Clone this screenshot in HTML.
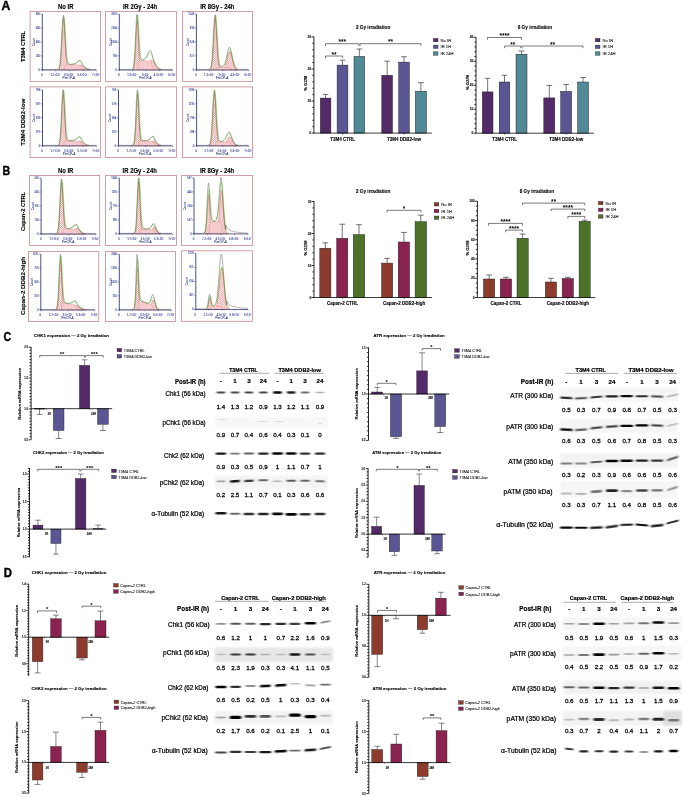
<!DOCTYPE html>
<html lang="en">
<head>
<meta charset="utf-8">
<title>Figure: cell cycle and checkpoint expression after irradiation</title>
<style>
html,body{margin:0;padding:0;background:#fff;}
body{width:685px;height:797px;overflow:hidden;font-family:'Liberation Sans', sans-serif;}
svg{display:block;font-family:"Liberation Sans",sans-serif;filter:blur(0.35px);}
</style>
</head>
<body>
<svg width="685" height="797" viewBox="0 0 685 797">
<defs>
<pattern id="hx" width="2.2" height="2.2" patternUnits="userSpaceOnUse">
<rect width="2.2" height="2.2" fill="#fffafa"/>
<path d="M0 0L2.2 2.2M2.2 0L0 2.2" stroke="#dc3f46" stroke-width="0.3"/>
</pattern>
<pattern id="vx" width="2" height="4" patternUnits="userSpaceOnUse">
<rect width="2" height="4" fill="#fffdfd"/>
<path d="M1 0V4" stroke="#d9353c" stroke-width="0.5"/>
</pattern>
<filter id="b1" x="-30%" y="-150%" width="160%" height="400%"><feGaussianBlur stdDeviation="1.0 0.55"/></filter>
<filter id="b2" x="-10%" y="-50%" width="120%" height="200%"><feGaussianBlur stdDeviation="1.2"/></filter>
<filter id="soft" x="-5%" y="-5%" width="110%" height="110%"><feGaussianBlur stdDeviation="0.35"/></filter>
</defs>
<rect width="685" height="797" fill="#fff"/>
<rect x="30.10" y="11.50" width="70.40" height="70.00" fill="#fff" stroke="#c98f96" stroke-width="0.85" />
<path d="M59.1 69.8L59.1 69.1L59.6 68.1L60.1 66.0L60.6 62.1L61.1 55.9L61.6 47.3L62.1 37.2L62.6 27.5L63.1 20.6L63.6 18.4L64.1 21.7L64.6 29.4L65.1 39.4L65.6 49.3L66.1 57.4L66.6 63.1L67.1 66.5L67.6 68.4L68.1 69.2L68.1 69.8Z" fill="url(#hx)" stroke="#d8434a" stroke-width="0.4" />
<path d="M71.5 69.8L71.5 69.8L72.0 69.8L72.5 69.7L73.0 69.7L73.5 69.6L74.0 69.5L74.5 69.4L75.0 69.2L75.5 69.0L76.0 68.7L76.5 68.4L77.0 68.0L77.5 67.5L78.0 67.1L78.5 66.6L79.0 66.2L79.5 65.8L80.0 65.4L80.4 65.2L80.9 65.1L81.4 65.1L81.9 65.3L82.4 65.5L82.9 65.9L83.4 66.3L83.9 66.8L84.4 67.2L84.9 67.7L85.4 68.1L85.9 68.5L86.4 68.8L86.9 69.1L87.4 69.3L87.9 69.4L88.4 69.6L88.9 69.6L89.4 69.7L89.9 69.7L90.4 69.8L90.4 69.8Z" fill="url(#hx)" stroke="#d8434a" stroke-width="0.4" />
<path d="M64.6 69.8L64.6 66.0L65.1 65.4L65.6 65.1L66.1 65.0L66.6 64.9L67.1 64.8L67.6 64.8L68.1 64.8L68.6 64.8L69.1 64.8L69.5 64.8L70.0 64.8L70.5 64.8L71.0 64.8L71.5 64.8L72.0 64.8L72.5 64.8L73.0 64.8L73.5 64.8L74.0 64.8L74.5 64.8L75.0 64.8L75.5 64.8L76.0 64.8L76.5 64.8L77.0 64.8L77.5 64.8L78.0 64.8L78.5 64.9L79.0 64.9L79.5 65.0L80.0 65.2L80.4 65.6L80.9 66.2L81.4 67.0L81.9 67.9L82.4 68.6L82.9 69.1L83.4 69.5L83.9 69.6L84.4 69.7L84.4 69.8Z" fill="url(#vx)" stroke="#e0474c" stroke-width="0.22" />
<path d="M57.2 69.3L57.7 69.2L58.2 69.1L58.6 68.6L59.1 67.7L59.6 66.0L60.1 62.9L60.6 58.2L61.1 51.5L61.6 43.1L62.1 33.9L62.6 25.4L63.1 19.3L63.6 16.8L64.1 18.5L64.6 24.0L65.1 31.9L65.6 40.5L66.1 48.3L66.6 54.5L67.1 58.8L67.6 61.5L68.1 63.0L68.6 63.8L69.1 64.1L69.5 64.3L70.0 64.3L70.5 64.3L71.0 64.3L71.5 64.3L72.0 64.3L72.5 64.2L73.0 64.1L73.5 64.0L74.0 63.9L74.5 63.7L75.0 63.5L75.5 63.3L76.0 63.0L76.5 62.6L77.0 62.2L77.5 61.8L78.0 61.3L78.5 60.9L79.0 60.6L79.5 60.3L80.0 60.2L80.4 60.4L80.9 60.9L81.4 61.7L81.9 62.7L82.4 63.7L82.9 64.6L83.4 65.3L83.9 65.9L84.4 66.4L84.9 66.9L85.4 67.3L85.9 67.7L86.4 68.1L86.9 68.4L87.4 68.6L87.9 68.8L88.4 69.0L88.9 69.1" fill="none" stroke="#5cd832" stroke-width="0.5" stroke-linejoin="round" transform="translate(0.25 0)"/>
<path d="M42.3 69.6L42.8 69.3L43.3 69.3L43.8 69.6L44.3 69.5L44.8 69.5L45.3 69.4L45.8 69.3L46.3 69.6L46.8 69.7L47.3 69.3L47.7 69.5L48.2 69.3L48.7 69.7L49.2 69.5L49.7 69.4L50.2 69.6L50.7 69.3L51.2 69.3L51.7 69.7L52.2 69.7L52.7 69.4L53.2 69.3L53.7 69.5L54.2 69.6L54.7 69.5L55.2 69.7L55.7 69.6L56.2 69.5L56.7 69.4L57.2 69.6L57.7 69.5L58.2 69.4L58.6 69.1L59.1 68.5L59.6 67.3L60.1 64.3L60.6 60.0L61.1 53.3L61.6 44.7L62.1 34.3L62.6 24.8L63.1 18.1L63.6 15.2L64.1 17.2L64.6 23.6L65.1 32.5L65.6 42.2L66.1 50.1L66.6 56.2L67.1 60.3L67.6 62.4L68.1 63.4L68.6 64.0L69.1 64.3L69.5 64.4L70.0 64.6L70.5 64.6L71.0 64.3L71.5 64.5L72.0 64.5L72.5 64.4L73.0 64.2L73.5 64.2L74.0 64.2L74.5 64.1L75.0 63.9L75.5 63.5L76.0 63.4L76.5 63.1L77.0 62.7L77.5 62.4L78.0 62.0L78.5 61.3L79.0 60.7L79.5 60.6L80.0 60.6L80.4 60.9L80.9 61.2L81.4 61.8L81.9 62.9L82.4 64.1L82.9 64.8L83.4 65.8L83.9 66.3L84.4 66.6L84.9 67.3L85.4 67.8L85.9 68.2L86.4 68.4L86.9 68.5L87.4 69.1L87.9 69.0L88.4 69.1L88.9 69.1L89.4 69.2L89.9 69.2L90.4 69.4L90.9 69.4L91.3 69.5L91.8 69.6L92.3 69.3L92.8 69.4L93.3 69.6L93.8 69.4L94.3 69.5L94.8 69.5L95.3 69.5L95.8 69.4L96.3 69.4" fill="none" stroke="#4a3a3a" stroke-width="0.4" stroke-linejoin="round" transform="translate(-0.3 0)"/>
<line x1="42.30" y1="14.10" x2="42.30" y2="70.40" stroke="#27356f" stroke-width="0.85" />
<line x1="41.80" y1="70.00" x2="96.30" y2="70.00" stroke="#2b3263" stroke-width="0.75" />
<line x1="40.30" y1="14.10" x2="42.30" y2="14.10" stroke="#2a3590" stroke-width="0.45" />
<text x="40.00" y="15.05" font-size="2.6" text-anchor="end" fill="#2a3590" stroke="#2a3590" stroke-width="0.06">800</text>
<line x1="40.30" y1="28.02" x2="42.30" y2="28.02" stroke="#2a3590" stroke-width="0.45" />
<text x="40.00" y="28.97" font-size="2.6" text-anchor="end" fill="#2a3590" stroke="#2a3590" stroke-width="0.06">600</text>
<line x1="40.30" y1="41.95" x2="42.30" y2="41.95" stroke="#2a3590" stroke-width="0.45" />
<text x="40.00" y="42.90" font-size="2.6" text-anchor="end" fill="#2a3590" stroke="#2a3590" stroke-width="0.06">400</text>
<line x1="40.30" y1="55.88" x2="42.30" y2="55.88" stroke="#2a3590" stroke-width="0.45" />
<text x="40.00" y="56.83" font-size="2.6" text-anchor="end" fill="#2a3590" stroke="#2a3590" stroke-width="0.06">200</text>
<line x1="40.30" y1="69.80" x2="42.30" y2="69.80" stroke="#2a3590" stroke-width="0.45" />
<text x="40.00" y="70.75" font-size="2.6" text-anchor="end" fill="#2a3590" stroke="#2a3590" stroke-width="0.06">0</text>
<line x1="42.30" y1="69.80" x2="42.30" y2="71.20" stroke="#2a3590" stroke-width="0.45" />
<text x="41.90" y="76.10" font-size="2.9" text-anchor="middle" fill="#2a3590" stroke="#2a3590" stroke-width="0.05">0</text>
<line x1="55.80" y1="69.80" x2="55.80" y2="71.20" stroke="#2a3590" stroke-width="0.45" />
<text x="55.40" y="76.10" font-size="2.9" text-anchor="middle" fill="#2a3590" stroke="#2a3590" stroke-width="0.05">1.7×10⁷</text>
<line x1="69.30" y1="69.80" x2="69.30" y2="71.20" stroke="#2a3590" stroke-width="0.45" />
<text x="68.90" y="76.10" font-size="2.9" text-anchor="middle" fill="#2a3590" stroke="#2a3590" stroke-width="0.05">3.3×10⁷</text>
<line x1="82.80" y1="69.80" x2="82.80" y2="71.20" stroke="#2a3590" stroke-width="0.45" />
<text x="82.40" y="76.10" font-size="2.9" text-anchor="middle" fill="#2a3590" stroke="#2a3590" stroke-width="0.05">5.3×10⁷</text>
<line x1="96.30" y1="69.80" x2="96.30" y2="71.20" stroke="#2a3590" stroke-width="0.45" />
<text x="95.90" y="76.10" font-size="2.9" text-anchor="middle" fill="#2a3590" stroke="#2a3590" stroke-width="0.05">7×10⁷</text>
<text x="68.90" y="79.10" font-size="3.2" text-anchor="middle" fill="#2a3590" stroke="#2a3590" stroke-width="0.05">PerCP-A</text>
<text font-size="3.1" text-anchor="middle" fill="#2a3590" stroke="#2a3590" stroke-width="0.05" transform="translate(34.70 41.95) rotate(-90)">Count</text>
<rect x="105.60" y="11.50" width="70.90" height="70.00" fill="#fff" stroke="#c98f96" stroke-width="0.85" />
<path d="M133.4 69.8L133.4 69.0L133.9 67.6L134.4 64.5L134.9 58.9L135.4 50.2L135.9 39.4L136.4 28.7L136.8 21.6L137.3 20.6L137.8 26.2L138.3 36.2L138.8 47.3L139.3 56.7L139.8 63.2L140.2 66.9L140.7 68.7L141.2 69.4L141.2 69.8Z" fill="url(#hx)" stroke="#d8434a" stroke-width="0.4" />
<path d="M141.7 69.8L141.7 69.7L142.2 69.7L142.7 69.6L143.2 69.5L143.7 69.3L144.1 69.1L144.6 68.9L145.1 68.5L145.6 68.1L146.1 67.5L146.6 66.9L147.1 66.2L147.6 65.3L148.0 64.5L148.5 63.6L149.0 62.7L149.5 61.8L150.0 61.1L150.5 60.5L151.0 60.1L151.5 59.9L151.9 60.0L152.4 60.2L152.9 60.7L153.4 61.3L153.9 62.1L154.4 63.0L154.9 63.9L155.3 64.8L155.8 65.7L156.3 66.5L156.8 67.2L157.3 67.8L157.8 68.3L158.3 68.7L158.8 69.0L159.2 69.2L159.7 69.4L160.2 69.5L160.7 69.6L161.2 69.7L161.7 69.7L161.7 69.8Z" fill="url(#hx)" stroke="#d8434a" stroke-width="0.4" />
<path d="M138.3 69.8L138.3 62.6L138.8 61.8L139.3 61.3L139.8 61.1L140.2 60.9L140.7 60.9L141.2 60.8L141.7 60.8L142.2 60.8L142.7 60.8L143.2 60.8L143.7 60.8L144.1 60.8L144.6 60.8L145.1 60.8L145.6 60.8L146.1 60.8L146.6 60.8L147.1 60.8L147.6 60.8L148.0 60.8L148.5 60.9L149.0 60.9L149.5 61.0L150.0 61.2L150.5 61.6L151.0 62.3L151.5 63.4L151.9 64.8L152.4 66.3L152.9 67.7L153.4 68.6L153.9 69.2L154.4 69.5L154.9 69.6L155.3 69.7L155.3 69.8Z" fill="url(#vx)" stroke="#e0474c" stroke-width="0.22" />
<path d="M131.5 69.3L132.0 69.3L132.5 69.1L132.9 68.6L133.4 67.4L133.9 65.0L134.4 60.7L134.9 53.9L135.4 44.7L135.9 34.1L136.4 24.1L136.8 16.9L137.3 14.7L137.8 17.7L138.3 25.1L138.8 34.4L139.3 43.4L139.8 50.5L140.2 55.2L140.7 57.9L141.2 59.3L141.7 59.8L142.2 60.0L142.7 60.0L143.2 59.9L143.7 59.7L144.1 59.5L144.6 59.2L145.1 58.9L145.6 58.4L146.1 57.9L146.6 57.4L147.1 56.7L147.6 56.0L148.0 55.3L148.5 54.6L149.0 54.0L149.5 53.4L150.0 53.1L150.5 53.0L151.0 53.4L151.5 54.4L151.9 55.8L152.4 57.6L152.9 59.2L153.4 60.7L153.9 61.8L154.4 62.8L154.9 63.7L155.3 64.5L155.8 65.3L156.3 66.0L156.8 66.6L157.3 67.1L157.8 67.6L158.3 68.0L158.8 68.3L159.2 68.6L159.7 68.8L160.2 69.0L160.7 69.1" fill="none" stroke="#5cd832" stroke-width="0.5" stroke-linejoin="round" transform="translate(0.25 0)"/>
<path d="M119.3 69.2L119.8 69.3L120.3 69.6L120.8 69.6L121.2 69.3L121.7 69.3L122.2 69.4L122.7 69.5L123.2 69.4L123.7 69.4L124.2 69.4L124.7 69.6L125.1 69.5L125.6 69.5L126.1 69.4L126.6 69.2L127.1 69.3L127.6 69.4L128.1 69.5L128.6 69.6L129.0 69.7L129.5 69.7L130.0 69.5L130.5 69.5L131.0 69.5L131.5 69.3L132.0 69.4L132.5 69.3L132.9 69.1L133.4 68.4L133.9 66.4L134.4 62.8L134.9 56.2L135.4 46.8L135.9 35.7L136.4 24.9L136.8 16.6L137.3 14.3L137.8 18.0L138.3 26.3L138.8 36.5L139.3 45.6L139.8 52.6L140.2 56.5L140.7 58.7L141.2 60.0L141.7 60.1L142.2 60.2L142.7 60.2L143.2 60.1L143.7 59.9L144.1 59.5L144.6 59.4L145.1 58.8L145.6 58.5L146.1 57.6L146.6 56.8L147.1 56.2L147.6 55.1L148.0 54.0L148.5 53.0L149.0 52.1L149.5 51.3L150.0 50.6L150.5 50.1L151.0 50.6L151.5 51.1L151.9 52.8L152.4 54.4L152.9 56.6L153.4 58.0L153.9 59.6L154.4 61.0L154.9 62.3L155.3 63.4L155.8 64.5L156.3 65.6L156.8 66.4L157.3 67.0L157.8 67.4L158.3 68.1L158.8 68.7L159.2 68.6L159.7 68.9L160.2 69.0L160.7 69.4L161.2 69.2L161.7 69.6L162.2 69.3L162.7 69.5L163.1 69.6L163.6 69.3L164.1 69.6L164.6 69.4L165.1 69.3L165.6 69.6L166.1 69.6L166.6 69.3L167.0 69.5L167.5 69.4L168.0 69.7L168.5 69.5L169.0 69.6L169.5 69.4L170.0 69.6L170.5 69.2L170.9 69.7L171.4 69.3L171.9 69.7L172.4 69.6" fill="none" stroke="#4a3a3a" stroke-width="0.4" stroke-linejoin="round" transform="translate(-0.3 0)"/>
<line x1="119.30" y1="14.10" x2="119.30" y2="70.40" stroke="#27356f" stroke-width="0.85" />
<line x1="118.80" y1="70.00" x2="172.40" y2="70.00" stroke="#2b3263" stroke-width="0.75" />
<line x1="117.30" y1="14.10" x2="119.30" y2="14.10" stroke="#2a3590" stroke-width="0.45" />
<text x="117.00" y="15.05" font-size="2.6" text-anchor="end" fill="#2a3590" stroke="#2a3590" stroke-width="0.06">3076</text>
<line x1="117.30" y1="28.02" x2="119.30" y2="28.02" stroke="#2a3590" stroke-width="0.45" />
<text x="117.00" y="28.97" font-size="2.6" text-anchor="end" fill="#2a3590" stroke="#2a3590" stroke-width="0.06">2304</text>
<line x1="117.30" y1="41.95" x2="119.30" y2="41.95" stroke="#2a3590" stroke-width="0.45" />
<text x="117.00" y="42.90" font-size="2.6" text-anchor="end" fill="#2a3590" stroke="#2a3590" stroke-width="0.06">1534</text>
<line x1="117.30" y1="55.88" x2="119.30" y2="55.88" stroke="#2a3590" stroke-width="0.45" />
<text x="117.00" y="56.83" font-size="2.6" text-anchor="end" fill="#2a3590" stroke="#2a3590" stroke-width="0.06">766</text>
<line x1="117.30" y1="69.80" x2="119.30" y2="69.80" stroke="#2a3590" stroke-width="0.45" />
<text x="117.00" y="70.75" font-size="2.6" text-anchor="end" fill="#2a3590" stroke="#2a3590" stroke-width="0.06">0</text>
<line x1="119.30" y1="69.80" x2="119.30" y2="71.20" stroke="#2a3590" stroke-width="0.45" />
<text x="118.90" y="76.10" font-size="2.9" text-anchor="middle" fill="#2a3590" stroke="#2a3590" stroke-width="0.05">0</text>
<line x1="132.57" y1="69.80" x2="132.57" y2="71.20" stroke="#2a3590" stroke-width="0.45" />
<text x="132.17" y="76.10" font-size="2.9" text-anchor="middle" fill="#2a3590" stroke="#2a3590" stroke-width="0.05">1.3×10⁷</text>
<line x1="145.85" y1="69.80" x2="145.85" y2="71.20" stroke="#2a3590" stroke-width="0.45" />
<text x="145.45" y="76.10" font-size="2.9" text-anchor="middle" fill="#2a3590" stroke="#2a3590" stroke-width="0.05">3×10⁷</text>
<line x1="159.12" y1="69.80" x2="159.12" y2="71.20" stroke="#2a3590" stroke-width="0.45" />
<text x="158.72" y="76.10" font-size="2.9" text-anchor="middle" fill="#2a3590" stroke="#2a3590" stroke-width="0.05">4.3×10⁷</text>
<line x1="172.40" y1="69.80" x2="172.40" y2="71.20" stroke="#2a3590" stroke-width="0.45" />
<text x="172.00" y="76.10" font-size="2.9" text-anchor="middle" fill="#2a3590" stroke="#2a3590" stroke-width="0.05">6×10⁷</text>
<text x="145.45" y="79.10" font-size="3.2" text-anchor="middle" fill="#2a3590" stroke="#2a3590" stroke-width="0.05">PerCP-A</text>
<text font-size="3.1" text-anchor="middle" fill="#2a3590" stroke="#2a3590" stroke-width="0.05" transform="translate(111.70 41.95) rotate(-90)">Count</text>
<rect x="182.50" y="11.50" width="70.00" height="70.00" fill="#fff" stroke="#c98f96" stroke-width="0.85" />
<path d="M210.8 69.8L210.8 69.1L211.2 68.1L211.7 66.2L212.2 62.7L212.7 57.3L213.2 49.7L213.6 40.5L214.1 30.9L214.6 22.9L215.1 18.3L215.6 18.5L216.0 23.3L216.5 31.5L217.0 41.2L217.5 50.3L218.0 57.7L218.4 63.0L218.9 66.3L219.4 68.2L219.9 69.1L219.9 69.8Z" fill="url(#hx)" stroke="#d8434a" stroke-width="0.4" />
<path d="M222.3 69.8L222.3 69.6L222.7 69.5L223.2 69.3L223.7 69.0L224.2 68.5L224.7 67.8L225.1 66.9L225.6 65.6L226.1 64.1L226.6 62.3L227.0 60.4L227.5 58.3L228.0 56.2L228.5 54.4L229.0 52.9L229.4 52.0L229.9 51.7L230.4 52.1L230.9 53.0L231.4 54.5L231.8 56.4L232.3 58.5L232.8 60.5L233.3 62.5L233.8 64.3L234.2 65.8L234.7 67.0L235.2 67.9L235.7 68.5L236.1 69.0L236.6 69.3L237.1 69.5L237.6 69.6L237.6 69.8Z" fill="url(#hx)" stroke="#d8434a" stroke-width="0.4" />
<path d="M216.5 69.8L216.5 67.9L217.0 67.7L217.5 67.5L218.0 67.5L218.4 67.4L218.9 67.4L219.4 67.4L219.9 67.4L220.3 67.4L220.8 67.4L221.3 67.4L221.8 67.4L222.3 67.4L222.7 67.4L223.2 67.4L223.7 67.4L224.2 67.4L224.7 67.4L225.1 67.4L225.6 67.4L226.1 67.4L226.6 67.4L227.0 67.4L227.5 67.4L228.0 67.5L228.5 67.5L229.0 67.7L229.4 67.9L229.9 68.2L230.4 68.6L230.9 69.0L231.4 69.3L231.8 69.5L232.3 69.7L232.8 69.7L232.8 69.8Z" fill="url(#vx)" stroke="#e0474c" stroke-width="0.22" />
<path d="M208.9 69.3L209.3 69.2L209.8 69.0L210.3 68.5L210.8 67.6L211.2 65.8L211.7 62.9L212.2 58.4L212.7 52.1L213.2 44.2L213.6 35.3L214.1 26.6L214.6 19.6L215.1 15.5L215.6 15.2L216.0 18.8L216.5 25.5L217.0 34.0L217.5 42.6L218.0 50.3L218.4 56.5L218.9 60.8L219.4 63.6L219.9 65.3L220.3 66.1L220.8 66.5L221.3 66.7L221.8 66.7L222.3 66.6L222.7 66.4L223.2 66.1L223.7 65.6L224.2 65.0L224.7 64.2L225.1 63.1L225.6 61.7L226.1 60.2L226.6 58.4L227.0 56.4L227.5 54.5L228.0 52.6L228.5 51.1L229.0 49.9L229.4 49.3L229.9 49.4L230.4 50.1L230.9 51.3L231.4 53.0L231.8 54.9L232.3 56.9L232.8 58.9L233.3 60.9L233.8 62.7L234.2 64.3L234.7 65.6L235.2 66.7L235.7 67.5L236.1 68.1L236.6 68.5L237.1 68.8L237.6 69.0L238.1 69.2" fill="none" stroke="#5cd832" stroke-width="0.5" stroke-linejoin="round" transform="translate(0.25 0)"/>
<path d="M196.4 69.6L196.9 69.4L197.4 69.5L197.8 69.4L198.3 69.4L198.8 69.6L199.3 69.7L199.8 69.3L200.2 69.6L200.7 69.6L201.2 69.2L201.7 69.5L202.1 69.3L202.6 69.5L203.1 69.4L203.6 69.6L204.1 69.4L204.5 69.3L205.0 69.4L205.5 69.3L206.0 69.4L206.5 69.6L206.9 69.3L207.4 69.4L207.9 69.5L208.4 69.6L208.9 69.3L209.3 69.4L209.8 69.2L210.3 68.8L210.8 68.2L211.2 66.8L211.7 64.7L212.2 60.5L212.7 54.7L213.2 46.5L213.6 37.1L214.1 27.9L214.6 20.0L215.1 15.4L215.6 14.8L216.0 19.2L216.5 26.7L217.0 36.0L217.5 45.1L218.0 52.9L218.4 58.7L218.9 62.4L219.4 64.7L219.9 65.8L220.3 66.5L220.8 66.7L221.3 66.8L221.8 66.7L222.3 66.8L222.7 66.9L223.2 66.3L223.7 65.9L224.2 65.4L224.7 64.7L225.1 63.6L225.6 62.4L226.1 60.5L226.6 58.5L227.0 56.4L227.5 54.2L228.0 51.5L228.5 49.4L229.0 48.3L229.4 47.2L229.9 47.3L230.4 48.2L230.9 49.7L231.4 51.5L231.8 53.8L232.3 56.6L232.8 58.8L233.3 61.3L233.8 63.1L234.2 64.9L234.7 66.0L235.2 67.0L235.7 68.0L236.1 68.3L236.6 69.0L237.1 69.3L237.6 69.2L238.1 69.6L238.5 69.5L239.0 69.5L239.5 69.4L240.0 69.6L240.5 69.6L240.9 69.3L241.4 69.5L241.9 69.2L242.4 69.3L242.9 69.5L243.3 69.5L243.8 69.4L244.3 69.4L244.8 69.4L245.2 69.4L245.7 69.4L246.2 69.3L246.7 69.4L247.2 69.5L247.6 69.4L248.1 69.6L248.6 69.5" fill="none" stroke="#4a3a3a" stroke-width="0.4" stroke-linejoin="round" transform="translate(-0.3 0)"/>
<line x1="196.40" y1="14.10" x2="196.40" y2="70.40" stroke="#27356f" stroke-width="0.85" />
<line x1="195.90" y1="70.00" x2="248.60" y2="70.00" stroke="#2b3263" stroke-width="0.75" />
<line x1="194.40" y1="14.10" x2="196.40" y2="14.10" stroke="#2a3590" stroke-width="0.45" />
<text x="194.10" y="15.05" font-size="2.6" text-anchor="end" fill="#2a3590" stroke="#2a3590" stroke-width="0.06">1249</text>
<line x1="194.40" y1="28.02" x2="196.40" y2="28.02" stroke="#2a3590" stroke-width="0.45" />
<text x="194.10" y="28.97" font-size="2.6" text-anchor="end" fill="#2a3590" stroke="#2a3590" stroke-width="0.06">936</text>
<line x1="194.40" y1="41.95" x2="196.40" y2="41.95" stroke="#2a3590" stroke-width="0.45" />
<text x="194.10" y="42.90" font-size="2.6" text-anchor="end" fill="#2a3590" stroke="#2a3590" stroke-width="0.06">624</text>
<line x1="194.40" y1="55.88" x2="196.40" y2="55.88" stroke="#2a3590" stroke-width="0.45" />
<text x="194.10" y="56.83" font-size="2.6" text-anchor="end" fill="#2a3590" stroke="#2a3590" stroke-width="0.06">317</text>
<line x1="194.40" y1="69.80" x2="196.40" y2="69.80" stroke="#2a3590" stroke-width="0.45" />
<text x="194.10" y="70.75" font-size="2.6" text-anchor="end" fill="#2a3590" stroke="#2a3590" stroke-width="0.06">0</text>
<line x1="196.40" y1="69.80" x2="196.40" y2="71.20" stroke="#2a3590" stroke-width="0.45" />
<text x="196.00" y="76.10" font-size="2.9" text-anchor="middle" fill="#2a3590" stroke="#2a3590" stroke-width="0.05">0</text>
<line x1="209.45" y1="69.80" x2="209.45" y2="71.20" stroke="#2a3590" stroke-width="0.45" />
<text x="209.05" y="76.10" font-size="2.9" text-anchor="middle" fill="#2a3590" stroke="#2a3590" stroke-width="0.05">1.3×10⁷</text>
<line x1="222.50" y1="69.80" x2="222.50" y2="71.20" stroke="#2a3590" stroke-width="0.45" />
<text x="222.10" y="76.10" font-size="2.9" text-anchor="middle" fill="#2a3590" stroke="#2a3590" stroke-width="0.05">3×10⁷</text>
<line x1="235.55" y1="69.80" x2="235.55" y2="71.20" stroke="#2a3590" stroke-width="0.45" />
<text x="235.15" y="76.10" font-size="2.9" text-anchor="middle" fill="#2a3590" stroke="#2a3590" stroke-width="0.05">4.3×10⁷</text>
<line x1="248.60" y1="69.80" x2="248.60" y2="71.20" stroke="#2a3590" stroke-width="0.45" />
<text x="248.20" y="76.10" font-size="2.9" text-anchor="middle" fill="#2a3590" stroke="#2a3590" stroke-width="0.05">6×10⁷</text>
<text x="222.10" y="79.10" font-size="3.2" text-anchor="middle" fill="#2a3590" stroke="#2a3590" stroke-width="0.05">PerCP-A</text>
<text font-size="3.1" text-anchor="middle" fill="#2a3590" stroke="#2a3590" stroke-width="0.05" transform="translate(188.80 41.95) rotate(-90)">Count</text>
<rect x="30.10" y="86.90" width="70.40" height="70.60" fill="#fff" stroke="#c98f96" stroke-width="0.85" />
<path d="M58.8 145.7L58.8 145.4L59.3 144.7L59.8 143.2L60.3 140.2L60.8 134.7L61.3 126.5L61.8 115.9L62.3 105.1L62.8 96.8L63.3 93.7L63.8 96.9L64.3 105.4L64.8 116.3L65.3 126.7L65.8 134.9L66.3 140.3L66.8 143.3L67.3 144.8L67.8 145.4L67.8 145.7Z" fill="url(#hx)" stroke="#d8434a" stroke-width="0.4" />
<path d="M71.7 145.7L71.7 145.7L72.2 145.6L72.7 145.6L73.2 145.6L73.7 145.5L74.2 145.3L74.7 145.2L75.2 145.0L75.7 144.7L76.2 144.4L76.7 144.0L77.2 143.5L77.7 143.1L78.2 142.6L78.7 142.2L79.2 141.8L79.7 141.5L80.2 141.3L80.6 141.3L81.1 141.4L81.6 141.6L82.1 142.0L82.6 142.4L83.1 142.9L83.6 143.3L84.1 143.8L84.6 144.2L85.1 144.6L85.6 144.9L86.1 145.1L86.6 145.3L87.1 145.4L87.6 145.5L88.1 145.6L88.6 145.6L89.1 145.7L89.1 145.7Z" fill="url(#hx)" stroke="#d8434a" stroke-width="0.4" />
<path d="M64.3 145.7L64.3 142.1L64.8 141.6L65.3 141.3L65.8 141.2L66.3 141.1L66.8 141.0L67.3 141.0L67.8 141.0L68.3 141.0L68.8 141.0L69.3 141.0L69.7 141.0L70.2 141.0L70.7 141.0L71.2 141.0L71.7 141.0L72.2 141.0L72.7 141.0L73.2 141.0L73.7 141.0L74.2 141.0L74.7 141.0L75.2 141.0L75.7 141.0L76.2 141.0L76.7 141.0L77.2 141.0L77.7 141.0L78.2 141.1L78.7 141.2L79.2 141.3L79.7 141.6L80.2 142.1L80.6 142.8L81.1 143.6L81.6 144.4L82.1 144.9L82.6 145.3L83.1 145.5L83.6 145.6L83.6 145.7Z" fill="url(#vx)" stroke="#e0474c" stroke-width="0.22" />
<path d="M57.4 145.2L57.9 145.1L58.4 144.9L58.8 144.3L59.3 143.0L59.8 140.6L60.3 136.3L60.8 129.8L61.3 121.1L61.8 110.9L62.3 101.0L62.8 93.5L63.3 90.2L63.8 92.1L64.3 98.4L64.8 107.5L65.3 117.2L65.8 125.6L66.3 131.9L66.8 136.0L67.3 138.4L67.8 139.6L68.3 140.2L68.8 140.4L69.3 140.5L69.7 140.5L70.2 140.5L70.7 140.5L71.2 140.5L71.7 140.5L72.2 140.4L72.7 140.4L73.2 140.3L73.7 140.1L74.2 140.0L74.7 139.7L75.2 139.5L75.7 139.1L76.2 138.7L76.7 138.3L77.2 137.8L77.7 137.3L78.2 136.9L78.7 136.5L79.2 136.3L79.7 136.3L80.2 136.6L80.6 137.3L81.1 138.2L81.6 139.2L82.1 140.1L82.6 140.9L83.1 141.6L83.6 142.2L84.1 142.7L84.6 143.2L85.1 143.7L85.6 144.0L86.1 144.3L86.6 144.6L87.1 144.8L87.6 144.9L88.1 145.0" fill="none" stroke="#5cd832" stroke-width="0.5" stroke-linejoin="round" transform="translate(0.25 0)"/>
<path d="M42.5 145.5L43.0 145.5L43.5 145.4L44.0 145.5L44.5 145.5L45.0 145.4L45.5 145.2L46.0 145.2L46.5 145.2L47.0 145.5L47.5 145.3L47.9 145.4L48.4 145.5L48.9 145.5L49.4 145.5L49.9 145.2L50.4 145.2L50.9 145.2L51.4 145.2L51.9 145.5L52.4 145.4L52.9 145.3L53.4 145.2L53.9 145.2L54.4 145.2L54.9 145.5L55.4 145.3L55.9 145.3L56.4 145.3L56.9 145.5L57.4 145.3L57.9 145.5L58.4 145.0L58.8 144.6L59.3 143.9L59.8 142.1L60.3 138.1L60.8 132.2L61.3 123.3L61.8 112.6L62.3 101.9L62.8 93.5L63.3 89.8L63.8 92.1L64.3 99.5L64.8 109.5L65.3 119.4L65.8 128.2L66.3 134.1L66.8 137.4L67.3 139.4L67.8 140.1L68.3 140.5L68.8 140.7L69.3 140.4L69.7 140.8L70.2 140.7L70.7 140.8L71.2 140.6L71.7 140.7L72.2 140.7L72.7 140.4L73.2 140.6L73.7 140.4L74.2 140.1L74.7 140.3L75.2 140.1L75.7 139.8L76.2 139.2L76.7 138.9L77.2 138.6L77.7 138.1L78.2 137.7L78.7 137.2L79.2 137.2L79.7 136.9L80.2 137.1L80.6 137.8L81.1 138.8L81.6 139.7L82.1 141.0L82.6 141.7L83.1 142.1L83.6 142.7L84.1 143.4L84.6 143.6L85.1 144.1L85.6 144.4L86.1 144.8L86.6 145.1L87.1 145.1L87.6 145.3L88.1 145.3L88.6 145.1L89.1 145.4L89.6 145.5L90.1 145.5L90.6 145.5L91.1 145.2L91.5 145.4L92.0 145.4L92.5 145.5L93.0 145.1L93.5 145.4L94.0 145.5L94.5 145.5L95.0 145.5L95.5 145.5L96.0 145.3L96.5 145.5" fill="none" stroke="#4a3a3a" stroke-width="0.4" stroke-linejoin="round" transform="translate(-0.3 0)"/>
<line x1="42.50" y1="89.90" x2="42.50" y2="146.30" stroke="#27356f" stroke-width="0.85" />
<line x1="42.00" y1="145.90" x2="96.50" y2="145.90" stroke="#2b3263" stroke-width="0.75" />
<line x1="40.50" y1="89.90" x2="42.50" y2="89.90" stroke="#2a3590" stroke-width="0.45" />
<text x="40.20" y="90.85" font-size="2.6" text-anchor="end" fill="#2a3590" stroke="#2a3590" stroke-width="0.06">786</text>
<line x1="40.50" y1="103.85" x2="42.50" y2="103.85" stroke="#2a3590" stroke-width="0.45" />
<text x="40.20" y="104.80" font-size="2.6" text-anchor="end" fill="#2a3590" stroke="#2a3590" stroke-width="0.06">587</text>
<line x1="40.50" y1="117.80" x2="42.50" y2="117.80" stroke="#2a3590" stroke-width="0.45" />
<text x="40.20" y="118.75" font-size="2.6" text-anchor="end" fill="#2a3590" stroke="#2a3590" stroke-width="0.06">390</text>
<line x1="40.50" y1="131.75" x2="42.50" y2="131.75" stroke="#2a3590" stroke-width="0.45" />
<text x="40.20" y="132.70" font-size="2.6" text-anchor="end" fill="#2a3590" stroke="#2a3590" stroke-width="0.06">197</text>
<line x1="40.50" y1="145.70" x2="42.50" y2="145.70" stroke="#2a3590" stroke-width="0.45" />
<text x="40.20" y="146.65" font-size="2.6" text-anchor="end" fill="#2a3590" stroke="#2a3590" stroke-width="0.06">0</text>
<line x1="42.50" y1="145.70" x2="42.50" y2="147.10" stroke="#2a3590" stroke-width="0.45" />
<text x="42.10" y="152.00" font-size="2.9" text-anchor="middle" fill="#2a3590" stroke="#2a3590" stroke-width="0.05">0</text>
<line x1="56.00" y1="145.70" x2="56.00" y2="147.10" stroke="#2a3590" stroke-width="0.45" />
<text x="55.60" y="152.00" font-size="2.9" text-anchor="middle" fill="#2a3590" stroke="#2a3590" stroke-width="0.05">1.7×10⁷</text>
<line x1="69.50" y1="145.70" x2="69.50" y2="147.10" stroke="#2a3590" stroke-width="0.45" />
<text x="69.10" y="152.00" font-size="2.9" text-anchor="middle" fill="#2a3590" stroke="#2a3590" stroke-width="0.05">3.3×10⁷</text>
<line x1="83.00" y1="145.70" x2="83.00" y2="147.10" stroke="#2a3590" stroke-width="0.45" />
<text x="82.60" y="152.00" font-size="2.9" text-anchor="middle" fill="#2a3590" stroke="#2a3590" stroke-width="0.05">5.3×10⁷</text>
<line x1="96.50" y1="145.70" x2="96.50" y2="147.10" stroke="#2a3590" stroke-width="0.45" />
<text x="96.10" y="152.00" font-size="2.9" text-anchor="middle" fill="#2a3590" stroke="#2a3590" stroke-width="0.05">7×10⁷</text>
<text x="69.10" y="155.00" font-size="3.2" text-anchor="middle" fill="#2a3590" stroke="#2a3590" stroke-width="0.05">PerCP-A</text>
<text font-size="3.1" text-anchor="middle" fill="#2a3590" stroke="#2a3590" stroke-width="0.05" transform="translate(34.90 117.80) rotate(-90)">Count</text>
<rect x="105.60" y="86.90" width="70.90" height="70.60" fill="#fff" stroke="#c98f96" stroke-width="0.85" />
<path d="M133.8 145.7L133.8 144.9L134.3 143.5L134.8 140.4L135.3 134.6L135.8 125.6L136.3 114.1L136.8 102.7L137.3 95.1L137.8 94.2L138.3 100.3L138.8 111.1L139.3 122.9L139.8 132.7L140.3 139.3L140.8 143.0L141.2 144.7L141.7 145.4L141.7 145.7Z" fill="url(#hx)" stroke="#d8434a" stroke-width="0.4" />
<path d="M146.2 145.7L146.2 145.6L146.7 145.6L147.2 145.5L147.7 145.4L148.2 145.3L148.7 145.1L149.2 144.8L149.7 144.5L150.1 144.0L150.6 143.5L151.1 143.0L151.6 142.4L152.1 141.9L152.6 141.5L153.1 141.2L153.6 141.1L154.1 141.2L154.6 141.4L155.1 141.8L155.6 142.2L156.1 142.8L156.6 143.3L157.1 143.8L157.6 144.3L158.1 144.7L158.6 145.0L159.0 145.2L159.5 145.4L160.0 145.5L160.5 145.6L161.0 145.6L161.5 145.7L161.5 145.7Z" fill="url(#hx)" stroke="#d8434a" stroke-width="0.4" />
<path d="M138.8 145.7L138.8 141.9L139.3 141.5L139.8 141.3L140.3 141.1L140.8 141.1L141.2 141.0L141.7 141.0L142.2 141.0L142.7 141.0L143.2 141.0L143.7 141.0L144.2 141.0L144.7 141.0L145.2 141.0L145.7 141.0L146.2 141.0L146.7 141.0L147.2 141.0L147.7 141.0L148.2 141.0L148.7 141.0L149.2 141.0L149.7 141.0L150.1 141.0L150.6 141.0L151.1 141.1L151.6 141.1L152.1 141.2L152.6 141.4L153.1 141.8L153.6 142.4L154.1 143.2L154.6 144.0L155.1 144.7L155.6 145.1L156.1 145.4L156.6 145.5L156.6 145.7Z" fill="url(#vx)" stroke="#e0474c" stroke-width="0.22" />
<path d="M131.9 145.2L132.3 145.2L132.8 145.0L133.3 144.5L133.8 143.4L134.3 141.1L134.8 136.9L135.3 130.1L135.8 120.9L136.3 110.2L136.8 100.1L137.3 93.4L137.8 91.9L138.3 96.0L138.8 104.3L139.3 114.4L139.8 123.7L140.3 131.0L140.8 135.7L141.2 138.3L141.7 139.7L142.2 140.2L142.7 140.4L143.2 140.5L143.7 140.5L144.2 140.5L144.7 140.5L145.2 140.5L145.7 140.5L146.2 140.4L146.7 140.4L147.2 140.3L147.7 140.1L148.2 139.9L148.7 139.6L149.2 139.3L149.7 138.8L150.1 138.3L150.6 137.8L151.1 137.2L151.6 136.7L152.1 136.3L152.6 136.1L153.1 136.2L153.6 136.6L154.1 137.5L154.6 138.5L155.1 139.5L155.6 140.5L156.1 141.3L156.6 142.1L157.1 142.7L157.6 143.3L158.1 143.8L158.6 144.2L159.0 144.5L159.5 144.7L160.0 144.9L160.5 145.0" fill="none" stroke="#5cd832" stroke-width="0.5" stroke-linejoin="round" transform="translate(0.25 0)"/>
<path d="M118.5 145.3L119.0 145.2L119.5 145.2L120.0 145.2L120.5 145.2L121.0 145.2L121.5 145.6L122.0 145.4L122.5 145.2L123.0 145.3L123.4 145.2L123.9 145.5L124.4 145.4L124.9 145.5L125.4 145.3L125.9 145.3L126.4 145.6L126.9 145.5L127.4 145.4L127.9 145.2L128.4 145.2L128.9 145.5L129.4 145.2L129.9 145.5L130.4 145.3L130.9 145.5L131.4 145.6L131.9 145.2L132.3 145.4L132.8 145.3L133.3 144.7L133.8 144.0L134.3 142.4L134.8 138.4L135.3 132.1L135.8 122.4L136.3 111.0L136.8 99.3L137.3 91.6L137.8 89.8L138.3 94.8L138.8 104.7L139.3 115.9L139.8 125.8L140.3 132.9L140.8 137.2L141.2 139.3L141.7 140.1L142.2 140.7L142.7 140.5L143.2 140.7L143.7 140.7L144.2 140.5L144.7 140.7L145.2 140.7L145.7 140.6L146.2 140.5L146.7 140.7L147.2 140.3L147.7 140.6L148.2 140.1L148.7 139.8L149.2 139.9L149.7 139.2L150.1 138.9L150.6 138.3L151.1 137.9L151.6 137.4L152.1 136.9L152.6 136.3L153.1 136.7L153.6 136.9L154.1 137.7L154.6 138.7L155.1 140.1L155.6 141.1L156.1 141.8L156.6 142.5L157.1 143.4L157.6 143.7L158.1 144.1L158.6 144.4L159.0 145.0L159.5 144.8L160.0 145.3L160.5 145.3L161.0 145.2L161.5 145.1L162.0 145.4L162.5 145.2L163.0 145.3L163.5 145.4L164.0 145.4L164.5 145.5L165.0 145.5L165.5 145.5L166.0 145.3L166.5 145.1L167.0 145.5L167.5 145.5L167.9 145.1L168.4 145.3L168.9 145.4L169.4 145.5L169.9 145.3L170.4 145.2L170.9 145.4L171.4 145.4L171.9 145.5L172.4 145.2" fill="none" stroke="#4a3a3a" stroke-width="0.4" stroke-linejoin="round" transform="translate(-0.3 0)"/>
<line x1="118.50" y1="89.90" x2="118.50" y2="146.30" stroke="#27356f" stroke-width="0.85" />
<line x1="118.00" y1="145.90" x2="172.40" y2="145.90" stroke="#2b3263" stroke-width="0.75" />
<line x1="116.50" y1="89.90" x2="118.50" y2="89.90" stroke="#2a3590" stroke-width="0.45" />
<text x="116.20" y="90.85" font-size="2.6" text-anchor="end" fill="#2a3590" stroke="#2a3590" stroke-width="0.06">769</text>
<line x1="116.50" y1="103.85" x2="118.50" y2="103.85" stroke="#2a3590" stroke-width="0.45" />
<text x="116.20" y="104.80" font-size="2.6" text-anchor="end" fill="#2a3590" stroke="#2a3590" stroke-width="0.06">576</text>
<line x1="116.50" y1="117.80" x2="118.50" y2="117.80" stroke="#2a3590" stroke-width="0.45" />
<text x="116.20" y="118.75" font-size="2.6" text-anchor="end" fill="#2a3590" stroke="#2a3590" stroke-width="0.06">384</text>
<line x1="116.50" y1="131.75" x2="118.50" y2="131.75" stroke="#2a3590" stroke-width="0.45" />
<text x="116.20" y="132.70" font-size="2.6" text-anchor="end" fill="#2a3590" stroke="#2a3590" stroke-width="0.06">192</text>
<line x1="116.50" y1="145.70" x2="118.50" y2="145.70" stroke="#2a3590" stroke-width="0.45" />
<text x="116.20" y="146.65" font-size="2.6" text-anchor="end" fill="#2a3590" stroke="#2a3590" stroke-width="0.06">0</text>
<line x1="118.50" y1="145.70" x2="118.50" y2="147.10" stroke="#2a3590" stroke-width="0.45" />
<text x="118.10" y="152.00" font-size="2.9" text-anchor="middle" fill="#2a3590" stroke="#2a3590" stroke-width="0.05">0</text>
<line x1="131.97" y1="145.70" x2="131.97" y2="147.10" stroke="#2a3590" stroke-width="0.45" />
<text x="131.57" y="152.00" font-size="2.9" text-anchor="middle" fill="#2a3590" stroke="#2a3590" stroke-width="0.05">1.7×10⁷</text>
<line x1="145.45" y1="145.70" x2="145.45" y2="147.10" stroke="#2a3590" stroke-width="0.45" />
<text x="145.05" y="152.00" font-size="2.9" text-anchor="middle" fill="#2a3590" stroke="#2a3590" stroke-width="0.05">3.3×10⁷</text>
<line x1="158.93" y1="145.70" x2="158.93" y2="147.10" stroke="#2a3590" stroke-width="0.45" />
<text x="158.53" y="152.00" font-size="2.9" text-anchor="middle" fill="#2a3590" stroke="#2a3590" stroke-width="0.05">5.3×10⁷</text>
<line x1="172.40" y1="145.70" x2="172.40" y2="147.10" stroke="#2a3590" stroke-width="0.45" />
<text x="172.00" y="152.00" font-size="2.9" text-anchor="middle" fill="#2a3590" stroke="#2a3590" stroke-width="0.05">7×10⁷</text>
<text x="145.05" y="155.00" font-size="3.2" text-anchor="middle" fill="#2a3590" stroke="#2a3590" stroke-width="0.05">PerCP-A</text>
<text font-size="3.1" text-anchor="middle" fill="#2a3590" stroke="#2a3590" stroke-width="0.05" transform="translate(110.90 117.80) rotate(-90)">Count</text>
<rect x="182.50" y="86.90" width="70.00" height="70.60" fill="#fff" stroke="#c98f96" stroke-width="0.85" />
<path d="M210.0 145.7L210.0 145.0L210.4 144.0L210.9 142.1L211.4 138.7L211.9 133.3L212.3 125.8L212.8 116.5L213.3 106.8L213.8 98.6L214.3 93.9L214.7 93.8L215.2 98.4L215.7 106.5L216.2 116.1L216.6 125.4L217.1 133.0L217.6 138.5L218.1 142.0L218.5 144.0L219.0 145.0L219.0 145.7Z" fill="url(#hx)" stroke="#d8434a" stroke-width="0.4" />
<path d="M221.4 145.7L221.4 145.6L221.9 145.6L222.4 145.5L222.8 145.4L223.3 145.2L223.8 144.9L224.3 144.5L224.7 144.1L225.2 143.5L225.7 142.8L226.2 141.9L226.7 141.0L227.1 140.1L227.6 139.2L228.1 138.3L228.6 137.6L229.0 137.2L229.5 136.9L230.0 137.0L230.5 137.3L230.9 137.8L231.4 138.5L231.9 139.4L232.4 140.3L232.9 141.3L233.3 142.1L233.8 142.9L234.3 143.6L234.8 144.2L235.2 144.6L235.7 145.0L236.2 145.2L236.7 145.4L237.2 145.5L237.6 145.6L238.1 145.6L238.1 145.7Z" fill="url(#hx)" stroke="#d8434a" stroke-width="0.4" />
<path d="M215.7 145.7L215.7 142.6L216.2 142.3L216.6 142.1L217.1 142.0L217.6 142.0L218.1 141.9L218.5 141.9L219.0 141.9L219.5 141.9L220.0 141.9L220.5 141.9L220.9 141.9L221.4 141.9L221.9 141.9L222.4 141.9L222.8 141.9L223.3 141.9L223.8 141.9L224.3 141.9L224.7 141.9L225.2 141.9L225.7 141.9L226.2 141.9L226.7 141.9L227.1 141.9L227.6 142.0L228.1 142.1L228.6 142.2L229.0 142.5L229.5 142.9L230.0 143.5L230.5 144.2L230.9 144.7L231.4 145.1L231.9 145.4L232.4 145.5L232.9 145.6L232.9 145.7Z" fill="url(#vx)" stroke="#e0474c" stroke-width="0.22" />
<path d="M208.0 145.2L208.5 145.1L209.0 144.9L209.5 144.4L210.0 143.5L210.4 141.8L210.9 139.0L211.4 134.6L211.9 128.5L212.3 120.7L212.8 111.9L213.3 103.2L213.8 96.0L214.3 91.6L214.7 90.9L215.2 94.0L215.7 100.3L216.2 108.4L216.6 116.9L217.1 124.5L217.6 130.7L218.1 135.1L218.5 138.0L219.0 139.7L219.5 140.6L220.0 141.1L220.5 141.2L220.9 141.3L221.4 141.3L221.9 141.2L222.4 141.1L222.8 140.9L223.3 140.6L223.8 140.3L224.3 139.8L224.7 139.3L225.2 138.6L225.7 137.9L226.2 137.1L226.7 136.2L227.1 135.3L227.6 134.5L228.1 133.8L228.6 133.3L229.0 133.1L229.5 133.4L230.0 134.0L230.5 134.9L230.9 135.9L231.4 137.0L231.9 138.1L232.4 139.1L232.9 140.1L233.3 141.0L233.8 141.8L234.3 142.6L234.8 143.2L235.2 143.7L235.7 144.2L236.2 144.5L236.7 144.7L237.2 144.9L237.6 145.0" fill="none" stroke="#5cd832" stroke-width="0.5" stroke-linejoin="round" transform="translate(0.25 0)"/>
<path d="M196.6 145.2L197.1 145.2L197.6 145.4L198.0 145.5L198.5 145.6L199.0 145.3L199.5 145.4L199.9 145.2L200.4 145.4L200.9 145.2L201.4 145.5L201.8 145.2L202.3 145.2L202.8 145.4L203.3 145.3L203.8 145.3L204.2 145.5L204.7 145.3L205.2 145.2L205.7 145.5L206.1 145.2L206.6 145.3L207.1 145.2L207.6 145.4L208.0 145.5L208.5 145.2L209.0 145.0L209.5 144.9L210.0 144.4L210.4 143.1L210.9 140.5L211.4 136.7L211.9 130.5L212.3 122.8L212.8 113.6L213.3 103.8L213.8 95.8L214.3 90.6L214.7 89.9L215.2 93.7L215.7 100.9L216.2 109.9L216.6 118.9L217.1 126.6L217.6 132.9L218.1 136.8L218.5 139.1L219.0 140.5L219.5 141.0L220.0 141.5L220.5 141.3L220.9 141.5L221.4 141.6L221.9 141.3L222.4 141.4L222.8 141.3L223.3 140.9L223.8 140.7L224.3 140.3L224.7 139.4L225.2 138.8L225.7 138.2L226.2 136.9L226.7 136.1L227.1 134.9L227.6 133.6L228.1 132.8L228.6 132.2L229.0 131.9L229.5 132.0L230.0 132.8L230.5 133.4L230.9 135.0L231.4 136.1L231.9 137.3L232.4 138.7L232.9 139.7L233.3 141.1L233.8 141.8L234.3 142.7L234.8 143.4L235.2 143.9L235.7 144.5L236.2 144.6L236.7 144.8L237.2 145.1L237.6 145.2L238.1 145.2L238.6 145.3L239.1 145.5L239.5 145.2L240.0 145.4L240.5 145.4L241.0 145.2L241.4 145.5L241.9 145.6L242.4 145.5L242.9 145.3L243.4 145.4L243.8 145.5L244.3 145.4L244.8 145.2L245.3 145.5L245.7 145.4L246.2 145.2L246.7 145.3L247.2 145.5L247.6 145.4L248.1 145.4L248.6 145.5" fill="none" stroke="#4a3a3a" stroke-width="0.4" stroke-linejoin="round" transform="translate(-0.3 0)"/>
<line x1="196.60" y1="89.90" x2="196.60" y2="146.30" stroke="#27356f" stroke-width="0.85" />
<line x1="196.10" y1="145.90" x2="248.60" y2="145.90" stroke="#2b3263" stroke-width="0.75" />
<line x1="194.60" y1="89.90" x2="196.60" y2="89.90" stroke="#2a3590" stroke-width="0.45" />
<text x="194.30" y="90.85" font-size="2.6" text-anchor="end" fill="#2a3590" stroke="#2a3590" stroke-width="0.06">1593</text>
<line x1="194.60" y1="103.85" x2="196.60" y2="103.85" stroke="#2a3590" stroke-width="0.45" />
<text x="194.30" y="104.80" font-size="2.6" text-anchor="end" fill="#2a3590" stroke="#2a3590" stroke-width="0.06">1192</text>
<line x1="194.60" y1="117.80" x2="196.60" y2="117.80" stroke="#2a3590" stroke-width="0.45" />
<text x="194.30" y="118.75" font-size="2.6" text-anchor="end" fill="#2a3590" stroke="#2a3590" stroke-width="0.06">796</text>
<line x1="194.60" y1="131.75" x2="196.60" y2="131.75" stroke="#2a3590" stroke-width="0.45" />
<text x="194.30" y="132.70" font-size="2.6" text-anchor="end" fill="#2a3590" stroke="#2a3590" stroke-width="0.06">398</text>
<line x1="194.60" y1="145.70" x2="196.60" y2="145.70" stroke="#2a3590" stroke-width="0.45" />
<text x="194.30" y="146.65" font-size="2.6" text-anchor="end" fill="#2a3590" stroke="#2a3590" stroke-width="0.06">0</text>
<line x1="196.60" y1="145.70" x2="196.60" y2="147.10" stroke="#2a3590" stroke-width="0.45" />
<text x="196.20" y="152.00" font-size="2.9" text-anchor="middle" fill="#2a3590" stroke="#2a3590" stroke-width="0.05">0</text>
<line x1="209.60" y1="145.70" x2="209.60" y2="147.10" stroke="#2a3590" stroke-width="0.45" />
<text x="209.20" y="152.00" font-size="2.9" text-anchor="middle" fill="#2a3590" stroke="#2a3590" stroke-width="0.05">1.7×10⁷</text>
<line x1="222.60" y1="145.70" x2="222.60" y2="147.10" stroke="#2a3590" stroke-width="0.45" />
<text x="222.20" y="152.00" font-size="2.9" text-anchor="middle" fill="#2a3590" stroke="#2a3590" stroke-width="0.05">3.3×10⁷</text>
<line x1="235.60" y1="145.70" x2="235.60" y2="147.10" stroke="#2a3590" stroke-width="0.45" />
<text x="235.20" y="152.00" font-size="2.9" text-anchor="middle" fill="#2a3590" stroke="#2a3590" stroke-width="0.05">5.3×10⁷</text>
<line x1="248.60" y1="145.70" x2="248.60" y2="147.10" stroke="#2a3590" stroke-width="0.45" />
<text x="248.20" y="152.00" font-size="2.9" text-anchor="middle" fill="#2a3590" stroke="#2a3590" stroke-width="0.05">7×10⁷</text>
<text x="222.20" y="155.00" font-size="3.2" text-anchor="middle" fill="#2a3590" stroke="#2a3590" stroke-width="0.05">PerCP-A</text>
<text font-size="3.1" text-anchor="middle" fill="#2a3590" stroke="#2a3590" stroke-width="0.05" transform="translate(189.00 117.80) rotate(-90)">Count</text>
<rect x="29.50" y="175.50" width="70.20" height="70.00" fill="#fff" stroke="#c98f96" stroke-width="0.85" />
<path d="M57.2 233.9L57.2 233.5L57.7 232.8L58.2 231.2L58.7 227.9L59.2 222.4L59.7 214.2L60.2 204.0L60.7 193.6L61.2 185.8L61.7 183.0L62.2 186.1L62.7 194.1L63.2 204.5L63.7 214.7L64.2 222.7L64.7 228.2L65.2 231.3L65.7 232.8L66.2 233.5L66.2 233.9Z" fill="url(#hx)" stroke="#d8434a" stroke-width="0.4" />
<path d="M68.2 233.9L68.2 233.9L68.8 233.8L69.3 233.8L69.8 233.7L70.3 233.6L70.8 233.5L71.3 233.3L71.8 233.0L72.3 232.6L72.8 232.2L73.3 231.7L73.8 231.1L74.3 230.5L74.8 229.9L75.3 229.3L75.8 228.8L76.3 228.4L76.8 228.2L77.3 228.2L77.8 228.4L78.3 228.7L78.8 229.2L79.3 229.7L79.8 230.3L80.3 231.0L80.8 231.5L81.3 232.1L81.8 232.5L82.3 232.9L82.8 233.2L83.3 233.4L83.8 233.6L84.3 233.7L84.8 233.8L85.3 233.8L85.8 233.9L85.8 233.9Z" fill="url(#hx)" stroke="#d8434a" stroke-width="0.4" />
<path d="M62.7 233.9L62.7 230.2L63.2 229.6L63.7 229.3L64.2 229.2L64.7 229.1L65.2 229.0L65.7 229.0L66.2 229.0L66.7 229.0L67.2 229.0L67.7 229.0L68.2 229.0L68.8 229.0L69.3 229.0L69.8 229.0L70.3 229.0L70.8 229.0L71.3 229.0L71.8 229.0L72.3 229.0L72.8 229.0L73.3 229.0L73.8 229.0L74.3 229.0L74.8 229.1L75.3 229.2L75.8 229.3L76.3 229.7L76.8 230.2L77.3 230.9L77.8 231.8L78.3 232.6L78.8 233.2L79.3 233.5L79.8 233.7L80.3 233.8L80.3 233.9Z" fill="url(#vx)" stroke="#e0474c" stroke-width="0.22" />
<path d="M56.2 233.3L56.7 233.0L57.2 232.4L57.7 231.0L58.2 228.4L58.7 224.1L59.2 217.6L59.7 209.1L60.2 199.4L60.7 190.1L61.2 183.0L61.7 179.9L62.2 181.6L62.7 187.5L63.2 196.0L63.7 205.2L64.2 213.4L64.7 219.6L65.2 223.8L65.7 226.2L66.2 227.5L66.7 228.1L67.2 228.4L67.7 228.5L68.2 228.5L68.8 228.5L69.3 228.4L69.8 228.3L70.3 228.2L70.8 228.1L71.3 227.9L71.8 227.7L72.3 227.4L72.8 227.1L73.3 226.7L73.8 226.3L74.3 225.9L74.8 225.6L75.3 225.3L75.8 225.2L76.3 225.2L76.8 225.6L77.3 226.4L77.8 227.3L78.3 228.3L78.8 229.2L79.3 229.9L79.8 230.5L80.3 231.0L80.8 231.5L81.3 231.9L81.8 232.2L82.3 232.5L82.8 232.8L83.3 233.0L83.8 233.1" fill="none" stroke="#5cd832" stroke-width="0.5" stroke-linejoin="round" transform="translate(0.25 0)"/>
<path d="M41.1 233.6L41.6 233.7L42.1 233.5L42.6 233.7L43.1 233.5L43.6 233.6L44.1 233.7L44.6 233.5L45.1 233.8L45.6 233.6L46.1 233.7L46.6 233.7L47.1 233.6L47.6 233.4L48.1 233.7L48.6 233.7L49.1 233.5L49.6 233.4L50.1 233.5L50.7 233.6L51.2 233.3L51.7 233.7L52.2 233.4L52.7 233.6L53.2 233.7L53.7 233.7L54.2 233.6L54.7 233.4L55.2 233.7L55.7 233.5L56.2 233.4L56.7 233.4L57.2 232.9L57.7 232.1L58.2 230.0L58.7 226.1L59.2 219.7L59.7 211.1L60.2 200.7L60.7 190.2L61.2 182.2L61.7 178.8L62.2 180.7L62.7 187.6L63.2 197.4L63.7 207.2L64.2 215.5L64.7 221.3L65.2 225.0L65.7 227.2L66.2 227.8L66.7 228.6L67.2 228.6L67.7 228.5L68.2 228.8L68.8 228.6L69.3 228.7L69.8 228.4L70.3 228.3L70.8 228.2L71.3 227.9L71.8 227.9L72.3 227.4L72.8 227.0L73.3 226.5L73.8 226.1L74.3 225.3L74.8 224.8L75.3 224.5L75.8 224.2L76.3 224.4L76.8 224.5L77.3 225.2L77.8 226.1L78.3 227.3L78.8 228.5L79.3 229.3L79.8 230.0L80.3 230.9L80.8 231.3L81.3 232.0L81.8 232.4L82.3 232.8L82.8 232.8L83.3 233.3L83.8 233.4L84.3 233.4L84.8 233.3L85.3 233.7L85.8 233.5L86.3 233.5L86.9 233.4L87.4 233.4L87.9 233.4L88.4 233.6L88.9 233.6L89.4 233.6L89.9 233.4L90.4 233.3L90.9 233.7L91.4 233.7L91.9 233.7L92.4 233.7L92.9 233.6L93.4 233.5L93.9 233.7L94.4 233.8L94.9 233.6L95.4 233.6L95.9 233.5" fill="none" stroke="#4a3a3a" stroke-width="0.4" stroke-linejoin="round" transform="translate(-0.3 0)"/>
<line x1="41.10" y1="178.10" x2="41.10" y2="234.50" stroke="#27356f" stroke-width="0.85" />
<line x1="40.60" y1="234.10" x2="95.90" y2="234.10" stroke="#2b3263" stroke-width="0.75" />
<line x1="39.10" y1="178.10" x2="41.10" y2="178.10" stroke="#2a3590" stroke-width="0.45" />
<text x="38.80" y="179.05" font-size="2.6" text-anchor="end" fill="#2a3590" stroke="#2a3590" stroke-width="0.06">601</text>
<line x1="39.10" y1="192.05" x2="41.10" y2="192.05" stroke="#2a3590" stroke-width="0.45" />
<text x="38.80" y="193.00" font-size="2.6" text-anchor="end" fill="#2a3590" stroke="#2a3590" stroke-width="0.06">450</text>
<line x1="39.10" y1="206.00" x2="41.10" y2="206.00" stroke="#2a3590" stroke-width="0.45" />
<text x="38.80" y="206.95" font-size="2.6" text-anchor="end" fill="#2a3590" stroke="#2a3590" stroke-width="0.06">301</text>
<line x1="39.10" y1="219.95" x2="41.10" y2="219.95" stroke="#2a3590" stroke-width="0.45" />
<text x="38.80" y="220.90" font-size="2.6" text-anchor="end" fill="#2a3590" stroke="#2a3590" stroke-width="0.06">150</text>
<line x1="39.10" y1="233.90" x2="41.10" y2="233.90" stroke="#2a3590" stroke-width="0.45" />
<text x="38.80" y="234.85" font-size="2.6" text-anchor="end" fill="#2a3590" stroke="#2a3590" stroke-width="0.06">0</text>
<line x1="41.10" y1="233.90" x2="41.10" y2="235.30" stroke="#2a3590" stroke-width="0.45" />
<text x="40.70" y="240.20" font-size="2.9" text-anchor="middle" fill="#2a3590" stroke="#2a3590" stroke-width="0.05">0</text>
<line x1="54.80" y1="233.90" x2="54.80" y2="235.30" stroke="#2a3590" stroke-width="0.45" />
<text x="54.40" y="240.20" font-size="2.9" text-anchor="middle" fill="#2a3590" stroke="#2a3590" stroke-width="0.05">1.7×10⁷</text>
<line x1="68.50" y1="233.90" x2="68.50" y2="235.30" stroke="#2a3590" stroke-width="0.45" />
<text x="68.10" y="240.20" font-size="2.9" text-anchor="middle" fill="#2a3590" stroke="#2a3590" stroke-width="0.05">3.3×10⁷</text>
<line x1="82.20" y1="233.90" x2="82.20" y2="235.30" stroke="#2a3590" stroke-width="0.45" />
<text x="81.80" y="240.20" font-size="2.9" text-anchor="middle" fill="#2a3590" stroke="#2a3590" stroke-width="0.05">5.3×10⁷</text>
<line x1="95.90" y1="233.90" x2="95.90" y2="235.30" stroke="#2a3590" stroke-width="0.45" />
<text x="95.50" y="240.20" font-size="2.9" text-anchor="middle" fill="#2a3590" stroke="#2a3590" stroke-width="0.05">7×10⁷</text>
<text x="68.10" y="243.20" font-size="3.2" text-anchor="middle" fill="#2a3590" stroke="#2a3590" stroke-width="0.05">PerCP-A</text>
<text font-size="3.1" text-anchor="middle" fill="#2a3590" stroke="#2a3590" stroke-width="0.05" transform="translate(33.50 206.00) rotate(-90)">Count</text>
<rect x="105.50" y="175.50" width="71.00" height="70.00" fill="#fff" stroke="#c98f96" stroke-width="0.85" />
<path d="M134.9 233.7L134.9 233.1L135.4 232.1L135.9 229.6L136.4 224.9L136.8 217.1L137.3 206.4L137.8 194.7L138.3 185.4L138.8 181.7L139.3 185.0L139.8 194.1L140.2 205.7L140.7 216.5L141.2 224.5L141.7 229.4L142.2 232.0L142.7 233.1L142.7 233.7Z" fill="url(#hx)" stroke="#d8434a" stroke-width="0.4" />
<path d="M148.0 233.7L148.0 233.6L148.5 233.6L149.0 233.4L149.5 233.2L150.0 232.9L150.5 232.5L151.0 231.9L151.5 231.1L151.9 230.2L152.4 229.3L152.9 228.5L153.4 227.8L153.9 227.3L154.4 227.2L154.9 227.4L155.3 228.0L155.8 228.7L156.3 229.6L156.8 230.5L157.3 231.4L157.8 232.1L158.3 232.6L158.8 233.0L159.2 233.3L159.7 233.5L160.2 233.6L160.7 233.6L160.7 233.7Z" fill="url(#hx)" stroke="#d8434a" stroke-width="0.4" />
<path d="M139.8 233.7L139.8 230.4L140.2 229.9L140.7 229.6L141.2 229.5L141.7 229.4L142.2 229.3L142.7 229.3L143.2 229.3L143.7 229.3L144.1 229.3L144.6 229.3L145.1 229.3L145.6 229.3L146.1 229.3L146.6 229.3L147.1 229.3L147.6 229.3L148.0 229.3L148.5 229.3L149.0 229.3L149.5 229.3L150.0 229.3L150.5 229.3L151.0 229.3L151.5 229.3L151.9 229.4L152.4 229.4L152.9 229.6L153.4 229.8L153.9 230.2L154.4 230.9L154.9 231.6L155.3 232.3L155.8 232.9L156.3 233.3L156.8 233.5L156.8 233.7Z" fill="url(#vx)" stroke="#e0474c" stroke-width="0.22" />
<path d="M132.9 233.2L133.4 233.2L133.9 233.1L134.4 232.7L134.9 231.8L135.4 229.9L135.9 226.3L136.4 220.3L136.8 211.6L137.3 201.1L137.8 190.4L138.3 182.0L138.8 178.3L139.3 180.2L139.8 187.2L140.2 197.1L140.7 207.2L141.2 215.7L141.7 221.7L142.2 225.4L142.7 227.4L143.2 228.3L143.7 228.7L144.1 228.8L144.6 228.8L145.1 228.8L145.6 228.8L146.1 228.8L146.6 228.8L147.1 228.8L147.6 228.8L148.0 228.7L148.5 228.6L149.0 228.4L149.5 228.2L150.0 227.8L150.5 227.3L151.0 226.7L151.5 226.0L151.9 225.2L152.4 224.5L152.9 223.9L153.4 223.5L153.9 223.5L154.4 224.1L154.9 225.0L155.3 226.2L155.8 227.4L156.3 228.5L156.8 229.6L157.3 230.5L157.8 231.2L158.3 231.9L158.8 232.3L159.2 232.7L159.7 232.9L160.2 233.0L160.7 233.1" fill="none" stroke="#5cd832" stroke-width="0.5" stroke-linejoin="round" transform="translate(0.25 0)"/>
<path d="M119.3 233.5L119.8 233.1L120.3 233.5L120.8 233.3L121.2 233.5L121.7 233.5L122.2 233.1L122.7 233.5L123.2 233.3L123.7 233.4L124.2 233.4L124.7 233.4L125.1 233.5L125.6 233.2L126.1 233.5L126.6 233.5L127.1 233.6L127.6 233.5L128.1 233.4L128.6 233.2L129.0 233.4L129.5 233.5L130.0 233.5L130.5 233.1L131.0 233.5L131.5 233.3L132.0 233.4L132.5 233.3L132.9 233.4L133.4 233.2L133.9 233.3L134.4 233.0L134.9 232.3L135.4 231.0L135.9 228.2L136.4 222.8L136.8 214.0L137.3 203.2L137.8 191.7L138.3 182.0L138.8 178.0L139.3 180.3L139.8 188.2L140.2 199.2L140.7 209.8L141.2 217.9L141.7 223.7L142.2 226.5L142.7 228.2L143.2 228.6L143.7 228.8L144.1 228.7L144.6 228.8L145.1 228.9L145.6 229.1L146.1 229.1L146.6 228.9L147.1 228.9L147.6 229.1L148.0 228.7L148.5 228.8L149.0 228.6L149.5 228.6L150.0 228.3L150.5 228.0L151.0 227.3L151.5 226.7L151.9 225.8L152.4 225.1L152.9 224.2L153.4 223.8L153.9 224.1L154.4 224.5L154.9 225.6L155.3 226.6L155.8 227.7L156.3 229.2L156.8 230.0L157.3 231.1L157.8 232.0L158.3 232.2L158.8 232.8L159.2 233.1L159.7 233.2L160.2 233.4L160.7 233.3L161.2 233.3L161.7 233.4L162.2 233.3L162.7 233.4L163.1 233.5L163.6 233.5L164.1 233.5L164.6 233.3L165.1 233.4L165.6 233.2L166.1 233.3L166.6 233.3L167.0 233.1L167.5 233.5L168.0 233.6L168.5 233.5L169.0 233.4L169.5 233.3L170.0 233.2L170.5 233.4L170.9 233.1L171.4 233.6L171.9 233.2L172.4 233.5" fill="none" stroke="#4a3a3a" stroke-width="0.4" stroke-linejoin="round" transform="translate(-0.3 0)"/>
<line x1="119.30" y1="177.90" x2="119.30" y2="234.30" stroke="#27356f" stroke-width="0.85" />
<line x1="118.80" y1="233.90" x2="172.40" y2="233.90" stroke="#2b3263" stroke-width="0.75" />
<line x1="117.30" y1="177.90" x2="119.30" y2="177.90" stroke="#2a3590" stroke-width="0.45" />
<text x="117.00" y="178.85" font-size="2.6" text-anchor="end" fill="#2a3590" stroke="#2a3590" stroke-width="0.06">1540</text>
<line x1="117.30" y1="191.85" x2="119.30" y2="191.85" stroke="#2a3590" stroke-width="0.45" />
<text x="117.00" y="192.80" font-size="2.6" text-anchor="end" fill="#2a3590" stroke="#2a3590" stroke-width="0.06">1155</text>
<line x1="117.30" y1="205.80" x2="119.30" y2="205.80" stroke="#2a3590" stroke-width="0.45" />
<text x="117.00" y="206.75" font-size="2.6" text-anchor="end" fill="#2a3590" stroke="#2a3590" stroke-width="0.06">770</text>
<line x1="117.30" y1="219.75" x2="119.30" y2="219.75" stroke="#2a3590" stroke-width="0.45" />
<text x="117.00" y="220.70" font-size="2.6" text-anchor="end" fill="#2a3590" stroke="#2a3590" stroke-width="0.06">385</text>
<line x1="117.30" y1="233.70" x2="119.30" y2="233.70" stroke="#2a3590" stroke-width="0.45" />
<text x="117.00" y="234.65" font-size="2.6" text-anchor="end" fill="#2a3590" stroke="#2a3590" stroke-width="0.06">0</text>
<line x1="119.30" y1="233.70" x2="119.30" y2="235.10" stroke="#2a3590" stroke-width="0.45" />
<text x="118.90" y="240.00" font-size="2.9" text-anchor="middle" fill="#2a3590" stroke="#2a3590" stroke-width="0.05">0</text>
<line x1="132.57" y1="233.70" x2="132.57" y2="235.10" stroke="#2a3590" stroke-width="0.45" />
<text x="132.17" y="240.00" font-size="2.9" text-anchor="middle" fill="#2a3590" stroke="#2a3590" stroke-width="0.05">1.7×10⁷</text>
<line x1="145.85" y1="233.70" x2="145.85" y2="235.10" stroke="#2a3590" stroke-width="0.45" />
<text x="145.45" y="240.00" font-size="2.9" text-anchor="middle" fill="#2a3590" stroke="#2a3590" stroke-width="0.05">3.3×10⁷</text>
<line x1="159.12" y1="233.70" x2="159.12" y2="235.10" stroke="#2a3590" stroke-width="0.45" />
<text x="158.72" y="240.00" font-size="2.9" text-anchor="middle" fill="#2a3590" stroke="#2a3590" stroke-width="0.05">5.3×10⁷</text>
<line x1="172.40" y1="233.70" x2="172.40" y2="235.10" stroke="#2a3590" stroke-width="0.45" />
<text x="172.00" y="240.00" font-size="2.9" text-anchor="middle" fill="#2a3590" stroke="#2a3590" stroke-width="0.05">7×10⁷</text>
<text x="145.45" y="243.00" font-size="3.2" text-anchor="middle" fill="#2a3590" stroke="#2a3590" stroke-width="0.05">PerCP-A</text>
<text font-size="3.1" text-anchor="middle" fill="#2a3590" stroke="#2a3590" stroke-width="0.05" transform="translate(111.70 205.80) rotate(-90)">Count</text>
<rect x="181.60" y="175.50" width="71.00" height="70.00" fill="#fff" stroke="#c98f96" stroke-width="0.85" />
<path d="M204.9 233.7L204.9 233.2L205.4 232.2L205.9 229.9L206.4 225.5L206.9 218.4L207.4 209.2L207.9 200.4L208.4 194.9L208.9 195.1L209.4 200.8L209.9 209.8L210.3 218.9L210.8 225.8L211.3 230.1L211.8 232.3L212.3 233.2L212.3 233.7Z" fill="url(#hx)" stroke="#d8434a" stroke-width="0.4" />
<path d="M215.8 233.7L215.8 233.2L216.3 232.7L216.8 231.7L217.3 230.0L217.8 227.3L218.3 223.4L218.8 218.2L219.3 211.9L219.8 205.0L220.3 198.5L220.8 193.3L221.2 190.5L221.7 190.5L222.2 193.3L222.7 198.4L223.2 204.9L223.7 211.7L224.2 218.1L224.7 223.3L225.2 227.2L225.7 229.9L226.2 231.7L226.7 232.7L227.2 233.2L227.2 233.7Z" fill="url(#hx)" stroke="#d8434a" stroke-width="0.4" />
<path d="M209.4 233.7L209.4 225.4L209.9 223.9L210.3 222.9L210.8 222.3L211.3 222.0L211.8 221.9L212.3 221.8L212.8 221.7L213.3 221.7L213.8 221.7L214.3 221.7L214.8 221.7L215.3 221.7L215.8 221.7L216.3 221.7L216.8 221.7L217.3 221.7L217.8 221.7L218.3 221.8L218.8 221.8L219.3 221.9L219.8 222.2L220.3 222.6L220.8 223.4L221.2 224.8L221.7 226.6L222.2 228.7L222.7 230.6L223.2 231.9L223.7 232.8L223.7 233.7Z" fill="url(#vx)" stroke="#e0474c" stroke-width="0.22" />
<path d="M203.4 233.2L203.9 233.1L204.4 232.8L204.9 232.0L205.4 230.4L205.9 227.2L206.4 221.9L206.9 214.4L207.4 205.6L207.9 197.1L208.4 191.1L208.9 189.2L209.4 191.8L209.9 197.7L210.3 204.8L210.8 211.2L211.3 215.9L211.8 218.7L212.3 220.2L212.8 220.9L213.3 221.1L213.8 221.2L214.3 221.2L214.8 221.0L215.3 220.8L215.8 220.4L216.3 219.6L216.8 218.2L217.3 216.1L217.8 213.1L218.3 208.9L218.8 203.8L219.3 198.0L219.8 192.0L220.3 186.8L220.8 183.2L221.2 182.1L221.7 183.9L222.2 188.4L222.7 194.6L223.2 201.7L223.7 208.7L224.2 215.1L224.7 220.5L225.2 224.8L225.7 228.0L226.2 230.1L226.7 231.5L227.2 232.3L227.7 232.8L228.2 233.0L228.7 233.2" fill="none" stroke="#5cd832" stroke-width="0.5" stroke-linejoin="round" transform="translate(0.25 0)"/>
<path d="M194.0 233.4L194.5 233.4L195.0 233.5L195.5 233.2L196.0 233.6L196.5 233.3L197.0 233.2L197.5 233.5L198.0 233.3L198.5 233.3L199.0 233.6L199.4 233.4L199.9 233.3L200.4 233.4L200.9 233.3L201.4 233.5L201.9 233.5L202.4 233.5L202.9 233.3L203.4 233.1L203.9 233.2L204.4 232.9L204.9 232.5L205.4 230.9L205.9 228.0L206.4 222.3L206.9 213.5L207.4 202.8L207.9 192.4L208.4 185.2L208.9 183.2L209.4 187.2L209.9 195.2L210.3 203.9L210.8 211.7L211.3 216.4L211.8 219.2L212.3 220.8L212.8 221.2L213.3 221.3L213.8 221.5L214.3 221.3L214.8 221.1L215.3 221.3L215.8 220.8L216.3 220.4L216.8 219.1L217.3 217.2L217.8 214.6L218.3 210.4L218.8 204.8L219.3 197.9L219.8 190.9L220.3 184.3L220.8 179.4L221.2 177.4L221.7 179.4L222.2 184.6L222.7 191.9L223.2 200.5L223.7 208.6L224.2 216.1L224.7 221.8L225.2 226.0L225.7 229.4L226.2 225.3L226.7 226.7L227.2 227.9L227.7 228.5L228.2 228.6L228.7 229.0L229.2 229.7L229.7 229.7L230.2 229.8L230.7 230.4L231.2 230.4L231.7 230.9L232.1 230.9L232.6 231.0L233.1 231.1L233.6 231.2L234.1 231.7L234.6 231.7L235.1 231.6L235.6 231.8L236.1 232.0L236.6 232.1L237.1 231.9L237.6 232.2L238.1 232.5L238.6 232.2L239.1 232.5L239.6 232.5L240.1 232.7L240.6 232.6L241.1 232.7L241.6 232.9L242.1 232.7L242.6 233.0L243.0 232.7L243.5 233.1L244.0 232.8L244.5 232.8L245.0 233.0L245.5 232.9L246.0 233.1L246.5 232.9L247.0 233.1L247.5 233.2L248.0 232.9" fill="none" stroke="#4a3a3a" stroke-width="0.4" stroke-linejoin="round" transform="translate(-0.3 0)"/>
<line x1="194.00" y1="177.90" x2="194.00" y2="234.30" stroke="#27356f" stroke-width="0.85" />
<line x1="193.50" y1="233.90" x2="248.00" y2="233.90" stroke="#2b3263" stroke-width="0.75" />
<line x1="192.00" y1="177.90" x2="194.00" y2="177.90" stroke="#2a3590" stroke-width="0.45" />
<text x="191.70" y="178.85" font-size="2.6" text-anchor="end" fill="#2a3590" stroke="#2a3590" stroke-width="0.06">587</text>
<line x1="192.00" y1="191.85" x2="194.00" y2="191.85" stroke="#2a3590" stroke-width="0.45" />
<text x="191.70" y="192.80" font-size="2.6" text-anchor="end" fill="#2a3590" stroke="#2a3590" stroke-width="0.06">440</text>
<line x1="192.00" y1="205.80" x2="194.00" y2="205.80" stroke="#2a3590" stroke-width="0.45" />
<text x="191.70" y="206.75" font-size="2.6" text-anchor="end" fill="#2a3590" stroke="#2a3590" stroke-width="0.06">294</text>
<line x1="192.00" y1="219.75" x2="194.00" y2="219.75" stroke="#2a3590" stroke-width="0.45" />
<text x="191.70" y="220.70" font-size="2.6" text-anchor="end" fill="#2a3590" stroke="#2a3590" stroke-width="0.06">147</text>
<line x1="192.00" y1="233.70" x2="194.00" y2="233.70" stroke="#2a3590" stroke-width="0.45" />
<text x="191.70" y="234.65" font-size="2.6" text-anchor="end" fill="#2a3590" stroke="#2a3590" stroke-width="0.06">0</text>
<line x1="194.00" y1="233.70" x2="194.00" y2="235.10" stroke="#2a3590" stroke-width="0.45" />
<text x="193.60" y="240.00" font-size="2.9" text-anchor="middle" fill="#2a3590" stroke="#2a3590" stroke-width="0.05">0</text>
<line x1="207.50" y1="233.70" x2="207.50" y2="235.10" stroke="#2a3590" stroke-width="0.45" />
<text x="207.10" y="240.00" font-size="2.9" text-anchor="middle" fill="#2a3590" stroke="#2a3590" stroke-width="0.05">2.2×10⁷</text>
<line x1="221.00" y1="233.70" x2="221.00" y2="235.10" stroke="#2a3590" stroke-width="0.45" />
<text x="220.60" y="240.00" font-size="2.9" text-anchor="middle" fill="#2a3590" stroke="#2a3590" stroke-width="0.05">4.5×10⁷</text>
<line x1="234.50" y1="233.70" x2="234.50" y2="235.10" stroke="#2a3590" stroke-width="0.45" />
<text x="234.10" y="240.00" font-size="2.9" text-anchor="middle" fill="#2a3590" stroke="#2a3590" stroke-width="0.05">6.8×10⁷</text>
<line x1="248.00" y1="233.70" x2="248.00" y2="235.10" stroke="#2a3590" stroke-width="0.45" />
<text x="247.60" y="240.00" font-size="2.9" text-anchor="middle" fill="#2a3590" stroke="#2a3590" stroke-width="0.05">9×10⁷</text>
<text x="220.60" y="243.00" font-size="3.2" text-anchor="middle" fill="#2a3590" stroke="#2a3590" stroke-width="0.05">PerCP-A</text>
<text font-size="3.1" text-anchor="middle" fill="#2a3590" stroke="#2a3590" stroke-width="0.05" transform="translate(186.40 205.80) rotate(-90)">Count</text>
<rect x="28.50" y="251.60" width="70.30" height="69.90" fill="#fff" stroke="#c98f96" stroke-width="0.85" />
<path d="M56.7 309.8L56.7 309.3L57.2 308.2L57.7 305.9L58.2 301.1L58.7 293.4L59.2 282.8L59.7 271.6L60.2 263.0L60.7 260.2L61.1 264.4L61.6 273.9L62.1 285.3L62.6 295.3L63.1 302.4L63.6 306.5L64.1 308.6L64.6 309.4L64.6 309.8Z" fill="url(#hx)" stroke="#d8434a" stroke-width="0.4" />
<path d="M67.1 309.8L67.1 309.8L67.6 309.7L68.1 309.7L68.6 309.7L69.1 309.6L69.6 309.5L70.1 309.3L70.6 309.2L71.1 308.9L71.6 308.6L72.1 308.3L72.6 307.9L73.1 307.5L73.6 307.1L74.1 306.7L74.6 306.3L75.0 306.0L75.5 305.8L76.0 305.6L76.5 305.6L77.0 305.7L77.5 305.9L78.0 306.2L78.5 306.5L79.0 306.9L79.5 307.3L80.0 307.8L80.5 308.2L81.0 308.5L81.5 308.8L82.0 309.1L82.5 309.3L83.0 309.4L83.5 309.5L84.0 309.6L84.5 309.7L85.0 309.7L85.5 309.8L86.0 309.8L86.0 309.8Z" fill="url(#hx)" stroke="#d8434a" stroke-width="0.4" />
<path d="M61.6 309.8L61.6 304.4L62.1 303.7L62.6 303.4L63.1 303.2L63.6 303.2L64.1 303.2L64.6 303.3L65.1 303.3L65.6 303.4L66.1 303.5L66.6 303.6L67.1 303.6L67.6 303.7L68.1 303.8L68.6 303.9L69.1 304.0L69.6 304.0L70.1 304.1L70.6 304.2L71.1 304.3L71.6 304.4L72.1 304.4L72.6 304.5L73.1 304.6L73.6 304.7L74.1 304.8L74.6 305.0L75.0 305.2L75.5 305.6L76.0 306.1L76.5 306.9L77.0 307.7L77.5 308.4L78.0 309.0L78.5 309.4L79.0 309.6L79.5 309.7L79.5 309.8Z" fill="url(#vx)" stroke="#e0474c" stroke-width="0.22" />
<path d="M55.2 309.3L55.7 309.2L56.2 308.8L56.7 308.0L57.2 306.1L57.7 302.6L58.2 296.6L58.7 288.1L59.2 277.7L59.7 267.2L60.2 259.2L60.7 255.8L61.1 258.0L61.6 265.0L62.1 274.5L62.6 284.0L63.1 291.7L63.6 297.0L64.1 300.1L64.6 301.7L65.1 302.5L65.6 302.8L66.1 303.0L66.6 303.1L67.1 303.1L67.6 303.2L68.1 303.2L68.6 303.2L69.1 303.2L69.6 303.2L70.1 303.1L70.6 303.0L71.1 302.9L71.6 302.7L72.1 302.5L72.6 302.3L73.1 302.0L73.6 301.8L74.1 301.6L74.6 301.4L75.0 301.4L75.5 301.6L76.0 302.0L76.5 302.8L77.0 303.6L77.5 304.6L78.0 305.3L78.5 306.0L79.0 306.5L79.5 306.9L80.0 307.3L80.5 307.7L81.0 308.0L81.5 308.3L82.0 308.5L82.5 308.7L83.0 308.9L83.5 309.0L84.0 309.1" fill="none" stroke="#5cd832" stroke-width="0.5" stroke-linejoin="round" transform="translate(0.25 0)"/>
<path d="M40.8 309.4L41.3 309.5L41.8 309.4L42.3 309.6L42.8 309.3L43.3 309.3L43.8 309.4L44.3 309.6L44.8 309.4L45.3 309.5L45.8 309.6L46.3 309.3L46.8 309.2L47.3 309.7L47.7 309.3L48.2 309.4L48.7 309.5L49.2 309.5L49.7 309.4L50.2 309.5L50.7 309.4L51.2 309.4L51.7 309.6L52.2 309.3L52.7 309.2L53.2 309.2L53.7 309.4L54.2 309.6L54.7 309.7L55.2 309.6L55.7 309.2L56.2 309.2L56.7 308.6L57.2 307.0L57.7 304.2L58.2 298.6L58.7 290.1L59.2 279.2L59.7 267.3L60.2 258.1L60.7 254.6L61.1 257.4L61.6 265.4L62.1 276.2L62.6 286.1L63.1 293.5L63.6 298.4L64.1 301.0L64.6 302.1L65.1 302.9L65.6 303.0L66.1 303.2L66.6 303.1L67.1 303.4L67.6 303.2L68.1 303.5L68.6 303.5L69.1 303.2L69.6 303.1L70.1 303.3L70.6 303.2L71.1 303.1L71.6 302.9L72.1 302.5L72.6 302.3L73.1 302.0L73.6 301.5L74.1 301.3L74.6 300.9L75.0 300.7L75.5 300.8L76.0 301.4L76.5 302.1L77.0 303.0L77.5 304.2L78.0 304.7L78.5 305.6L79.0 306.3L79.5 306.9L80.0 307.3L80.5 307.6L81.0 308.1L81.5 308.2L82.0 308.6L82.5 309.0L83.0 309.0L83.5 309.0L84.0 309.3L84.5 309.3L85.0 309.6L85.5 309.4L86.0 309.4L86.5 309.5L87.0 309.5L87.5 309.4L88.0 309.4L88.4 309.5L88.9 309.6L89.4 309.5L89.9 309.2L90.4 309.5L90.9 309.7L91.4 309.7L91.9 309.4L92.4 309.6L92.9 309.6L93.4 309.6L93.9 309.5L94.4 309.2L94.9 309.5" fill="none" stroke="#4a3a3a" stroke-width="0.4" stroke-linejoin="round" transform="translate(-0.3 0)"/>
<line x1="40.80" y1="254.10" x2="40.80" y2="310.40" stroke="#27356f" stroke-width="0.85" />
<line x1="40.30" y1="310.00" x2="94.90" y2="310.00" stroke="#2b3263" stroke-width="0.75" />
<line x1="38.80" y1="254.10" x2="40.80" y2="254.10" stroke="#2a3590" stroke-width="0.45" />
<text x="38.50" y="255.05" font-size="2.6" text-anchor="end" fill="#2a3590" stroke="#2a3590" stroke-width="0.06">1011</text>
<line x1="38.80" y1="268.02" x2="40.80" y2="268.02" stroke="#2a3590" stroke-width="0.45" />
<text x="38.50" y="268.97" font-size="2.6" text-anchor="end" fill="#2a3590" stroke="#2a3590" stroke-width="0.06">758</text>
<line x1="38.80" y1="281.95" x2="40.80" y2="281.95" stroke="#2a3590" stroke-width="0.45" />
<text x="38.50" y="282.90" font-size="2.6" text-anchor="end" fill="#2a3590" stroke="#2a3590" stroke-width="0.06">506</text>
<line x1="38.80" y1="295.88" x2="40.80" y2="295.88" stroke="#2a3590" stroke-width="0.45" />
<text x="38.50" y="296.82" font-size="2.6" text-anchor="end" fill="#2a3590" stroke="#2a3590" stroke-width="0.06">253</text>
<line x1="38.80" y1="309.80" x2="40.80" y2="309.80" stroke="#2a3590" stroke-width="0.45" />
<text x="38.50" y="310.75" font-size="2.6" text-anchor="end" fill="#2a3590" stroke="#2a3590" stroke-width="0.06">0</text>
<line x1="40.80" y1="309.80" x2="40.80" y2="311.20" stroke="#2a3590" stroke-width="0.45" />
<text x="40.40" y="316.10" font-size="2.9" text-anchor="middle" fill="#2a3590" stroke="#2a3590" stroke-width="0.05">0</text>
<line x1="54.33" y1="309.80" x2="54.33" y2="311.20" stroke="#2a3590" stroke-width="0.45" />
<text x="53.93" y="316.10" font-size="2.9" text-anchor="middle" fill="#2a3590" stroke="#2a3590" stroke-width="0.05">1.7×10⁷</text>
<line x1="67.85" y1="309.80" x2="67.85" y2="311.20" stroke="#2a3590" stroke-width="0.45" />
<text x="67.45" y="316.10" font-size="2.9" text-anchor="middle" fill="#2a3590" stroke="#2a3590" stroke-width="0.05">3.3×10⁷</text>
<line x1="81.38" y1="309.80" x2="81.38" y2="311.20" stroke="#2a3590" stroke-width="0.45" />
<text x="80.97" y="316.10" font-size="2.9" text-anchor="middle" fill="#2a3590" stroke="#2a3590" stroke-width="0.05">5.3×10⁷</text>
<line x1="94.90" y1="309.80" x2="94.90" y2="311.20" stroke="#2a3590" stroke-width="0.45" />
<text x="94.50" y="316.10" font-size="2.9" text-anchor="middle" fill="#2a3590" stroke="#2a3590" stroke-width="0.05">7×10⁷</text>
<text x="67.45" y="319.10" font-size="3.2" text-anchor="middle" fill="#2a3590" stroke="#2a3590" stroke-width="0.05">PerCP-A</text>
<text font-size="3.1" text-anchor="middle" fill="#2a3590" stroke="#2a3590" stroke-width="0.05" transform="translate(33.20 281.95) rotate(-90)">Count</text>
<rect x="105.50" y="251.60" width="70.00" height="69.90" fill="#fff" stroke="#c98f96" stroke-width="0.85" />
<path d="M134.1 309.8L134.1 309.5L134.6 308.7L135.0 306.4L135.5 301.2L136.0 292.3L136.5 280.9L137.0 270.9L137.4 267.2L137.9 271.9L138.4 282.3L138.9 293.6L139.3 302.0L139.8 306.8L140.3 308.8L140.3 309.8Z" fill="url(#hx)" stroke="#d8434a" stroke-width="0.4" />
<path d="M147.9 309.8L147.9 309.7L148.4 309.6L148.9 309.4L149.4 309.0L149.8 308.4L150.3 307.5L150.8 306.4L151.3 304.9L151.7 303.3L152.2 301.8L152.7 300.6L153.2 300.0L153.6 300.0L154.1 300.7L154.6 301.9L155.1 303.4L155.6 305.0L156.0 306.4L156.5 307.6L157.0 308.4L157.5 309.0L157.9 309.4L158.4 309.6L158.9 309.7L158.9 309.8Z" fill="url(#hx)" stroke="#d8434a" stroke-width="0.4" />
<path d="M138.4 309.8L138.4 302.6L138.9 301.8L139.3 301.3L139.8 301.2L140.3 301.2L140.8 301.2L141.2 301.4L141.7 301.5L142.2 301.7L142.7 301.9L143.2 302.0L143.6 302.2L144.1 302.4L144.6 302.6L145.1 302.7L145.5 302.9L146.0 303.1L146.5 303.3L147.0 303.5L147.4 303.6L147.9 303.8L148.4 304.0L148.9 304.2L149.4 304.3L149.8 304.5L150.3 304.7L150.8 304.9L151.3 305.2L151.7 305.4L152.2 305.8L152.7 306.2L153.2 306.8L153.6 307.5L154.1 308.1L154.6 308.7L155.1 309.2L155.6 309.5L155.6 309.8Z" fill="url(#vx)" stroke="#e0474c" stroke-width="0.22" />
<path d="M132.7 309.3L133.1 309.3L133.6 309.1L134.1 308.4L134.6 306.7L135.0 303.0L135.5 296.2L136.0 286.2L136.5 274.4L137.0 264.4L137.4 259.7L137.9 262.1L138.4 270.2L138.9 280.3L139.3 289.2L139.8 295.2L140.3 298.5L140.8 300.0L141.2 300.7L141.7 301.0L142.2 301.2L142.7 301.4L143.2 301.6L143.6 301.8L144.1 301.9L144.6 302.1L145.1 302.3L145.5 302.5L146.0 302.6L146.5 302.8L147.0 303.0L147.4 303.1L147.9 303.2L148.4 303.2L148.9 303.1L149.4 302.9L149.8 302.4L150.3 301.7L150.8 300.8L151.3 299.8L151.7 298.7L152.2 297.8L152.7 297.3L153.2 297.4L153.6 298.1L154.1 299.3L154.6 300.8L155.1 302.5L155.6 304.1L156.0 305.6L156.5 306.7L157.0 307.7L157.5 308.3L157.9 308.7L158.4 309.0L158.9 309.2L159.4 309.3" fill="none" stroke="#5cd832" stroke-width="0.5" stroke-linejoin="round" transform="translate(0.25 0)"/>
<path d="M119.3 309.5L119.8 309.4L120.3 309.3L120.7 309.5L121.2 309.4L121.7 309.4L122.2 309.6L122.6 309.4L123.1 309.4L123.6 309.3L124.1 309.6L124.5 309.5L125.0 309.6L125.5 309.3L126.0 309.4L126.5 309.7L126.9 309.2L127.4 309.2L127.9 309.4L128.4 309.4L128.8 309.6L129.3 309.7L129.8 309.4L130.3 309.6L130.7 309.6L131.2 309.6L131.7 309.7L132.2 309.5L132.7 309.5L133.1 309.3L133.6 309.3L134.1 308.8L134.6 307.5L135.0 304.0L135.5 297.1L136.0 286.1L136.5 272.0L137.0 259.8L137.4 254.3L137.9 257.9L138.4 268.3L138.9 280.5L139.3 290.2L139.8 296.4L140.3 299.1L140.8 300.5L141.2 300.8L141.7 301.2L142.2 301.1L142.7 301.4L143.2 301.9L143.6 302.0L144.1 301.9L144.6 302.2L145.1 302.2L145.5 302.6L146.0 302.9L146.5 302.9L147.0 303.0L147.4 303.3L147.9 303.5L148.4 303.5L148.9 303.1L149.4 302.9L149.8 302.7L150.3 301.8L150.8 300.6L151.3 299.1L151.7 297.1L152.2 295.9L152.7 294.8L153.2 294.6L153.6 295.4L154.1 296.7L154.6 299.0L155.1 301.0L155.6 303.5L156.0 305.2L156.5 306.8L157.0 307.9L157.5 308.3L157.9 308.8L158.4 309.3L158.9 309.2L159.4 309.5L159.9 309.5L160.3 309.3L160.8 309.4L161.3 309.6L161.8 309.2L162.2 309.6L162.7 309.6L163.2 309.3L163.7 309.5L164.1 309.5L164.6 309.6L165.1 309.6L165.6 309.4L166.1 309.6L166.5 309.4L167.0 309.5L167.5 309.5L168.0 309.2L168.4 309.5L168.9 309.4L169.4 309.3L169.9 309.6L170.3 309.6L170.8 309.3L171.3 309.3" fill="none" stroke="#4a3a3a" stroke-width="0.4" stroke-linejoin="round" transform="translate(-0.3 0)"/>
<line x1="119.30" y1="254.10" x2="119.30" y2="310.40" stroke="#27356f" stroke-width="0.85" />
<line x1="118.80" y1="310.00" x2="171.30" y2="310.00" stroke="#2b3263" stroke-width="0.75" />
<line x1="117.30" y1="254.10" x2="119.30" y2="254.10" stroke="#2a3590" stroke-width="0.45" />
<text x="117.00" y="255.05" font-size="2.6" text-anchor="end" fill="#2a3590" stroke="#2a3590" stroke-width="0.06">2040</text>
<line x1="117.30" y1="268.02" x2="119.30" y2="268.02" stroke="#2a3590" stroke-width="0.45" />
<text x="117.00" y="268.97" font-size="2.6" text-anchor="end" fill="#2a3590" stroke="#2a3590" stroke-width="0.06">1530</text>
<line x1="117.30" y1="281.95" x2="119.30" y2="281.95" stroke="#2a3590" stroke-width="0.45" />
<text x="117.00" y="282.90" font-size="2.6" text-anchor="end" fill="#2a3590" stroke="#2a3590" stroke-width="0.06">1020</text>
<line x1="117.30" y1="295.88" x2="119.30" y2="295.88" stroke="#2a3590" stroke-width="0.45" />
<text x="117.00" y="296.82" font-size="2.6" text-anchor="end" fill="#2a3590" stroke="#2a3590" stroke-width="0.06">510</text>
<line x1="117.30" y1="309.80" x2="119.30" y2="309.80" stroke="#2a3590" stroke-width="0.45" />
<text x="117.00" y="310.75" font-size="2.6" text-anchor="end" fill="#2a3590" stroke="#2a3590" stroke-width="0.06">0</text>
<line x1="119.30" y1="309.80" x2="119.30" y2="311.20" stroke="#2a3590" stroke-width="0.45" />
<text x="118.90" y="316.10" font-size="2.9" text-anchor="middle" fill="#2a3590" stroke="#2a3590" stroke-width="0.05">0</text>
<line x1="132.30" y1="309.80" x2="132.30" y2="311.20" stroke="#2a3590" stroke-width="0.45" />
<text x="131.90" y="316.10" font-size="2.9" text-anchor="middle" fill="#2a3590" stroke="#2a3590" stroke-width="0.05">1.7×10⁷</text>
<line x1="145.30" y1="309.80" x2="145.30" y2="311.20" stroke="#2a3590" stroke-width="0.45" />
<text x="144.90" y="316.10" font-size="2.9" text-anchor="middle" fill="#2a3590" stroke="#2a3590" stroke-width="0.05">3.3×10⁷</text>
<line x1="158.30" y1="309.80" x2="158.30" y2="311.20" stroke="#2a3590" stroke-width="0.45" />
<text x="157.90" y="316.10" font-size="2.9" text-anchor="middle" fill="#2a3590" stroke="#2a3590" stroke-width="0.05">5.3×10⁷</text>
<line x1="171.30" y1="309.80" x2="171.30" y2="311.20" stroke="#2a3590" stroke-width="0.45" />
<text x="170.90" y="316.10" font-size="2.9" text-anchor="middle" fill="#2a3590" stroke="#2a3590" stroke-width="0.05">7×10⁷</text>
<text x="144.90" y="319.10" font-size="3.2" text-anchor="middle" fill="#2a3590" stroke="#2a3590" stroke-width="0.05">PerCP-A</text>
<text font-size="3.1" text-anchor="middle" fill="#2a3590" stroke="#2a3590" stroke-width="0.05" transform="translate(111.70 281.95) rotate(-90)">Count</text>
<rect x="181.60" y="250.80" width="70.90" height="70.50" fill="#fff" stroke="#c98f96" stroke-width="0.85" />
<path d="M206.3 309.3L206.3 309.2L206.8 309.0L207.3 308.5L207.8 307.3L208.3 305.2L208.7 302.4L209.2 299.7L209.7 298.3L210.2 298.8L210.6 301.0L211.1 303.9L211.6 306.4L212.1 308.0L212.6 308.8L213.0 309.2L213.0 309.3Z" fill="url(#hx)" stroke="#d8434a" stroke-width="0.4" />
<path d="M214.5 309.3L214.5 309.0L215.0 308.7L215.4 308.3L215.9 307.5L216.4 306.4L216.9 304.7L217.4 302.4L217.8 299.2L218.3 295.3L218.8 290.7L219.3 285.6L219.7 280.4L220.2 275.5L220.7 271.5L221.2 268.8L221.7 267.8L222.1 268.6L222.6 271.0L223.1 274.8L223.6 279.5L224.1 284.7L224.5 289.9L225.0 294.6L225.5 298.6L226.0 301.9L226.4 304.4L226.9 306.2L227.4 307.4L227.9 308.2L228.4 308.7L228.8 309.0L228.8 309.3Z" fill="url(#hx)" stroke="#d8434a" stroke-width="0.4" />
<path d="M210.6 309.3L210.6 307.2L211.1 306.8L211.6 306.6L212.1 306.4L212.6 306.4L213.0 306.3L213.5 306.3L214.0 306.3L214.5 306.3L215.0 306.3L215.4 306.3L215.9 306.3L216.4 306.3L216.9 306.3L217.4 306.3L217.8 306.3L218.3 306.3L218.8 306.3L219.3 306.3L219.7 306.4L220.2 306.5L220.7 306.6L221.2 306.9L221.7 307.2L222.1 307.7L222.6 308.2L223.1 308.6L223.6 308.9L224.1 309.1L224.1 309.3Z" fill="url(#vx)" stroke="#e0474c" stroke-width="0.22" />
<path d="M205.4 308.8L205.9 308.8L206.3 308.6L206.8 308.2L207.3 307.3L207.8 305.7L208.3 303.4L208.7 300.5L209.2 297.8L209.7 296.1L210.2 296.1L210.6 297.5L211.1 299.8L211.6 302.1L212.1 303.9L212.6 304.9L213.0 305.4L213.5 305.6L214.0 305.5L214.5 305.3L215.0 304.8L215.4 304.2L215.9 303.2L216.4 301.8L216.9 299.8L217.4 297.2L217.8 294.0L218.3 290.1L218.8 285.8L219.3 281.2L219.7 276.6L220.2 272.5L220.7 269.3L221.2 267.3L221.7 266.8L222.1 267.9L222.6 270.4L223.1 274.1L223.6 278.4L224.1 283.1L224.5 287.9L225.0 292.4L225.5 296.4L226.0 299.7L226.4 302.4L226.9 304.5L227.4 306.0L227.9 307.0L228.4 307.8L228.8 308.2L229.3 308.5L229.8 308.7L230.3 308.7" fill="none" stroke="#5cd832" stroke-width="0.5" stroke-linejoin="round" transform="translate(0.25 0)"/>
<path d="M195.8 309.0L196.3 308.9L196.8 308.9L197.2 309.1L197.7 309.2L198.2 309.0L198.7 309.0L199.2 308.8L199.6 308.9L200.1 308.9L200.6 308.9L201.1 308.9L201.5 309.1L202.0 309.0L202.5 309.1L203.0 308.8L203.5 309.1L203.9 308.8L204.4 309.1L204.9 308.9L205.4 309.0L205.9 308.9L206.3 308.6L206.8 308.7L207.3 307.8L207.8 305.8L208.3 303.3L208.7 300.0L209.2 296.3L209.7 294.3L210.2 294.8L210.6 296.7L211.1 299.7L211.6 302.4L212.1 304.1L212.6 305.4L213.0 305.6L213.5 306.0L214.0 305.9L214.5 305.4L215.0 305.3L215.4 304.7L215.9 303.7L216.4 302.3L216.9 300.1L217.4 297.3L217.8 293.0L218.3 287.9L218.8 282.0L219.3 275.6L219.7 269.1L220.2 263.0L220.7 257.9L221.2 254.7L221.7 254.0L222.1 255.4L222.6 258.9L223.1 264.2L223.6 270.4L224.1 277.3L224.5 284.2L225.0 289.9L225.5 295.3L226.0 299.5L226.4 302.8L226.9 305.0L227.4 301.3L227.9 302.4L228.4 303.6L228.8 304.0L229.3 304.6L229.8 304.7L230.3 305.3L230.8 305.4L231.2 305.6L231.7 305.6L232.2 306.1L232.7 306.0L233.2 306.3L233.6 306.4L234.1 306.5L234.6 306.4L235.1 306.7L235.5 306.6L236.0 307.1L236.5 306.9L237.0 307.2L237.5 307.4L237.9 307.2L238.4 307.2L238.9 307.7L239.4 307.7L239.9 307.5L240.3 307.8L240.8 307.9L241.3 308.0L241.8 308.1L242.3 307.9L242.7 307.8L243.2 307.8L243.7 308.1L244.2 308.3L244.6 308.3L245.1 308.1L245.6 308.1L246.1 308.2L246.6 308.4L247.0 308.3L247.5 308.4L248.0 308.4" fill="none" stroke="#4a3a3a" stroke-width="0.4" stroke-linejoin="round" transform="translate(-0.3 0)"/>
<line x1="195.80" y1="253.40" x2="195.80" y2="309.90" stroke="#27356f" stroke-width="0.85" />
<line x1="195.30" y1="309.50" x2="248.00" y2="309.50" stroke="#2b3263" stroke-width="0.75" />
<line x1="193.80" y1="253.40" x2="195.80" y2="253.40" stroke="#2a3590" stroke-width="0.45" />
<text x="193.50" y="254.35" font-size="2.6" text-anchor="end" fill="#2a3590" stroke="#2a3590" stroke-width="0.06">1229</text>
<line x1="193.80" y1="267.38" x2="195.80" y2="267.38" stroke="#2a3590" stroke-width="0.45" />
<text x="193.50" y="268.32" font-size="2.6" text-anchor="end" fill="#2a3590" stroke="#2a3590" stroke-width="0.06">921</text>
<line x1="193.80" y1="281.35" x2="195.80" y2="281.35" stroke="#2a3590" stroke-width="0.45" />
<text x="193.50" y="282.30" font-size="2.6" text-anchor="end" fill="#2a3590" stroke="#2a3590" stroke-width="0.06">614</text>
<line x1="193.80" y1="295.32" x2="195.80" y2="295.32" stroke="#2a3590" stroke-width="0.45" />
<text x="193.50" y="296.27" font-size="2.6" text-anchor="end" fill="#2a3590" stroke="#2a3590" stroke-width="0.06">307</text>
<line x1="193.80" y1="309.30" x2="195.80" y2="309.30" stroke="#2a3590" stroke-width="0.45" />
<text x="193.50" y="310.25" font-size="2.6" text-anchor="end" fill="#2a3590" stroke="#2a3590" stroke-width="0.06">0</text>
<line x1="195.80" y1="309.30" x2="195.80" y2="310.70" stroke="#2a3590" stroke-width="0.45" />
<text x="195.40" y="315.60" font-size="2.9" text-anchor="middle" fill="#2a3590" stroke="#2a3590" stroke-width="0.05">0</text>
<line x1="208.85" y1="309.30" x2="208.85" y2="310.70" stroke="#2a3590" stroke-width="0.45" />
<text x="208.45" y="315.60" font-size="2.9" text-anchor="middle" fill="#2a3590" stroke="#2a3590" stroke-width="0.05">2.2×10⁷</text>
<line x1="221.90" y1="309.30" x2="221.90" y2="310.70" stroke="#2a3590" stroke-width="0.45" />
<text x="221.50" y="315.60" font-size="2.9" text-anchor="middle" fill="#2a3590" stroke="#2a3590" stroke-width="0.05">4.5×10⁷</text>
<line x1="234.95" y1="309.30" x2="234.95" y2="310.70" stroke="#2a3590" stroke-width="0.45" />
<text x="234.55" y="315.60" font-size="2.9" text-anchor="middle" fill="#2a3590" stroke="#2a3590" stroke-width="0.05">6.8×10⁷</text>
<line x1="248.00" y1="309.30" x2="248.00" y2="310.70" stroke="#2a3590" stroke-width="0.45" />
<text x="247.60" y="315.60" font-size="2.9" text-anchor="middle" fill="#2a3590" stroke="#2a3590" stroke-width="0.05">9×10⁷</text>
<text x="221.50" y="318.60" font-size="3.2" text-anchor="middle" fill="#2a3590" stroke="#2a3590" stroke-width="0.05">PerCP-A</text>
<text font-size="3.1" text-anchor="middle" fill="#2a3590" stroke="#2a3590" stroke-width="0.05" transform="translate(188.20 281.35) rotate(-90)">Count</text>
<text x="65.70" y="9.17" font-size="6.3" text-anchor="middle" font-weight="bold" textLength="15.4" lengthAdjust="spacingAndGlyphs" stroke="#000" stroke-width="0.12">No IR</text>
<text x="140.00" y="9.17" font-size="6.3" text-anchor="middle" font-weight="bold" textLength="34.2" lengthAdjust="spacingAndGlyphs" stroke="#000" stroke-width="0.12">IR 2Gy - 24h</text>
<text x="217.30" y="9.17" font-size="6.3" text-anchor="middle" font-weight="bold" textLength="34.2" lengthAdjust="spacingAndGlyphs" stroke="#000" stroke-width="0.12">IR 8Gy - 24h</text>
<text x="65.60" y="173.47" font-size="6.3" text-anchor="middle" font-weight="bold" textLength="15.4" lengthAdjust="spacingAndGlyphs" stroke="#000" stroke-width="0.12">No IR</text>
<text x="139.70" y="173.27" font-size="6.3" text-anchor="middle" font-weight="bold" textLength="34.2" lengthAdjust="spacingAndGlyphs" stroke="#000" stroke-width="0.12">IR 2Gy - 24h</text>
<text x="217.00" y="173.27" font-size="6.3" text-anchor="middle" font-weight="bold" textLength="34.2" lengthAdjust="spacingAndGlyphs" stroke="#000" stroke-width="0.12">IR 8Gy - 24h</text>
<text font-size="6.0" text-anchor="middle" font-weight="bold" textLength="31" lengthAdjust="spacingAndGlyphs" stroke="#000" stroke-width="0.12" transform="translate(24.70 46.50) rotate(-90)">T3M4 CTRL</text>
<text font-size="6.0" text-anchor="middle" font-weight="bold" textLength="47" lengthAdjust="spacingAndGlyphs" stroke="#000" stroke-width="0.12" transform="translate(24.70 122.20) rotate(-90)">T3M4 DDB2-low</text>
<text font-size="6.0" text-anchor="middle" font-weight="bold" textLength="39" lengthAdjust="spacingAndGlyphs" stroke="#000" stroke-width="0.12" transform="translate(24.70 211.50) rotate(-90)">Capan-2 CTRL</text>
<text font-size="6.0" text-anchor="middle" font-weight="bold" textLength="58" lengthAdjust="spacingAndGlyphs" stroke="#000" stroke-width="0.12" transform="translate(24.70 286.00) rotate(-90)">Capan-2 DDB2-high</text>
<text x="373.10" y="28.89" font-size="4.7" text-anchor="middle" font-weight="bold" stroke="#000" stroke-width="0.1">2 Gy irradiation</text>
<line x1="325.60" y1="98.10" x2="325.60" y2="94.40" stroke="#1a1a1a" stroke-width="0.6" />
<line x1="322.84" y1="94.40" x2="328.36" y2="94.40" stroke="#1a1a1a" stroke-width="0.6" />
<rect x="320.30" y="98.10" width="10.60" height="35.00" fill="#532b68" stroke="#1c1c1c" stroke-width="0.45" />
<line x1="342.50" y1="65.10" x2="342.50" y2="60.20" stroke="#1a1a1a" stroke-width="0.6" />
<line x1="339.69" y1="60.20" x2="345.31" y2="60.20" stroke="#1a1a1a" stroke-width="0.6" />
<rect x="337.10" y="65.10" width="10.80" height="68.00" fill="#5a5593" stroke="#1c1c1c" stroke-width="0.45" />
<line x1="359.35" y1="56.40" x2="359.35" y2="49.00" stroke="#1a1a1a" stroke-width="0.6" />
<line x1="356.57" y1="49.00" x2="362.13" y2="49.00" stroke="#1a1a1a" stroke-width="0.6" />
<rect x="354.00" y="56.40" width="10.70" height="76.70" fill="#518996" stroke="#1c1c1c" stroke-width="0.45" />
<line x1="387.15" y1="75.30" x2="387.15" y2="61.20" stroke="#1a1a1a" stroke-width="0.6" />
<line x1="384.37" y1="61.20" x2="389.93" y2="61.20" stroke="#1a1a1a" stroke-width="0.6" />
<rect x="381.80" y="75.30" width="10.70" height="57.80" fill="#532b68" stroke="#1c1c1c" stroke-width="0.45" />
<line x1="404.05" y1="62.10" x2="404.05" y2="56.70" stroke="#1a1a1a" stroke-width="0.6" />
<line x1="401.27" y1="56.70" x2="406.83" y2="56.70" stroke="#1a1a1a" stroke-width="0.6" />
<rect x="398.70" y="62.10" width="10.70" height="71.00" fill="#5a5593" stroke="#1c1c1c" stroke-width="0.45" />
<line x1="420.90" y1="91.20" x2="420.90" y2="82.70" stroke="#1a1a1a" stroke-width="0.6" />
<line x1="417.99" y1="82.70" x2="423.81" y2="82.70" stroke="#1a1a1a" stroke-width="0.6" />
<rect x="415.30" y="91.20" width="11.20" height="41.90" fill="#518996" stroke="#1c1c1c" stroke-width="0.45" />
<line x1="313.90" y1="36.60" x2="313.90" y2="133.10" stroke="#000" stroke-width="0.85" />
<line x1="311.50" y1="36.90" x2="313.90" y2="36.90" stroke="#000" stroke-width="0.8" />
<text x="311.20" y="38.09" font-size="3.3" text-anchor="end" font-weight="bold" stroke="#000" stroke-width="0.06">30</text>
<line x1="311.50" y1="68.97" x2="313.90" y2="68.97" stroke="#000" stroke-width="0.8" />
<text x="311.20" y="70.15" font-size="3.3" text-anchor="end" font-weight="bold" stroke="#000" stroke-width="0.06">20</text>
<line x1="311.50" y1="101.03" x2="313.90" y2="101.03" stroke="#000" stroke-width="0.8" />
<text x="311.20" y="102.22" font-size="3.3" text-anchor="end" font-weight="bold" stroke="#000" stroke-width="0.06">10</text>
<line x1="311.50" y1="133.10" x2="313.90" y2="133.10" stroke="#000" stroke-width="0.8" />
<text x="311.20" y="134.29" font-size="3.3" text-anchor="end" font-weight="bold" stroke="#000" stroke-width="0.06">0</text>
<line x1="312.30" y1="43.31" x2="313.90" y2="43.31" stroke="#000" stroke-width="0.8" />
<line x1="312.30" y1="49.73" x2="313.90" y2="49.73" stroke="#000" stroke-width="0.8" />
<line x1="312.30" y1="56.14" x2="313.90" y2="56.14" stroke="#000" stroke-width="0.8" />
<line x1="312.30" y1="62.55" x2="313.90" y2="62.55" stroke="#000" stroke-width="0.8" />
<line x1="312.30" y1="75.38" x2="313.90" y2="75.38" stroke="#000" stroke-width="0.8" />
<line x1="312.30" y1="81.79" x2="313.90" y2="81.79" stroke="#000" stroke-width="0.8" />
<line x1="312.30" y1="88.21" x2="313.90" y2="88.21" stroke="#000" stroke-width="0.8" />
<line x1="312.30" y1="94.62" x2="313.90" y2="94.62" stroke="#000" stroke-width="0.8" />
<line x1="312.30" y1="107.45" x2="313.90" y2="107.45" stroke="#000" stroke-width="0.8" />
<line x1="312.30" y1="113.86" x2="313.90" y2="113.86" stroke="#000" stroke-width="0.8" />
<line x1="312.30" y1="120.27" x2="313.90" y2="120.27" stroke="#000" stroke-width="0.8" />
<line x1="312.30" y1="126.69" x2="313.90" y2="126.69" stroke="#000" stroke-width="0.8" />
<line x1="313.50" y1="133.10" x2="431.90" y2="133.10" stroke="#000" stroke-width="0.75" />
<line x1="342.60" y1="133.10" x2="342.60" y2="134.70" stroke="#000" stroke-width="0.5" />
<text x="342.60" y="140.72" font-size="4.5" text-anchor="middle" font-weight="bold" stroke="#000" stroke-width="0.1">T3M4 CTRL</text>
<line x1="404.10" y1="133.10" x2="404.10" y2="134.70" stroke="#000" stroke-width="0.5" />
<text x="404.10" y="140.72" font-size="4.5" text-anchor="middle" font-weight="bold" stroke="#000" stroke-width="0.1">T3M4 DDB2-low</text>
<text font-size="4.2" text-anchor="middle" font-weight="bold" stroke="#000" stroke-width="0.1" transform="translate(306.90 83.20) rotate(-90)">% G2/M</text>
<path d="M325.50 58.20V56.00H342.60V58.20" fill="none" stroke="#222" stroke-width="0.6" />
<text x="334.05" y="56.60" font-size="6.5" text-anchor="middle" font-weight="bold">**</text>
<path d="M325.50 45.90V43.70H359.00V45.90" fill="none" stroke="#222" stroke-width="0.6" />
<text x="342.25" y="44.30" font-size="6.5" text-anchor="middle" font-weight="bold">***</text>
<path d="M360.00 45.90V43.70H421.00V45.90" fill="none" stroke="#222" stroke-width="0.6" />
<text x="390.50" y="44.30" font-size="6.5" text-anchor="middle" font-weight="bold">**</text>
<rect x="433.40" y="38.40" width="4.60" height="3.40" fill="#532b68" stroke="#222" stroke-width="0.4" />
<text x="440.50" y="41.61" font-size="4.2" fill="#111" stroke="#111" stroke-width="0.08">No IR</text>
<rect x="433.40" y="45.10" width="4.60" height="3.40" fill="#5a5593" stroke="#222" stroke-width="0.4" />
<text x="440.50" y="48.31" font-size="4.2" fill="#111" stroke="#111" stroke-width="0.08">IR 1H</text>
<rect x="433.40" y="51.80" width="4.60" height="3.40" fill="#518996" stroke="#222" stroke-width="0.4" />
<text x="440.50" y="55.01" font-size="4.2" fill="#111" stroke="#111" stroke-width="0.08">IR 24H</text>
<text x="534.90" y="28.89" font-size="4.7" text-anchor="middle" font-weight="bold" stroke="#000" stroke-width="0.1">8 Gy irradiation</text>
<line x1="487.65" y1="91.90" x2="487.65" y2="78.30" stroke="#1a1a1a" stroke-width="0.6" />
<line x1="484.87" y1="78.30" x2="490.43" y2="78.30" stroke="#1a1a1a" stroke-width="0.6" />
<rect x="482.30" y="91.90" width="10.70" height="41.30" fill="#532b68" stroke="#1c1c1c" stroke-width="0.45" />
<line x1="504.50" y1="82.00" x2="504.50" y2="75.30" stroke="#1a1a1a" stroke-width="0.6" />
<line x1="501.74" y1="75.30" x2="507.26" y2="75.30" stroke="#1a1a1a" stroke-width="0.6" />
<rect x="499.20" y="82.00" width="10.60" height="51.20" fill="#5a5593" stroke="#1c1c1c" stroke-width="0.45" />
<line x1="521.50" y1="54.20" x2="521.50" y2="51.00" stroke="#1a1a1a" stroke-width="0.6" />
<line x1="518.64" y1="51.00" x2="524.36" y2="51.00" stroke="#1a1a1a" stroke-width="0.6" />
<rect x="516.00" y="54.20" width="11.00" height="79.00" fill="#518996" stroke="#1c1c1c" stroke-width="0.45" />
<line x1="549.30" y1="97.90" x2="549.30" y2="85.50" stroke="#1a1a1a" stroke-width="0.6" />
<line x1="546.44" y1="85.50" x2="552.16" y2="85.50" stroke="#1a1a1a" stroke-width="0.6" />
<rect x="543.80" y="97.90" width="11.00" height="35.30" fill="#532b68" stroke="#1c1c1c" stroke-width="0.45" />
<line x1="566.15" y1="91.40" x2="566.15" y2="84.50" stroke="#1a1a1a" stroke-width="0.6" />
<line x1="563.32" y1="84.50" x2="568.98" y2="84.50" stroke="#1a1a1a" stroke-width="0.6" />
<rect x="560.70" y="91.40" width="10.90" height="41.80" fill="#5a5593" stroke="#1c1c1c" stroke-width="0.45" />
<line x1="583.05" y1="82.00" x2="583.05" y2="77.50" stroke="#1a1a1a" stroke-width="0.6" />
<line x1="580.22" y1="77.50" x2="585.88" y2="77.50" stroke="#1a1a1a" stroke-width="0.6" />
<rect x="577.60" y="82.00" width="10.90" height="51.20" fill="#518996" stroke="#1c1c1c" stroke-width="0.45" />
<line x1="476.00" y1="37.00" x2="476.00" y2="133.20" stroke="#000" stroke-width="0.85" />
<line x1="473.60" y1="37.30" x2="476.00" y2="37.30" stroke="#000" stroke-width="0.8" />
<text x="473.30" y="38.49" font-size="3.3" text-anchor="end" font-weight="bold" stroke="#000" stroke-width="0.06">40</text>
<line x1="473.60" y1="61.27" x2="476.00" y2="61.27" stroke="#000" stroke-width="0.8" />
<text x="473.30" y="62.46" font-size="3.3" text-anchor="end" font-weight="bold" stroke="#000" stroke-width="0.06">30</text>
<line x1="473.60" y1="85.25" x2="476.00" y2="85.25" stroke="#000" stroke-width="0.8" />
<text x="473.30" y="86.44" font-size="3.3" text-anchor="end" font-weight="bold" stroke="#000" stroke-width="0.06">20</text>
<line x1="473.60" y1="109.22" x2="476.00" y2="109.22" stroke="#000" stroke-width="0.8" />
<text x="473.30" y="110.41" font-size="3.3" text-anchor="end" font-weight="bold" stroke="#000" stroke-width="0.06">10</text>
<line x1="473.60" y1="133.20" x2="476.00" y2="133.20" stroke="#000" stroke-width="0.8" />
<text x="473.30" y="134.39" font-size="3.3" text-anchor="end" font-weight="bold" stroke="#000" stroke-width="0.06">0</text>
<line x1="474.40" y1="42.09" x2="476.00" y2="42.09" stroke="#000" stroke-width="0.8" />
<line x1="474.40" y1="46.89" x2="476.00" y2="46.89" stroke="#000" stroke-width="0.8" />
<line x1="474.40" y1="51.68" x2="476.00" y2="51.68" stroke="#000" stroke-width="0.8" />
<line x1="474.40" y1="56.48" x2="476.00" y2="56.48" stroke="#000" stroke-width="0.8" />
<line x1="474.40" y1="66.07" x2="476.00" y2="66.07" stroke="#000" stroke-width="0.8" />
<line x1="474.40" y1="70.86" x2="476.00" y2="70.86" stroke="#000" stroke-width="0.8" />
<line x1="474.40" y1="75.66" x2="476.00" y2="75.66" stroke="#000" stroke-width="0.8" />
<line x1="474.40" y1="80.45" x2="476.00" y2="80.45" stroke="#000" stroke-width="0.8" />
<line x1="474.40" y1="90.04" x2="476.00" y2="90.04" stroke="#000" stroke-width="0.8" />
<line x1="474.40" y1="94.84" x2="476.00" y2="94.84" stroke="#000" stroke-width="0.8" />
<line x1="474.40" y1="99.63" x2="476.00" y2="99.63" stroke="#000" stroke-width="0.8" />
<line x1="474.40" y1="104.43" x2="476.00" y2="104.43" stroke="#000" stroke-width="0.8" />
<line x1="474.40" y1="114.02" x2="476.00" y2="114.02" stroke="#000" stroke-width="0.8" />
<line x1="474.40" y1="118.81" x2="476.00" y2="118.81" stroke="#000" stroke-width="0.8" />
<line x1="474.40" y1="123.61" x2="476.00" y2="123.61" stroke="#000" stroke-width="0.8" />
<line x1="474.40" y1="128.40" x2="476.00" y2="128.40" stroke="#000" stroke-width="0.8" />
<line x1="475.60" y1="133.20" x2="594.00" y2="133.20" stroke="#000" stroke-width="0.75" />
<line x1="504.60" y1="133.20" x2="504.60" y2="134.80" stroke="#000" stroke-width="0.5" />
<text x="504.60" y="140.72" font-size="4.5" text-anchor="middle" font-weight="bold" stroke="#000" stroke-width="0.1">T3M4 CTRL</text>
<line x1="566.20" y1="133.20" x2="566.20" y2="134.80" stroke="#000" stroke-width="0.5" />
<text x="566.20" y="140.72" font-size="4.5" text-anchor="middle" font-weight="bold" stroke="#000" stroke-width="0.1">T3M4 DDB2-low</text>
<text font-size="4.2" text-anchor="middle" font-weight="bold" stroke="#000" stroke-width="0.1" transform="translate(468.90 82.50) rotate(-90)">% G2/M</text>
<path d="M487.50 39.70V37.50H521.50V39.70" fill="none" stroke="#222" stroke-width="0.6" />
<text x="504.50" y="38.10" font-size="6.5" text-anchor="middle" font-weight="bold">****</text>
<path d="M504.60 48.20V46.00H520.80V48.20" fill="none" stroke="#222" stroke-width="0.6" />
<text x="512.70" y="46.60" font-size="6.5" text-anchor="middle" font-weight="bold">**</text>
<path d="M522.00 48.20V46.00H583.00V48.20" fill="none" stroke="#222" stroke-width="0.6" />
<text x="552.50" y="46.60" font-size="6.5" text-anchor="middle" font-weight="bold">**</text>
<rect x="595.40" y="38.40" width="4.60" height="3.40" fill="#532b68" stroke="#222" stroke-width="0.4" />
<text x="602.50" y="41.61" font-size="4.2" fill="#111" stroke="#111" stroke-width="0.08">No IR</text>
<rect x="595.40" y="45.10" width="4.60" height="3.40" fill="#5a5593" stroke="#222" stroke-width="0.4" />
<text x="602.50" y="48.31" font-size="4.2" fill="#111" stroke="#111" stroke-width="0.08">IR 1H</text>
<rect x="595.40" y="51.80" width="4.60" height="3.40" fill="#518996" stroke="#222" stroke-width="0.4" />
<text x="602.50" y="55.01" font-size="4.2" fill="#111" stroke="#111" stroke-width="0.08">IR 24H</text>
<text x="373.10" y="193.39" font-size="4.7" text-anchor="middle" font-weight="bold" stroke="#000" stroke-width="0.1">2 Gy irradiation</text>
<line x1="325.35" y1="248.20" x2="325.35" y2="242.80" stroke="#1a1a1a" stroke-width="0.6" />
<line x1="322.46" y1="242.80" x2="328.24" y2="242.80" stroke="#1a1a1a" stroke-width="0.6" />
<rect x="319.80" y="248.20" width="11.10" height="49.30" fill="#8c3b2c" stroke="#1c1c1c" stroke-width="0.45" />
<line x1="342.25" y1="238.30" x2="342.25" y2="224.20" stroke="#1a1a1a" stroke-width="0.6" />
<line x1="339.36" y1="224.20" x2="345.14" y2="224.20" stroke="#1a1a1a" stroke-width="0.6" />
<rect x="336.70" y="238.30" width="11.10" height="59.20" fill="#8a2350" stroke="#1c1c1c" stroke-width="0.45" />
<line x1="359.00" y1="234.60" x2="359.00" y2="224.70" stroke="#1a1a1a" stroke-width="0.6" />
<line x1="356.04" y1="224.70" x2="361.96" y2="224.70" stroke="#1a1a1a" stroke-width="0.6" />
<rect x="353.30" y="234.60" width="11.40" height="62.90" fill="#4b7226" stroke="#1c1c1c" stroke-width="0.45" />
<line x1="387.15" y1="263.10" x2="387.15" y2="258.40" stroke="#1a1a1a" stroke-width="0.6" />
<line x1="384.26" y1="258.40" x2="390.04" y2="258.40" stroke="#1a1a1a" stroke-width="0.6" />
<rect x="381.60" y="263.10" width="11.10" height="34.40" fill="#8c3b2c" stroke="#1c1c1c" stroke-width="0.45" />
<line x1="403.90" y1="242.00" x2="403.90" y2="232.40" stroke="#1a1a1a" stroke-width="0.6" />
<line x1="400.94" y1="232.40" x2="406.86" y2="232.40" stroke="#1a1a1a" stroke-width="0.6" />
<rect x="398.20" y="242.00" width="11.40" height="55.50" fill="#8a2350" stroke="#1c1c1c" stroke-width="0.45" />
<line x1="420.80" y1="221.70" x2="420.80" y2="215.20" stroke="#1a1a1a" stroke-width="0.6" />
<line x1="417.84" y1="215.20" x2="423.76" y2="215.20" stroke="#1a1a1a" stroke-width="0.6" />
<rect x="415.10" y="221.70" width="11.40" height="75.80" fill="#4b7226" stroke="#1c1c1c" stroke-width="0.45" />
<line x1="314.00" y1="201.20" x2="314.00" y2="297.50" stroke="#000" stroke-width="0.85" />
<line x1="311.60" y1="201.50" x2="314.00" y2="201.50" stroke="#000" stroke-width="0.8" />
<text x="311.30" y="202.69" font-size="3.3" text-anchor="end" font-weight="bold" stroke="#000" stroke-width="0.06">30</text>
<line x1="311.60" y1="233.50" x2="314.00" y2="233.50" stroke="#000" stroke-width="0.8" />
<text x="311.30" y="234.69" font-size="3.3" text-anchor="end" font-weight="bold" stroke="#000" stroke-width="0.06">20</text>
<line x1="311.60" y1="265.50" x2="314.00" y2="265.50" stroke="#000" stroke-width="0.8" />
<text x="311.30" y="266.69" font-size="3.3" text-anchor="end" font-weight="bold" stroke="#000" stroke-width="0.06">10</text>
<line x1="311.60" y1="297.50" x2="314.00" y2="297.50" stroke="#000" stroke-width="0.8" />
<text x="311.30" y="298.69" font-size="3.3" text-anchor="end" font-weight="bold" stroke="#000" stroke-width="0.06">0</text>
<line x1="312.40" y1="207.90" x2="314.00" y2="207.90" stroke="#000" stroke-width="0.8" />
<line x1="312.40" y1="214.30" x2="314.00" y2="214.30" stroke="#000" stroke-width="0.8" />
<line x1="312.40" y1="220.70" x2="314.00" y2="220.70" stroke="#000" stroke-width="0.8" />
<line x1="312.40" y1="227.10" x2="314.00" y2="227.10" stroke="#000" stroke-width="0.8" />
<line x1="312.40" y1="239.90" x2="314.00" y2="239.90" stroke="#000" stroke-width="0.8" />
<line x1="312.40" y1="246.30" x2="314.00" y2="246.30" stroke="#000" stroke-width="0.8" />
<line x1="312.40" y1="252.70" x2="314.00" y2="252.70" stroke="#000" stroke-width="0.8" />
<line x1="312.40" y1="259.10" x2="314.00" y2="259.10" stroke="#000" stroke-width="0.8" />
<line x1="312.40" y1="271.90" x2="314.00" y2="271.90" stroke="#000" stroke-width="0.8" />
<line x1="312.40" y1="278.30" x2="314.00" y2="278.30" stroke="#000" stroke-width="0.8" />
<line x1="312.40" y1="284.70" x2="314.00" y2="284.70" stroke="#000" stroke-width="0.8" />
<line x1="312.40" y1="291.10" x2="314.00" y2="291.10" stroke="#000" stroke-width="0.8" />
<line x1="313.60" y1="297.50" x2="432.00" y2="297.50" stroke="#000" stroke-width="0.75" />
<line x1="342.60" y1="297.50" x2="342.60" y2="299.10" stroke="#000" stroke-width="0.5" />
<text x="342.60" y="305.22" font-size="4.5" text-anchor="middle" font-weight="bold" stroke="#000" stroke-width="0.1">Capan-2 CTRL</text>
<line x1="404.10" y1="297.50" x2="404.10" y2="299.10" stroke="#000" stroke-width="0.5" />
<text x="404.10" y="305.22" font-size="4.5" text-anchor="middle" font-weight="bold" stroke="#000" stroke-width="0.1">Capan-2 DDB2-high</text>
<text font-size="4.2" text-anchor="middle" font-weight="bold" stroke="#000" stroke-width="0.1" transform="translate(306.90 248.00) rotate(-90)">% G2/M</text>
<path d="M387.00 212.50V210.30H421.00V212.50" fill="none" stroke="#222" stroke-width="0.6" />
<text x="404.00" y="210.90" font-size="6.5" text-anchor="middle" font-weight="bold">*</text>
<rect x="434.20" y="202.60" width="4.60" height="3.40" fill="#8c3b2c" stroke="#222" stroke-width="0.4" />
<text x="441.30" y="205.81" font-size="4.2" fill="#111" stroke="#111" stroke-width="0.08">No IR</text>
<rect x="434.20" y="209.30" width="4.60" height="3.40" fill="#8a2350" stroke="#222" stroke-width="0.4" />
<text x="441.30" y="212.51" font-size="4.2" fill="#111" stroke="#111" stroke-width="0.08">IR 1H</text>
<rect x="434.20" y="216.00" width="4.60" height="3.40" fill="#4b7226" stroke="#222" stroke-width="0.4" />
<text x="441.30" y="219.21" font-size="4.2" fill="#111" stroke="#111" stroke-width="0.08">IR 24H</text>
<text x="536.90" y="193.39" font-size="4.7" text-anchor="middle" font-weight="bold" stroke="#000" stroke-width="0.1">8 Gy irradiation</text>
<line x1="489.10" y1="279.00" x2="489.10" y2="275.00" stroke="#1a1a1a" stroke-width="0.6" />
<line x1="486.19" y1="275.00" x2="492.01" y2="275.00" stroke="#1a1a1a" stroke-width="0.6" />
<rect x="483.50" y="279.00" width="11.20" height="18.50" fill="#8c3b2c" stroke="#1c1c1c" stroke-width="0.45" />
<line x1="505.90" y1="279.00" x2="505.90" y2="277.30" stroke="#1a1a1a" stroke-width="0.6" />
<line x1="502.94" y1="277.30" x2="508.86" y2="277.30" stroke="#1a1a1a" stroke-width="0.6" />
<rect x="500.20" y="279.00" width="11.40" height="18.50" fill="#8a2350" stroke="#1c1c1c" stroke-width="0.45" />
<line x1="522.60" y1="238.30" x2="522.60" y2="234.10" stroke="#1a1a1a" stroke-width="0.6" />
<line x1="519.69" y1="234.10" x2="525.51" y2="234.10" stroke="#1a1a1a" stroke-width="0.6" />
<rect x="517.00" y="238.30" width="11.20" height="59.20" fill="#4b7226" stroke="#1c1c1c" stroke-width="0.45" />
<line x1="550.90" y1="282.00" x2="550.90" y2="278.30" stroke="#1a1a1a" stroke-width="0.6" />
<line x1="547.99" y1="278.30" x2="553.81" y2="278.30" stroke="#1a1a1a" stroke-width="0.6" />
<rect x="545.30" y="282.00" width="11.20" height="15.50" fill="#8c3b2c" stroke="#1c1c1c" stroke-width="0.45" />
<line x1="567.80" y1="278.50" x2="567.80" y2="277.30" stroke="#1a1a1a" stroke-width="0.6" />
<line x1="564.89" y1="277.30" x2="570.71" y2="277.30" stroke="#1a1a1a" stroke-width="0.6" />
<rect x="562.20" y="278.50" width="11.20" height="19.00" fill="#8a2350" stroke="#1c1c1c" stroke-width="0.45" />
<line x1="584.65" y1="221.40" x2="584.65" y2="220.20" stroke="#1a1a1a" stroke-width="0.6" />
<line x1="581.76" y1="220.20" x2="587.54" y2="220.20" stroke="#1a1a1a" stroke-width="0.6" />
<rect x="579.10" y="221.40" width="11.10" height="76.10" fill="#4b7226" stroke="#1c1c1c" stroke-width="0.45" />
<line x1="477.40" y1="201.00" x2="477.40" y2="297.50" stroke="#000" stroke-width="0.85" />
<line x1="475.00" y1="201.30" x2="477.40" y2="201.30" stroke="#000" stroke-width="0.8" />
<text x="474.70" y="202.49" font-size="3.3" text-anchor="end" font-weight="bold" stroke="#000" stroke-width="0.06">100</text>
<line x1="475.00" y1="220.54" x2="477.40" y2="220.54" stroke="#000" stroke-width="0.8" />
<text x="474.70" y="221.73" font-size="3.3" text-anchor="end" font-weight="bold" stroke="#000" stroke-width="0.06">80</text>
<line x1="475.00" y1="239.78" x2="477.40" y2="239.78" stroke="#000" stroke-width="0.8" />
<text x="474.70" y="240.97" font-size="3.3" text-anchor="end" font-weight="bold" stroke="#000" stroke-width="0.06">60</text>
<line x1="475.00" y1="259.02" x2="477.40" y2="259.02" stroke="#000" stroke-width="0.8" />
<text x="474.70" y="260.21" font-size="3.3" text-anchor="end" font-weight="bold" stroke="#000" stroke-width="0.06">40</text>
<line x1="475.00" y1="278.26" x2="477.40" y2="278.26" stroke="#000" stroke-width="0.8" />
<text x="474.70" y="279.45" font-size="3.3" text-anchor="end" font-weight="bold" stroke="#000" stroke-width="0.06">20</text>
<line x1="475.00" y1="297.50" x2="477.40" y2="297.50" stroke="#000" stroke-width="0.8" />
<text x="474.70" y="298.69" font-size="3.3" text-anchor="end" font-weight="bold" stroke="#000" stroke-width="0.06">0</text>
<line x1="475.80" y1="206.11" x2="477.40" y2="206.11" stroke="#000" stroke-width="0.8" />
<line x1="475.80" y1="210.92" x2="477.40" y2="210.92" stroke="#000" stroke-width="0.8" />
<line x1="475.80" y1="215.73" x2="477.40" y2="215.73" stroke="#000" stroke-width="0.8" />
<line x1="475.80" y1="225.35" x2="477.40" y2="225.35" stroke="#000" stroke-width="0.8" />
<line x1="475.80" y1="230.16" x2="477.40" y2="230.16" stroke="#000" stroke-width="0.8" />
<line x1="475.80" y1="234.97" x2="477.40" y2="234.97" stroke="#000" stroke-width="0.8" />
<line x1="475.80" y1="244.59" x2="477.40" y2="244.59" stroke="#000" stroke-width="0.8" />
<line x1="475.80" y1="249.40" x2="477.40" y2="249.40" stroke="#000" stroke-width="0.8" />
<line x1="475.80" y1="254.21" x2="477.40" y2="254.21" stroke="#000" stroke-width="0.8" />
<line x1="475.80" y1="263.83" x2="477.40" y2="263.83" stroke="#000" stroke-width="0.8" />
<line x1="475.80" y1="268.64" x2="477.40" y2="268.64" stroke="#000" stroke-width="0.8" />
<line x1="475.80" y1="273.45" x2="477.40" y2="273.45" stroke="#000" stroke-width="0.8" />
<line x1="475.80" y1="283.07" x2="477.40" y2="283.07" stroke="#000" stroke-width="0.8" />
<line x1="475.80" y1="287.88" x2="477.40" y2="287.88" stroke="#000" stroke-width="0.8" />
<line x1="475.80" y1="292.69" x2="477.40" y2="292.69" stroke="#000" stroke-width="0.8" />
<line x1="477.00" y1="297.50" x2="595.40" y2="297.50" stroke="#000" stroke-width="0.75" />
<line x1="505.90" y1="297.50" x2="505.90" y2="299.10" stroke="#000" stroke-width="0.5" />
<text x="505.90" y="305.22" font-size="4.5" text-anchor="middle" font-weight="bold" stroke="#000" stroke-width="0.1">Capan-2 CTRL</text>
<line x1="567.90" y1="297.50" x2="567.90" y2="299.10" stroke="#000" stroke-width="0.5" />
<text x="567.90" y="305.22" font-size="4.5" text-anchor="middle" font-weight="bold" stroke="#000" stroke-width="0.1">Capan-2 DDB2-high</text>
<text font-size="4.2" text-anchor="middle" font-weight="bold" stroke="#000" stroke-width="0.1" transform="translate(468.90 248.00) rotate(-90)">% G2/M</text>
<path d="M488.50 225.60V223.40H522.50V225.60" fill="none" stroke="#222" stroke-width="0.6" />
<text x="505.50" y="224.00" font-size="6.5" text-anchor="middle" font-weight="bold">****</text>
<path d="M505.60 232.30V230.10H522.50V232.30" fill="none" stroke="#222" stroke-width="0.6" />
<text x="514.05" y="230.70" font-size="6.5" text-anchor="middle" font-weight="bold">****</text>
<path d="M522.50 205.30V203.10H584.80V205.30" fill="none" stroke="#222" stroke-width="0.6" />
<text x="553.65" y="203.70" font-size="6.5" text-anchor="middle" font-weight="bold">**</text>
<path d="M551.00 211.30V209.10H584.80V211.30" fill="none" stroke="#222" stroke-width="0.6" />
<text x="567.90" y="209.70" font-size="6.5" text-anchor="middle" font-weight="bold">****</text>
<path d="M567.90 218.60V216.40H584.80V218.60" fill="none" stroke="#222" stroke-width="0.6" />
<text x="576.35" y="217.00" font-size="6.5" text-anchor="middle" font-weight="bold">****</text>
<rect x="598.40" y="201.40" width="4.60" height="3.40" fill="#8c3b2c" stroke="#222" stroke-width="0.4" />
<text x="605.50" y="204.61" font-size="4.2" fill="#111" stroke="#111" stroke-width="0.08">No IR</text>
<rect x="598.40" y="208.10" width="4.60" height="3.40" fill="#8a2350" stroke="#222" stroke-width="0.4" />
<text x="605.50" y="211.31" font-size="4.2" fill="#111" stroke="#111" stroke-width="0.08">IR 1H</text>
<rect x="598.40" y="214.80" width="4.60" height="3.40" fill="#4b7226" stroke="#222" stroke-width="0.4" />
<text x="605.50" y="218.01" font-size="4.2" fill="#111" stroke="#111" stroke-width="0.08">IR 24H</text>
<text x="71.50" y="337.25" font-size="4.3" text-anchor="middle" font-weight="bold" textLength="75" lengthAdjust="spacingAndGlyphs" stroke="#000" stroke-width="0.1">CHK1 expression — 2 Gy irradiation</text>
<line x1="39.55" y1="408.90" x2="39.55" y2="414.40" stroke="#222" stroke-width="0.55" />
<line x1="36.61" y1="414.40" x2="42.49" y2="414.40" stroke="#222" stroke-width="0.55" />
<line x1="34.20" y1="408.80" x2="44.90" y2="408.80" stroke="#000" stroke-width="1.0" />
<line x1="58.65" y1="430.50" x2="58.65" y2="438.50" stroke="#222" stroke-width="0.55" />
<line x1="55.71" y1="438.50" x2="61.59" y2="438.50" stroke="#222" stroke-width="0.55" />
<rect x="53.30" y="408.70" width="10.70" height="21.80" fill="#5a5593" stroke="#1c1c1c" stroke-width="0.4" />
<line x1="84.60" y1="365.30" x2="84.60" y2="359.80" stroke="#222" stroke-width="0.55" />
<line x1="81.74" y1="359.80" x2="87.46" y2="359.80" stroke="#222" stroke-width="0.55" />
<rect x="79.40" y="365.30" width="10.40" height="43.40" fill="#532b68" stroke="#1c1c1c" stroke-width="0.4" />
<line x1="102.95" y1="424.30" x2="102.95" y2="430.50" stroke="#222" stroke-width="0.55" />
<line x1="99.95" y1="430.50" x2="105.95" y2="430.50" stroke="#222" stroke-width="0.55" />
<rect x="97.50" y="408.70" width="10.90" height="15.60" fill="#5a5593" stroke="#1c1c1c" stroke-width="0.4" />
<line x1="31.10" y1="346.90" x2="31.10" y2="439.70" stroke="#000" stroke-width="0.85" />
<line x1="28.70" y1="347.20" x2="31.10" y2="347.20" stroke="#000" stroke-width="0.8" />
<text x="28.10" y="348.17" font-size="2.7" text-anchor="end" font-weight="bold" stroke="#000" stroke-width="0.06">2.0</text>
<line x1="28.70" y1="378.07" x2="31.10" y2="378.07" stroke="#000" stroke-width="0.8" />
<text x="28.10" y="379.04" font-size="2.7" text-anchor="end" font-weight="bold" stroke="#000" stroke-width="0.06">1.5</text>
<line x1="28.70" y1="408.93" x2="31.10" y2="408.93" stroke="#000" stroke-width="0.8" />
<text x="28.10" y="409.91" font-size="2.7" text-anchor="end" font-weight="bold" stroke="#000" stroke-width="0.06">1.0</text>
<line x1="28.70" y1="439.80" x2="31.10" y2="439.80" stroke="#000" stroke-width="0.8" />
<text x="28.10" y="440.77" font-size="2.7" text-anchor="end" font-weight="bold" stroke="#000" stroke-width="0.06">0.5</text>
<line x1="29.50" y1="350.29" x2="31.10" y2="350.29" stroke="#000" stroke-width="0.8" />
<line x1="29.50" y1="353.37" x2="31.10" y2="353.37" stroke="#000" stroke-width="0.8" />
<line x1="29.50" y1="356.46" x2="31.10" y2="356.46" stroke="#000" stroke-width="0.8" />
<line x1="29.50" y1="359.55" x2="31.10" y2="359.55" stroke="#000" stroke-width="0.8" />
<line x1="29.50" y1="362.63" x2="31.10" y2="362.63" stroke="#000" stroke-width="0.8" />
<line x1="29.50" y1="365.72" x2="31.10" y2="365.72" stroke="#000" stroke-width="0.8" />
<line x1="29.50" y1="368.81" x2="31.10" y2="368.81" stroke="#000" stroke-width="0.8" />
<line x1="29.50" y1="371.89" x2="31.10" y2="371.89" stroke="#000" stroke-width="0.8" />
<line x1="29.50" y1="374.98" x2="31.10" y2="374.98" stroke="#000" stroke-width="0.8" />
<line x1="29.50" y1="381.15" x2="31.10" y2="381.15" stroke="#000" stroke-width="0.8" />
<line x1="29.50" y1="384.24" x2="31.10" y2="384.24" stroke="#000" stroke-width="0.8" />
<line x1="29.50" y1="387.33" x2="31.10" y2="387.33" stroke="#000" stroke-width="0.8" />
<line x1="29.50" y1="390.41" x2="31.10" y2="390.41" stroke="#000" stroke-width="0.8" />
<line x1="29.50" y1="393.50" x2="31.10" y2="393.50" stroke="#000" stroke-width="0.8" />
<line x1="29.50" y1="396.59" x2="31.10" y2="396.59" stroke="#000" stroke-width="0.8" />
<line x1="29.50" y1="399.67" x2="31.10" y2="399.67" stroke="#000" stroke-width="0.8" />
<line x1="29.50" y1="402.76" x2="31.10" y2="402.76" stroke="#000" stroke-width="0.8" />
<line x1="29.50" y1="405.85" x2="31.10" y2="405.85" stroke="#000" stroke-width="0.8" />
<line x1="29.50" y1="412.02" x2="31.10" y2="412.02" stroke="#000" stroke-width="0.8" />
<line x1="29.50" y1="415.11" x2="31.10" y2="415.11" stroke="#000" stroke-width="0.8" />
<line x1="29.50" y1="418.19" x2="31.10" y2="418.19" stroke="#000" stroke-width="0.8" />
<line x1="29.50" y1="421.28" x2="31.10" y2="421.28" stroke="#000" stroke-width="0.8" />
<line x1="29.50" y1="424.37" x2="31.10" y2="424.37" stroke="#000" stroke-width="0.8" />
<line x1="29.50" y1="427.45" x2="31.10" y2="427.45" stroke="#000" stroke-width="0.8" />
<line x1="29.50" y1="430.54" x2="31.10" y2="430.54" stroke="#000" stroke-width="0.8" />
<line x1="29.50" y1="433.63" x2="31.10" y2="433.63" stroke="#000" stroke-width="0.8" />
<line x1="29.50" y1="436.71" x2="31.10" y2="436.71" stroke="#000" stroke-width="0.8" />
<line x1="30.80" y1="408.70" x2="112.20" y2="408.70" stroke="#000" stroke-width="0.8" />
<text x="49.10" y="415.17" font-size="2.7" text-anchor="middle" font-weight="bold" stroke="#000" stroke-width="0.08">1H</text>
<line x1="46.50" y1="408.70" x2="46.50" y2="409.90" stroke="#000" stroke-width="0.4" />
<text x="93.50" y="415.17" font-size="2.7" text-anchor="middle" font-weight="bold" stroke="#000" stroke-width="0.08">24H</text>
<line x1="89.90" y1="408.70" x2="89.90" y2="409.90" stroke="#000" stroke-width="0.4" />
<text font-size="4.0" text-anchor="middle" font-weight="bold" textLength="52" lengthAdjust="spacingAndGlyphs" stroke="#000" stroke-width="0.1" transform="translate(20.50 393.80) rotate(-90)">Relative mRNA expression</text>
<path d="M39.70 357.60V355.60H84.40V357.60" fill="none" stroke="#222" stroke-width="0.6" />
<text x="62.05" y="355.90" font-size="6.0" text-anchor="middle" font-weight="bold">**</text>
<path d="M85.40 357.60V355.60H103.20V357.60" fill="none" stroke="#222" stroke-width="0.6" />
<text x="94.30" y="355.90" font-size="6.0" text-anchor="middle" font-weight="bold">***</text>
<rect x="117.10" y="348.40" width="4.60" height="3.40" fill="#532b68" stroke="#222" stroke-width="0.4" />
<text x="123.70" y="351.89" font-size="3.85" fill="#111" stroke="#111" stroke-width="0.08">T3M4 CTRL</text>
<rect x="117.10" y="354.60" width="4.60" height="3.40" fill="#5a5593" stroke="#222" stroke-width="0.4" />
<text x="123.70" y="358.09" font-size="3.85" fill="#111" stroke="#111" stroke-width="0.08">T3M4 DDB2-low</text>
<text x="68.40" y="453.95" font-size="4.3" text-anchor="middle" font-weight="bold" textLength="70.7" lengthAdjust="spacingAndGlyphs" stroke="#000" stroke-width="0.1">CHK2 expression — 2 Gy irradiation</text>
<line x1="37.95" y1="525.10" x2="37.95" y2="520.20" stroke="#222" stroke-width="0.55" />
<line x1="35.23" y1="520.20" x2="40.67" y2="520.20" stroke="#222" stroke-width="0.55" />
<rect x="33.00" y="525.10" width="9.90" height="4.00" fill="#532b68" stroke="#1c1c1c" stroke-width="0.4" />
<line x1="55.95" y1="543.50" x2="55.95" y2="554.20" stroke="#222" stroke-width="0.55" />
<line x1="53.17" y1="554.20" x2="58.73" y2="554.20" stroke="#222" stroke-width="0.55" />
<rect x="50.90" y="529.10" width="10.10" height="14.40" fill="#5a5593" stroke="#1c1c1c" stroke-width="0.4" />
<line x1="80.65" y1="478.50" x2="80.65" y2="474.00" stroke="#222" stroke-width="0.55" />
<line x1="77.76" y1="474.00" x2="83.54" y2="474.00" stroke="#222" stroke-width="0.55" />
<rect x="75.40" y="478.50" width="10.50" height="50.60" fill="#532b68" stroke="#1c1c1c" stroke-width="0.4" />
<line x1="98.00" y1="528.40" x2="98.00" y2="525.10" stroke="#222" stroke-width="0.55" />
<line x1="95.25" y1="525.10" x2="100.75" y2="525.10" stroke="#222" stroke-width="0.55" />
<rect x="93.00" y="528.40" width="10.00" height="0.70" fill="#5a5593" stroke="#1c1c1c" stroke-width="0.4" />
<line x1="29.50" y1="468.10" x2="29.50" y2="557.20" stroke="#000" stroke-width="0.85" />
<line x1="27.10" y1="474.00" x2="29.50" y2="474.00" stroke="#000" stroke-width="0.8" />
<text x="26.50" y="474.97" font-size="2.7" text-anchor="end" font-weight="bold" stroke="#000" stroke-width="0.06">2.0</text>
<line x1="27.10" y1="501.60" x2="29.50" y2="501.60" stroke="#000" stroke-width="0.8" />
<text x="26.50" y="502.57" font-size="2.7" text-anchor="end" font-weight="bold" stroke="#000" stroke-width="0.06">1.5</text>
<line x1="27.10" y1="529.10" x2="29.50" y2="529.10" stroke="#000" stroke-width="0.8" />
<text x="26.50" y="530.07" font-size="2.7" text-anchor="end" font-weight="bold" stroke="#000" stroke-width="0.06">1.0</text>
<line x1="27.10" y1="556.70" x2="29.50" y2="556.70" stroke="#000" stroke-width="0.8" />
<text x="26.50" y="557.67" font-size="2.7" text-anchor="end" font-weight="bold" stroke="#000" stroke-width="0.06">0.5</text>
<line x1="27.90" y1="468.48" x2="29.50" y2="468.48" stroke="#000" stroke-width="0.8" />
<line x1="27.90" y1="471.24" x2="29.50" y2="471.24" stroke="#000" stroke-width="0.8" />
<line x1="27.90" y1="476.76" x2="29.50" y2="476.76" stroke="#000" stroke-width="0.8" />
<line x1="27.90" y1="479.52" x2="29.50" y2="479.52" stroke="#000" stroke-width="0.8" />
<line x1="27.90" y1="482.28" x2="29.50" y2="482.28" stroke="#000" stroke-width="0.8" />
<line x1="27.90" y1="485.04" x2="29.50" y2="485.04" stroke="#000" stroke-width="0.8" />
<line x1="27.90" y1="487.80" x2="29.50" y2="487.80" stroke="#000" stroke-width="0.8" />
<line x1="27.90" y1="490.56" x2="29.50" y2="490.56" stroke="#000" stroke-width="0.8" />
<line x1="27.90" y1="493.32" x2="29.50" y2="493.32" stroke="#000" stroke-width="0.8" />
<line x1="27.90" y1="496.08" x2="29.50" y2="496.08" stroke="#000" stroke-width="0.8" />
<line x1="27.90" y1="498.84" x2="29.50" y2="498.84" stroke="#000" stroke-width="0.8" />
<line x1="27.90" y1="504.36" x2="29.50" y2="504.36" stroke="#000" stroke-width="0.8" />
<line x1="27.90" y1="507.12" x2="29.50" y2="507.12" stroke="#000" stroke-width="0.8" />
<line x1="27.90" y1="509.88" x2="29.50" y2="509.88" stroke="#000" stroke-width="0.8" />
<line x1="27.90" y1="512.64" x2="29.50" y2="512.64" stroke="#000" stroke-width="0.8" />
<line x1="27.90" y1="515.40" x2="29.50" y2="515.40" stroke="#000" stroke-width="0.8" />
<line x1="27.90" y1="518.16" x2="29.50" y2="518.16" stroke="#000" stroke-width="0.8" />
<line x1="27.90" y1="520.92" x2="29.50" y2="520.92" stroke="#000" stroke-width="0.8" />
<line x1="27.90" y1="523.68" x2="29.50" y2="523.68" stroke="#000" stroke-width="0.8" />
<line x1="27.90" y1="526.44" x2="29.50" y2="526.44" stroke="#000" stroke-width="0.8" />
<line x1="27.90" y1="531.96" x2="29.50" y2="531.96" stroke="#000" stroke-width="0.8" />
<line x1="27.90" y1="534.72" x2="29.50" y2="534.72" stroke="#000" stroke-width="0.8" />
<line x1="27.90" y1="537.48" x2="29.50" y2="537.48" stroke="#000" stroke-width="0.8" />
<line x1="27.90" y1="540.24" x2="29.50" y2="540.24" stroke="#000" stroke-width="0.8" />
<line x1="27.90" y1="543.00" x2="29.50" y2="543.00" stroke="#000" stroke-width="0.8" />
<line x1="27.90" y1="545.76" x2="29.50" y2="545.76" stroke="#000" stroke-width="0.8" />
<line x1="27.90" y1="548.52" x2="29.50" y2="548.52" stroke="#000" stroke-width="0.8" />
<line x1="27.90" y1="551.28" x2="29.50" y2="551.28" stroke="#000" stroke-width="0.8" />
<line x1="27.90" y1="554.04" x2="29.50" y2="554.04" stroke="#000" stroke-width="0.8" />
<line x1="29.20" y1="529.10" x2="106.20" y2="529.10" stroke="#000" stroke-width="0.8" />
<text x="46.40" y="535.07" font-size="2.7" text-anchor="middle" font-weight="bold" stroke="#000" stroke-width="0.08">1H</text>
<line x1="43.80" y1="529.10" x2="43.80" y2="530.30" stroke="#000" stroke-width="0.4" />
<text x="89.30" y="535.07" font-size="2.7" text-anchor="middle" font-weight="bold" stroke="#000" stroke-width="0.08">24H</text>
<line x1="85.70" y1="529.10" x2="85.70" y2="530.30" stroke="#000" stroke-width="0.4" />
<text font-size="4.0" text-anchor="middle" font-weight="bold" textLength="49.5" lengthAdjust="spacingAndGlyphs" stroke="#000" stroke-width="0.1" transform="translate(20.00 512.50) rotate(-90)">Relative mRNA expression</text>
<path d="M37.70 471.30V469.30H79.90V471.30" fill="none" stroke="#222" stroke-width="0.6" />
<text x="58.80" y="469.60" font-size="6.0" text-anchor="middle" font-weight="bold">***</text>
<path d="M80.90 471.30V469.30H98.80V471.30" fill="none" stroke="#222" stroke-width="0.6" />
<text x="89.85" y="469.60" font-size="6.0" text-anchor="middle" font-weight="bold">***</text>
<rect x="111.70" y="469.10" width="4.60" height="3.40" fill="#532b68" stroke="#222" stroke-width="0.4" />
<text x="118.30" y="472.59" font-size="3.85" fill="#111" stroke="#111" stroke-width="0.08">T3M4 CTRL</text>
<rect x="111.70" y="475.30" width="4.60" height="3.40" fill="#5a5593" stroke="#222" stroke-width="0.4" />
<text x="118.30" y="478.79" font-size="3.85" fill="#111" stroke="#111" stroke-width="0.08">T3M4 DDB2-low</text>
<text x="409.10" y="337.25" font-size="4.3" text-anchor="middle" font-weight="bold" textLength="71.2" lengthAdjust="spacingAndGlyphs" stroke="#000" stroke-width="0.1">ATR expression — 2 Gy irradiation</text>
<line x1="377.25" y1="392.00" x2="377.25" y2="387.30" stroke="#222" stroke-width="0.55" />
<line x1="374.25" y1="387.30" x2="380.25" y2="387.30" stroke="#222" stroke-width="0.55" />
<rect x="371.80" y="392.00" width="10.90" height="2.00" fill="#532b68" stroke="#1c1c1c" stroke-width="0.4" />
<line x1="396.00" y1="436.70" x2="396.00" y2="438.40" stroke="#222" stroke-width="0.55" />
<line x1="392.92" y1="438.40" x2="399.08" y2="438.40" stroke="#222" stroke-width="0.55" />
<rect x="390.40" y="394.00" width="11.20" height="42.70" fill="#5a5593" stroke="#1c1c1c" stroke-width="0.4" />
<line x1="422.05" y1="370.90" x2="422.05" y2="352.80" stroke="#222" stroke-width="0.55" />
<line x1="419.11" y1="352.80" x2="424.99" y2="352.80" stroke="#222" stroke-width="0.55" />
<rect x="416.70" y="370.90" width="10.70" height="23.10" fill="#532b68" stroke="#1c1c1c" stroke-width="0.4" />
<line x1="440.25" y1="426.50" x2="440.25" y2="432.50" stroke="#222" stroke-width="0.55" />
<line x1="437.25" y1="432.50" x2="443.25" y2="432.50" stroke="#222" stroke-width="0.55" />
<rect x="434.80" y="394.00" width="10.90" height="32.50" fill="#5a5593" stroke="#1c1c1c" stroke-width="0.4" />
<line x1="368.50" y1="347.40" x2="368.50" y2="440.40" stroke="#000" stroke-width="0.85" />
<line x1="366.10" y1="347.90" x2="368.50" y2="347.90" stroke="#000" stroke-width="0.8" />
<text x="365.50" y="348.87" font-size="2.7" text-anchor="end" font-weight="bold" stroke="#000" stroke-width="0.06">1.5</text>
<line x1="366.10" y1="394.00" x2="368.50" y2="394.00" stroke="#000" stroke-width="0.8" />
<text x="365.50" y="394.97" font-size="2.7" text-anchor="end" font-weight="bold" stroke="#000" stroke-width="0.06">1.0</text>
<line x1="366.10" y1="440.40" x2="368.50" y2="440.40" stroke="#000" stroke-width="0.8" />
<text x="365.50" y="441.37" font-size="2.7" text-anchor="end" font-weight="bold" stroke="#000" stroke-width="0.06">0.5</text>
<line x1="366.90" y1="352.51" x2="368.50" y2="352.51" stroke="#000" stroke-width="0.8" />
<line x1="366.90" y1="357.12" x2="368.50" y2="357.12" stroke="#000" stroke-width="0.8" />
<line x1="366.90" y1="361.73" x2="368.50" y2="361.73" stroke="#000" stroke-width="0.8" />
<line x1="366.90" y1="366.34" x2="368.50" y2="366.34" stroke="#000" stroke-width="0.8" />
<line x1="366.90" y1="370.95" x2="368.50" y2="370.95" stroke="#000" stroke-width="0.8" />
<line x1="366.90" y1="375.56" x2="368.50" y2="375.56" stroke="#000" stroke-width="0.8" />
<line x1="366.90" y1="380.17" x2="368.50" y2="380.17" stroke="#000" stroke-width="0.8" />
<line x1="366.90" y1="384.78" x2="368.50" y2="384.78" stroke="#000" stroke-width="0.8" />
<line x1="366.90" y1="389.39" x2="368.50" y2="389.39" stroke="#000" stroke-width="0.8" />
<line x1="366.90" y1="398.61" x2="368.50" y2="398.61" stroke="#000" stroke-width="0.8" />
<line x1="366.90" y1="403.22" x2="368.50" y2="403.22" stroke="#000" stroke-width="0.8" />
<line x1="366.90" y1="407.83" x2="368.50" y2="407.83" stroke="#000" stroke-width="0.8" />
<line x1="366.90" y1="412.44" x2="368.50" y2="412.44" stroke="#000" stroke-width="0.8" />
<line x1="366.90" y1="417.05" x2="368.50" y2="417.05" stroke="#000" stroke-width="0.8" />
<line x1="366.90" y1="421.66" x2="368.50" y2="421.66" stroke="#000" stroke-width="0.8" />
<line x1="366.90" y1="426.27" x2="368.50" y2="426.27" stroke="#000" stroke-width="0.8" />
<line x1="366.90" y1="430.88" x2="368.50" y2="430.88" stroke="#000" stroke-width="0.8" />
<line x1="366.90" y1="435.49" x2="368.50" y2="435.49" stroke="#000" stroke-width="0.8" />
<line x1="368.20" y1="394.00" x2="449.20" y2="394.00" stroke="#000" stroke-width="0.8" />
<text x="386.20" y="399.27" font-size="2.7" text-anchor="middle" font-weight="bold" stroke="#000" stroke-width="0.08">1H</text>
<line x1="383.60" y1="394.00" x2="383.60" y2="395.20" stroke="#000" stroke-width="0.4" />
<text x="430.60" y="399.27" font-size="2.7" text-anchor="middle" font-weight="bold" stroke="#000" stroke-width="0.08">24H</text>
<line x1="427.00" y1="394.00" x2="427.00" y2="395.20" stroke="#000" stroke-width="0.4" />
<text font-size="4.0" text-anchor="middle" font-weight="bold" textLength="51.4" lengthAdjust="spacingAndGlyphs" stroke="#000" stroke-width="0.1" transform="translate(358.10 393.80) rotate(-90)">Relative mRNA expression</text>
<path d="M377.30 385.30V383.30H395.90V385.30" fill="none" stroke="#222" stroke-width="0.6" />
<text x="386.60" y="383.60" font-size="6.0" text-anchor="middle" font-weight="bold">*</text>
<path d="M422.20 350.60V348.60H440.50V350.60" fill="none" stroke="#222" stroke-width="0.6" />
<text x="431.35" y="348.90" font-size="6.0" text-anchor="middle" font-weight="bold">*</text>
<rect x="454.70" y="348.80" width="4.60" height="3.40" fill="#532b68" stroke="#222" stroke-width="0.4" />
<text x="461.30" y="352.29" font-size="3.85" fill="#111" stroke="#111" stroke-width="0.08">T3M4 CTRL</text>
<rect x="454.70" y="354.80" width="4.60" height="3.40" fill="#5a5593" stroke="#222" stroke-width="0.4" />
<text x="461.30" y="358.29" font-size="3.85" fill="#111" stroke="#111" stroke-width="0.08">T3M4 DDB2-low</text>
<text x="406.80" y="453.95" font-size="4.3" text-anchor="middle" font-weight="bold" textLength="69" lengthAdjust="spacingAndGlyphs" stroke="#000" stroke-width="0.1">ATM expression — 2 Gy irradiation</text>
<line x1="376.65" y1="526.40" x2="376.65" y2="517.20" stroke="#222" stroke-width="0.55" />
<line x1="373.87" y1="517.20" x2="379.43" y2="517.20" stroke="#222" stroke-width="0.55" />
<rect x="371.60" y="526.40" width="10.10" height="7.70" fill="#532b68" stroke="#1c1c1c" stroke-width="0.4" />
<line x1="394.40" y1="551.70" x2="394.40" y2="555.40" stroke="#222" stroke-width="0.55" />
<line x1="391.54" y1="555.40" x2="397.26" y2="555.40" stroke="#222" stroke-width="0.55" />
<rect x="389.20" y="534.10" width="10.40" height="17.60" fill="#5a5593" stroke="#1c1c1c" stroke-width="0.4" />
<line x1="419.20" y1="485.40" x2="419.20" y2="474.00" stroke="#222" stroke-width="0.55" />
<line x1="416.34" y1="474.00" x2="422.06" y2="474.00" stroke="#222" stroke-width="0.55" />
<rect x="414.00" y="485.40" width="10.40" height="48.70" fill="#532b68" stroke="#1c1c1c" stroke-width="0.4" />
<line x1="437.05" y1="551.00" x2="437.05" y2="553.70" stroke="#222" stroke-width="0.55" />
<line x1="434.16" y1="553.70" x2="439.94" y2="553.70" stroke="#222" stroke-width="0.55" />
<rect x="431.80" y="534.10" width="10.50" height="16.90" fill="#5a5593" stroke="#1c1c1c" stroke-width="0.4" />
<line x1="368.10" y1="468.30" x2="368.10" y2="557.40" stroke="#000" stroke-width="0.85" />
<line x1="365.70" y1="468.60" x2="368.10" y2="468.60" stroke="#000" stroke-width="0.8" />
<text x="365.10" y="469.57" font-size="2.7" text-anchor="end" font-weight="bold" stroke="#000" stroke-width="0.06">3.0</text>
<line x1="365.70" y1="485.00" x2="368.10" y2="485.00" stroke="#000" stroke-width="0.8" />
<text x="365.10" y="485.97" font-size="2.7" text-anchor="end" font-weight="bold" stroke="#000" stroke-width="0.06">2.5</text>
<line x1="365.70" y1="501.30" x2="368.10" y2="501.30" stroke="#000" stroke-width="0.8" />
<text x="365.10" y="502.27" font-size="2.7" text-anchor="end" font-weight="bold" stroke="#000" stroke-width="0.06">2.0</text>
<line x1="365.70" y1="517.70" x2="368.10" y2="517.70" stroke="#000" stroke-width="0.8" />
<text x="365.10" y="518.67" font-size="2.7" text-anchor="end" font-weight="bold" stroke="#000" stroke-width="0.06">1.5</text>
<line x1="365.70" y1="534.10" x2="368.10" y2="534.10" stroke="#000" stroke-width="0.8" />
<text x="365.10" y="535.07" font-size="2.7" text-anchor="end" font-weight="bold" stroke="#000" stroke-width="0.06">1.0</text>
<line x1="365.70" y1="550.50" x2="368.10" y2="550.50" stroke="#000" stroke-width="0.8" />
<text x="365.10" y="551.47" font-size="2.7" text-anchor="end" font-weight="bold" stroke="#000" stroke-width="0.06">0.5</text>
<line x1="366.50" y1="471.88" x2="368.10" y2="471.88" stroke="#000" stroke-width="0.8" />
<line x1="366.50" y1="475.16" x2="368.10" y2="475.16" stroke="#000" stroke-width="0.8" />
<line x1="366.50" y1="478.44" x2="368.10" y2="478.44" stroke="#000" stroke-width="0.8" />
<line x1="366.50" y1="481.72" x2="368.10" y2="481.72" stroke="#000" stroke-width="0.8" />
<line x1="366.50" y1="488.28" x2="368.10" y2="488.28" stroke="#000" stroke-width="0.8" />
<line x1="366.50" y1="491.56" x2="368.10" y2="491.56" stroke="#000" stroke-width="0.8" />
<line x1="366.50" y1="494.84" x2="368.10" y2="494.84" stroke="#000" stroke-width="0.8" />
<line x1="366.50" y1="498.12" x2="368.10" y2="498.12" stroke="#000" stroke-width="0.8" />
<line x1="366.50" y1="504.68" x2="368.10" y2="504.68" stroke="#000" stroke-width="0.8" />
<line x1="366.50" y1="507.96" x2="368.10" y2="507.96" stroke="#000" stroke-width="0.8" />
<line x1="366.50" y1="511.24" x2="368.10" y2="511.24" stroke="#000" stroke-width="0.8" />
<line x1="366.50" y1="514.52" x2="368.10" y2="514.52" stroke="#000" stroke-width="0.8" />
<line x1="366.50" y1="521.08" x2="368.10" y2="521.08" stroke="#000" stroke-width="0.8" />
<line x1="366.50" y1="524.36" x2="368.10" y2="524.36" stroke="#000" stroke-width="0.8" />
<line x1="366.50" y1="527.64" x2="368.10" y2="527.64" stroke="#000" stroke-width="0.8" />
<line x1="366.50" y1="530.92" x2="368.10" y2="530.92" stroke="#000" stroke-width="0.8" />
<line x1="366.50" y1="537.48" x2="368.10" y2="537.48" stroke="#000" stroke-width="0.8" />
<line x1="366.50" y1="540.76" x2="368.10" y2="540.76" stroke="#000" stroke-width="0.8" />
<line x1="366.50" y1="544.04" x2="368.10" y2="544.04" stroke="#000" stroke-width="0.8" />
<line x1="366.50" y1="547.32" x2="368.10" y2="547.32" stroke="#000" stroke-width="0.8" />
<line x1="366.50" y1="553.88" x2="368.10" y2="553.88" stroke="#000" stroke-width="0.8" />
<line x1="366.50" y1="557.16" x2="368.10" y2="557.16" stroke="#000" stroke-width="0.8" />
<line x1="367.80" y1="534.10" x2="445.50" y2="534.10" stroke="#000" stroke-width="0.8" />
<text x="385.20" y="540.07" font-size="2.7" text-anchor="middle" font-weight="bold" stroke="#000" stroke-width="0.08">1H</text>
<line x1="382.60" y1="534.10" x2="382.60" y2="535.30" stroke="#000" stroke-width="0.4" />
<text x="427.60" y="540.07" font-size="2.7" text-anchor="middle" font-weight="bold" stroke="#000" stroke-width="0.08">24H</text>
<line x1="424.00" y1="534.10" x2="424.00" y2="535.30" stroke="#000" stroke-width="0.4" />
<text font-size="4.0" text-anchor="middle" font-weight="bold" textLength="49.6" lengthAdjust="spacingAndGlyphs" stroke="#000" stroke-width="0.1" transform="translate(358.10 513.20) rotate(-90)">Relative mRNA expression</text>
<path d="M376.30 471.30V469.30H418.40V471.30" fill="none" stroke="#222" stroke-width="0.6" />
<text x="397.35" y="469.60" font-size="6.0" text-anchor="middle" font-weight="bold">*</text>
<path d="M419.40 471.30V469.30H437.30V471.30" fill="none" stroke="#222" stroke-width="0.6" />
<text x="428.35" y="469.60" font-size="6.0" text-anchor="middle" font-weight="bold">**</text>
<rect x="452.70" y="469.50" width="4.60" height="3.40" fill="#532b68" stroke="#222" stroke-width="0.4" />
<text x="459.30" y="472.99" font-size="3.85" fill="#111" stroke="#111" stroke-width="0.08">T3M4 CTRL</text>
<rect x="452.70" y="475.80" width="4.60" height="3.40" fill="#5a5593" stroke="#222" stroke-width="0.4" />
<text x="459.30" y="479.29" font-size="3.85" fill="#111" stroke="#111" stroke-width="0.08">T3M4 DDB2-low</text>
<text x="69.00" y="574.05" font-size="4.3" text-anchor="middle" font-weight="bold" textLength="74.7" lengthAdjust="spacingAndGlyphs" stroke="#000" stroke-width="0.1">CHK1 expression — 2 Gy irradiation</text>
<line x1="37.60" y1="661.70" x2="37.60" y2="672.90" stroke="#222" stroke-width="0.55" />
<line x1="34.68" y1="672.90" x2="40.51" y2="672.90" stroke="#222" stroke-width="0.55" />
<rect x="32.30" y="637.20" width="10.60" height="24.50" fill="#8c3b2c" stroke="#1c1c1c" stroke-width="0.4" />
<line x1="55.95" y1="618.80" x2="55.95" y2="615.10" stroke="#222" stroke-width="0.55" />
<line x1="53.01" y1="615.10" x2="58.89" y2="615.10" stroke="#222" stroke-width="0.55" />
<rect x="50.60" y="618.80" width="10.70" height="18.40" fill="#8a2350" stroke="#1c1c1c" stroke-width="0.4" />
<line x1="82.00" y1="658.00" x2="82.00" y2="659.80" stroke="#222" stroke-width="0.55" />
<line x1="79.09" y1="659.80" x2="84.91" y2="659.80" stroke="#222" stroke-width="0.55" />
<rect x="76.70" y="637.20" width="10.60" height="20.80" fill="#8c3b2c" stroke="#1c1c1c" stroke-width="0.4" />
<line x1="100.50" y1="620.80" x2="100.50" y2="611.10" stroke="#222" stroke-width="0.55" />
<line x1="97.47" y1="611.10" x2="103.53" y2="611.10" stroke="#222" stroke-width="0.55" />
<rect x="95.00" y="620.80" width="11.00" height="16.40" fill="#8a2350" stroke="#1c1c1c" stroke-width="0.4" />
<line x1="28.70" y1="583.90" x2="28.70" y2="676.10" stroke="#000" stroke-width="0.85" />
<line x1="26.30" y1="584.10" x2="28.70" y2="584.10" stroke="#000" stroke-width="0.8" />
<text x="25.70" y="585.07" font-size="2.7" text-anchor="end" font-weight="bold" stroke="#000" stroke-width="0.06">1.4</text>
<line x1="26.30" y1="610.60" x2="28.70" y2="610.60" stroke="#000" stroke-width="0.8" />
<text x="25.70" y="611.57" font-size="2.7" text-anchor="end" font-weight="bold" stroke="#000" stroke-width="0.06">1.2</text>
<line x1="26.30" y1="637.20" x2="28.70" y2="637.20" stroke="#000" stroke-width="0.8" />
<text x="25.70" y="638.17" font-size="2.7" text-anchor="end" font-weight="bold" stroke="#000" stroke-width="0.06">1.0</text>
<line x1="26.30" y1="663.70" x2="28.70" y2="663.70" stroke="#000" stroke-width="0.8" />
<text x="25.70" y="664.67" font-size="2.7" text-anchor="end" font-weight="bold" stroke="#000" stroke-width="0.06">0.8</text>
<line x1="27.10" y1="586.75" x2="28.70" y2="586.75" stroke="#000" stroke-width="0.8" />
<line x1="27.10" y1="589.40" x2="28.70" y2="589.40" stroke="#000" stroke-width="0.8" />
<line x1="27.10" y1="592.05" x2="28.70" y2="592.05" stroke="#000" stroke-width="0.8" />
<line x1="27.10" y1="594.70" x2="28.70" y2="594.70" stroke="#000" stroke-width="0.8" />
<line x1="27.10" y1="597.35" x2="28.70" y2="597.35" stroke="#000" stroke-width="0.8" />
<line x1="27.10" y1="600.00" x2="28.70" y2="600.00" stroke="#000" stroke-width="0.8" />
<line x1="27.10" y1="602.65" x2="28.70" y2="602.65" stroke="#000" stroke-width="0.8" />
<line x1="27.10" y1="605.30" x2="28.70" y2="605.30" stroke="#000" stroke-width="0.8" />
<line x1="27.10" y1="607.95" x2="28.70" y2="607.95" stroke="#000" stroke-width="0.8" />
<line x1="27.10" y1="613.25" x2="28.70" y2="613.25" stroke="#000" stroke-width="0.8" />
<line x1="27.10" y1="615.90" x2="28.70" y2="615.90" stroke="#000" stroke-width="0.8" />
<line x1="27.10" y1="618.55" x2="28.70" y2="618.55" stroke="#000" stroke-width="0.8" />
<line x1="27.10" y1="621.20" x2="28.70" y2="621.20" stroke="#000" stroke-width="0.8" />
<line x1="27.10" y1="623.85" x2="28.70" y2="623.85" stroke="#000" stroke-width="0.8" />
<line x1="27.10" y1="626.50" x2="28.70" y2="626.50" stroke="#000" stroke-width="0.8" />
<line x1="27.10" y1="629.15" x2="28.70" y2="629.15" stroke="#000" stroke-width="0.8" />
<line x1="27.10" y1="631.80" x2="28.70" y2="631.80" stroke="#000" stroke-width="0.8" />
<line x1="27.10" y1="634.45" x2="28.70" y2="634.45" stroke="#000" stroke-width="0.8" />
<line x1="27.10" y1="639.75" x2="28.70" y2="639.75" stroke="#000" stroke-width="0.8" />
<line x1="27.10" y1="642.40" x2="28.70" y2="642.40" stroke="#000" stroke-width="0.8" />
<line x1="27.10" y1="645.05" x2="28.70" y2="645.05" stroke="#000" stroke-width="0.8" />
<line x1="27.10" y1="647.70" x2="28.70" y2="647.70" stroke="#000" stroke-width="0.8" />
<line x1="27.10" y1="650.35" x2="28.70" y2="650.35" stroke="#000" stroke-width="0.8" />
<line x1="27.10" y1="653.00" x2="28.70" y2="653.00" stroke="#000" stroke-width="0.8" />
<line x1="27.10" y1="655.65" x2="28.70" y2="655.65" stroke="#000" stroke-width="0.8" />
<line x1="27.10" y1="658.30" x2="28.70" y2="658.30" stroke="#000" stroke-width="0.8" />
<line x1="27.10" y1="660.95" x2="28.70" y2="660.95" stroke="#000" stroke-width="0.8" />
<line x1="27.10" y1="666.25" x2="28.70" y2="666.25" stroke="#000" stroke-width="0.8" />
<line x1="27.10" y1="668.90" x2="28.70" y2="668.90" stroke="#000" stroke-width="0.8" />
<line x1="27.10" y1="671.55" x2="28.70" y2="671.55" stroke="#000" stroke-width="0.8" />
<line x1="27.10" y1="674.20" x2="28.70" y2="674.20" stroke="#000" stroke-width="0.8" />
<line x1="28.40" y1="637.20" x2="109.20" y2="637.20" stroke="#000" stroke-width="0.8" />
<text x="47.10" y="642.67" font-size="2.7" text-anchor="middle" font-weight="bold" stroke="#000" stroke-width="0.08">1H</text>
<line x1="44.50" y1="637.20" x2="44.50" y2="638.40" stroke="#000" stroke-width="0.4" />
<text x="90.80" y="642.67" font-size="2.7" text-anchor="middle" font-weight="bold" stroke="#000" stroke-width="0.08">24H</text>
<line x1="87.20" y1="637.20" x2="87.20" y2="638.40" stroke="#000" stroke-width="0.4" />
<text font-size="4.0" text-anchor="middle" font-weight="bold" textLength="52" lengthAdjust="spacingAndGlyphs" stroke="#000" stroke-width="0.1" transform="translate(18.00 630.70) rotate(-90)">Relative mRNA expression</text>
<path d="M37.50 612.90V610.90H56.60V612.90" fill="none" stroke="#222" stroke-width="0.6" />
<text x="47.05" y="611.20" font-size="6.0" text-anchor="middle" font-weight="bold">*</text>
<path d="M82.10 608.20V606.20H100.70V608.20" fill="none" stroke="#222" stroke-width="0.6" />
<text x="91.40" y="606.50" font-size="6.0" text-anchor="middle" font-weight="bold">*</text>
<rect x="113.60" y="583.60" width="4.60" height="3.40" fill="#8c3b2c" stroke="#222" stroke-width="0.4" />
<text x="120.20" y="587.09" font-size="3.85" fill="#111" stroke="#111" stroke-width="0.08">Capan-2 CTRL</text>
<rect x="113.60" y="589.80" width="4.60" height="3.40" fill="#8a2350" stroke="#222" stroke-width="0.4" />
<text x="120.20" y="593.29" font-size="3.85" fill="#111" stroke="#111" stroke-width="0.08">Capan-2 DDB2-high</text>
<text x="69.00" y="690.45" font-size="4.3" text-anchor="middle" font-weight="bold" textLength="75.2" lengthAdjust="spacingAndGlyphs" stroke="#000" stroke-width="0.1">CHK2 expression — 2 Gy irradiation</text>
<line x1="37.60" y1="780.00" x2="37.60" y2="784.40" stroke="#222" stroke-width="0.55" />
<line x1="34.68" y1="784.40" x2="40.51" y2="784.40" stroke="#222" stroke-width="0.55" />
<rect x="32.30" y="762.40" width="10.60" height="17.60" fill="#8c3b2c" stroke="#1c1c1c" stroke-width="0.4" />
<line x1="55.95" y1="746.50" x2="55.95" y2="732.10" stroke="#222" stroke-width="0.55" />
<line x1="53.01" y1="732.10" x2="58.89" y2="732.10" stroke="#222" stroke-width="0.55" />
<rect x="50.60" y="746.50" width="10.70" height="15.90" fill="#8a2350" stroke="#1c1c1c" stroke-width="0.4" />
<line x1="82.00" y1="772.30" x2="82.00" y2="777.50" stroke="#222" stroke-width="0.55" />
<line x1="79.09" y1="777.50" x2="84.91" y2="777.50" stroke="#222" stroke-width="0.55" />
<rect x="76.70" y="762.40" width="10.60" height="9.90" fill="#8c3b2c" stroke="#1c1c1c" stroke-width="0.4" />
<line x1="100.50" y1="730.30" x2="100.50" y2="722.20" stroke="#222" stroke-width="0.55" />
<line x1="97.47" y1="722.20" x2="103.53" y2="722.20" stroke="#222" stroke-width="0.55" />
<rect x="95.00" y="730.30" width="11.00" height="32.10" fill="#8a2350" stroke="#1c1c1c" stroke-width="0.4" />
<line x1="28.70" y1="700.50" x2="28.70" y2="793.10" stroke="#000" stroke-width="0.85" />
<line x1="26.30" y1="700.60" x2="28.70" y2="700.60" stroke="#000" stroke-width="0.8" />
<text x="25.70" y="701.57" font-size="2.7" text-anchor="end" font-weight="bold" stroke="#000" stroke-width="0.06">2.0</text>
<line x1="26.30" y1="731.60" x2="28.70" y2="731.60" stroke="#000" stroke-width="0.8" />
<text x="25.70" y="732.57" font-size="2.7" text-anchor="end" font-weight="bold" stroke="#000" stroke-width="0.06">1.5</text>
<line x1="26.30" y1="762.40" x2="28.70" y2="762.40" stroke="#000" stroke-width="0.8" />
<text x="25.70" y="763.37" font-size="2.7" text-anchor="end" font-weight="bold" stroke="#000" stroke-width="0.06">1.0</text>
<line x1="26.30" y1="793.10" x2="28.70" y2="793.10" stroke="#000" stroke-width="0.8" />
<text x="25.70" y="794.07" font-size="2.7" text-anchor="end" font-weight="bold" stroke="#000" stroke-width="0.06">0.5</text>
<line x1="27.10" y1="703.70" x2="28.70" y2="703.70" stroke="#000" stroke-width="0.8" />
<line x1="27.10" y1="706.80" x2="28.70" y2="706.80" stroke="#000" stroke-width="0.8" />
<line x1="27.10" y1="709.90" x2="28.70" y2="709.90" stroke="#000" stroke-width="0.8" />
<line x1="27.10" y1="713.00" x2="28.70" y2="713.00" stroke="#000" stroke-width="0.8" />
<line x1="27.10" y1="716.10" x2="28.70" y2="716.10" stroke="#000" stroke-width="0.8" />
<line x1="27.10" y1="719.20" x2="28.70" y2="719.20" stroke="#000" stroke-width="0.8" />
<line x1="27.10" y1="722.30" x2="28.70" y2="722.30" stroke="#000" stroke-width="0.8" />
<line x1="27.10" y1="725.40" x2="28.70" y2="725.40" stroke="#000" stroke-width="0.8" />
<line x1="27.10" y1="728.50" x2="28.70" y2="728.50" stroke="#000" stroke-width="0.8" />
<line x1="27.10" y1="734.70" x2="28.70" y2="734.70" stroke="#000" stroke-width="0.8" />
<line x1="27.10" y1="737.80" x2="28.70" y2="737.80" stroke="#000" stroke-width="0.8" />
<line x1="27.10" y1="740.90" x2="28.70" y2="740.90" stroke="#000" stroke-width="0.8" />
<line x1="27.10" y1="744.00" x2="28.70" y2="744.00" stroke="#000" stroke-width="0.8" />
<line x1="27.10" y1="747.10" x2="28.70" y2="747.10" stroke="#000" stroke-width="0.8" />
<line x1="27.10" y1="750.20" x2="28.70" y2="750.20" stroke="#000" stroke-width="0.8" />
<line x1="27.10" y1="753.30" x2="28.70" y2="753.30" stroke="#000" stroke-width="0.8" />
<line x1="27.10" y1="756.40" x2="28.70" y2="756.40" stroke="#000" stroke-width="0.8" />
<line x1="27.10" y1="759.50" x2="28.70" y2="759.50" stroke="#000" stroke-width="0.8" />
<line x1="27.10" y1="765.70" x2="28.70" y2="765.70" stroke="#000" stroke-width="0.8" />
<line x1="27.10" y1="768.80" x2="28.70" y2="768.80" stroke="#000" stroke-width="0.8" />
<line x1="27.10" y1="771.90" x2="28.70" y2="771.90" stroke="#000" stroke-width="0.8" />
<line x1="27.10" y1="775.00" x2="28.70" y2="775.00" stroke="#000" stroke-width="0.8" />
<line x1="27.10" y1="778.10" x2="28.70" y2="778.10" stroke="#000" stroke-width="0.8" />
<line x1="27.10" y1="781.20" x2="28.70" y2="781.20" stroke="#000" stroke-width="0.8" />
<line x1="27.10" y1="784.30" x2="28.70" y2="784.30" stroke="#000" stroke-width="0.8" />
<line x1="27.10" y1="787.40" x2="28.70" y2="787.40" stroke="#000" stroke-width="0.8" />
<line x1="27.10" y1="790.50" x2="28.70" y2="790.50" stroke="#000" stroke-width="0.8" />
<line x1="28.40" y1="762.40" x2="109.20" y2="762.40" stroke="#000" stroke-width="0.8" />
<text x="47.10" y="768.57" font-size="2.7" text-anchor="middle" font-weight="bold" stroke="#000" stroke-width="0.08">1H</text>
<line x1="44.50" y1="762.40" x2="44.50" y2="763.60" stroke="#000" stroke-width="0.4" />
<text x="90.80" y="768.57" font-size="2.7" text-anchor="middle" font-weight="bold" stroke="#000" stroke-width="0.08">24H</text>
<line x1="87.20" y1="762.40" x2="87.20" y2="763.60" stroke="#000" stroke-width="0.4" />
<text font-size="4.0" text-anchor="middle" font-weight="bold" textLength="51.6" lengthAdjust="spacingAndGlyphs" stroke="#000" stroke-width="0.1" transform="translate(18.00 747.20) rotate(-90)">Relative mRNA expression</text>
<path d="M82.10 719.40V717.40H100.70V719.40" fill="none" stroke="#222" stroke-width="0.6" />
<text x="91.40" y="717.70" font-size="6.0" text-anchor="middle" font-weight="bold">*</text>
<rect x="114.10" y="700.10" width="4.60" height="3.40" fill="#8c3b2c" stroke="#222" stroke-width="0.4" />
<text x="120.70" y="703.59" font-size="3.85" fill="#111" stroke="#111" stroke-width="0.08">Capan-2 CTRL</text>
<rect x="114.10" y="706.00" width="4.60" height="3.40" fill="#8a2350" stroke="#222" stroke-width="0.4" />
<text x="120.70" y="709.49" font-size="3.85" fill="#111" stroke="#111" stroke-width="0.08">Capan-2 DDB2-high</text>
<text x="409.50" y="574.45" font-size="4.3" text-anchor="middle" font-weight="bold" textLength="71.7" lengthAdjust="spacingAndGlyphs" stroke="#000" stroke-width="0.1">ATR expression — 2 Gy irradiation</text>
<line x1="377.25" y1="654.30" x2="377.25" y2="666.70" stroke="#222" stroke-width="0.55" />
<line x1="374.25" y1="666.70" x2="380.25" y2="666.70" stroke="#222" stroke-width="0.55" />
<rect x="371.80" y="615.30" width="10.90" height="39.00" fill="#8c3b2c" stroke="#1c1c1c" stroke-width="0.4" />
<line x1="396.00" y1="615.30" x2="396.00" y2="618.80" stroke="#222" stroke-width="0.55" />
<line x1="392.92" y1="618.80" x2="399.08" y2="618.80" stroke="#222" stroke-width="0.55" />
<line x1="422.40" y1="629.70" x2="422.40" y2="633.20" stroke="#222" stroke-width="0.55" />
<line x1="419.54" y1="633.20" x2="425.26" y2="633.20" stroke="#222" stroke-width="0.55" />
<rect x="417.20" y="615.30" width="10.40" height="14.40" fill="#8c3b2c" stroke="#1c1c1c" stroke-width="0.4" />
<line x1="440.90" y1="598.20" x2="440.90" y2="592.30" stroke="#222" stroke-width="0.55" />
<line x1="437.99" y1="592.30" x2="443.81" y2="592.30" stroke="#222" stroke-width="0.55" />
<rect x="435.60" y="598.20" width="10.60" height="17.10" fill="#8a2350" stroke="#1c1c1c" stroke-width="0.4" />
<line x1="368.80" y1="584.00" x2="368.80" y2="677.40" stroke="#000" stroke-width="0.85" />
<line x1="366.40" y1="584.30" x2="368.80" y2="584.30" stroke="#000" stroke-width="0.8" />
<text x="365.80" y="585.27" font-size="2.7" text-anchor="end" font-weight="bold" stroke="#000" stroke-width="0.06">1.2</text>
<line x1="366.40" y1="615.30" x2="368.80" y2="615.30" stroke="#000" stroke-width="0.8" />
<text x="365.80" y="616.27" font-size="2.7" text-anchor="end" font-weight="bold" stroke="#000" stroke-width="0.06">1.0</text>
<line x1="366.40" y1="646.40" x2="368.80" y2="646.40" stroke="#000" stroke-width="0.8" />
<text x="365.80" y="647.37" font-size="2.7" text-anchor="end" font-weight="bold" stroke="#000" stroke-width="0.06">0.8</text>
<line x1="366.40" y1="677.40" x2="368.80" y2="677.40" stroke="#000" stroke-width="0.8" />
<text x="365.80" y="678.37" font-size="2.7" text-anchor="end" font-weight="bold" stroke="#000" stroke-width="0.06">0.6</text>
<line x1="367.20" y1="587.40" x2="368.80" y2="587.40" stroke="#000" stroke-width="0.8" />
<line x1="367.20" y1="590.50" x2="368.80" y2="590.50" stroke="#000" stroke-width="0.8" />
<line x1="367.20" y1="593.60" x2="368.80" y2="593.60" stroke="#000" stroke-width="0.8" />
<line x1="367.20" y1="596.70" x2="368.80" y2="596.70" stroke="#000" stroke-width="0.8" />
<line x1="367.20" y1="599.80" x2="368.80" y2="599.80" stroke="#000" stroke-width="0.8" />
<line x1="367.20" y1="602.90" x2="368.80" y2="602.90" stroke="#000" stroke-width="0.8" />
<line x1="367.20" y1="606.00" x2="368.80" y2="606.00" stroke="#000" stroke-width="0.8" />
<line x1="367.20" y1="609.10" x2="368.80" y2="609.10" stroke="#000" stroke-width="0.8" />
<line x1="367.20" y1="612.20" x2="368.80" y2="612.20" stroke="#000" stroke-width="0.8" />
<line x1="367.20" y1="618.40" x2="368.80" y2="618.40" stroke="#000" stroke-width="0.8" />
<line x1="367.20" y1="621.50" x2="368.80" y2="621.50" stroke="#000" stroke-width="0.8" />
<line x1="367.20" y1="624.60" x2="368.80" y2="624.60" stroke="#000" stroke-width="0.8" />
<line x1="367.20" y1="627.70" x2="368.80" y2="627.70" stroke="#000" stroke-width="0.8" />
<line x1="367.20" y1="630.80" x2="368.80" y2="630.80" stroke="#000" stroke-width="0.8" />
<line x1="367.20" y1="633.90" x2="368.80" y2="633.90" stroke="#000" stroke-width="0.8" />
<line x1="367.20" y1="637.00" x2="368.80" y2="637.00" stroke="#000" stroke-width="0.8" />
<line x1="367.20" y1="640.10" x2="368.80" y2="640.10" stroke="#000" stroke-width="0.8" />
<line x1="367.20" y1="643.20" x2="368.80" y2="643.20" stroke="#000" stroke-width="0.8" />
<line x1="367.20" y1="649.40" x2="368.80" y2="649.40" stroke="#000" stroke-width="0.8" />
<line x1="367.20" y1="652.50" x2="368.80" y2="652.50" stroke="#000" stroke-width="0.8" />
<line x1="367.20" y1="655.60" x2="368.80" y2="655.60" stroke="#000" stroke-width="0.8" />
<line x1="367.20" y1="658.70" x2="368.80" y2="658.70" stroke="#000" stroke-width="0.8" />
<line x1="367.20" y1="661.80" x2="368.80" y2="661.80" stroke="#000" stroke-width="0.8" />
<line x1="367.20" y1="664.90" x2="368.80" y2="664.90" stroke="#000" stroke-width="0.8" />
<line x1="367.20" y1="668.00" x2="368.80" y2="668.00" stroke="#000" stroke-width="0.8" />
<line x1="367.20" y1="671.10" x2="368.80" y2="671.10" stroke="#000" stroke-width="0.8" />
<line x1="367.20" y1="674.20" x2="368.80" y2="674.20" stroke="#000" stroke-width="0.8" />
<line x1="368.50" y1="615.30" x2="450.50" y2="615.30" stroke="#000" stroke-width="0.8" />
<text x="386.70" y="622.07" font-size="2.7" text-anchor="middle" font-weight="bold" stroke="#000" stroke-width="0.08">1H</text>
<line x1="384.10" y1="615.30" x2="384.10" y2="616.50" stroke="#000" stroke-width="0.4" />
<text x="431.40" y="622.07" font-size="2.7" text-anchor="middle" font-weight="bold" stroke="#000" stroke-width="0.08">24H</text>
<line x1="427.80" y1="615.30" x2="427.80" y2="616.50" stroke="#000" stroke-width="0.4" />
<text font-size="4.0" text-anchor="middle" font-weight="bold" textLength="52" lengthAdjust="spacingAndGlyphs" stroke="#000" stroke-width="0.1" transform="translate(358.10 630.70) rotate(-90)">Relative mRNA expression</text>
<path d="M377.50 612.40V610.40H396.40V612.40" fill="none" stroke="#222" stroke-width="0.6" />
<text x="386.95" y="610.70" font-size="6.0" text-anchor="middle" font-weight="bold">*</text>
<rect x="458.90" y="585.80" width="4.60" height="3.40" fill="#8c3b2c" stroke="#222" stroke-width="0.4" />
<text x="465.50" y="589.29" font-size="3.85" fill="#111" stroke="#111" stroke-width="0.08">Capan-2 CTRL</text>
<rect x="458.90" y="592.20" width="4.60" height="3.40" fill="#8a2350" stroke="#222" stroke-width="0.4" />
<text x="465.50" y="595.69" font-size="3.85" fill="#111" stroke="#111" stroke-width="0.08">Capan-2 DDB2-high</text>
<text x="409.50" y="690.45" font-size="4.3" text-anchor="middle" font-weight="bold" textLength="74" lengthAdjust="spacingAndGlyphs" stroke="#000" stroke-width="0.1">ATM expression —  2 Gy irradiation</text>
<line x1="377.25" y1="749.50" x2="377.25" y2="746.20" stroke="#222" stroke-width="0.55" />
<line x1="374.25" y1="746.20" x2="380.25" y2="746.20" stroke="#222" stroke-width="0.55" />
<rect x="371.80" y="749.50" width="10.90" height="13.10" fill="#8c3b2c" stroke="#1c1c1c" stroke-width="0.4" />
<line x1="396.35" y1="744.00" x2="396.35" y2="734.30" stroke="#222" stroke-width="0.55" />
<line x1="393.35" y1="734.30" x2="399.35" y2="734.30" stroke="#222" stroke-width="0.55" />
<rect x="390.90" y="744.00" width="10.90" height="18.60" fill="#8a2350" stroke="#1c1c1c" stroke-width="0.4" />
<line x1="422.65" y1="776.50" x2="422.65" y2="779.20" stroke="#222" stroke-width="0.55" />
<line x1="419.65" y1="779.20" x2="425.65" y2="779.20" stroke="#222" stroke-width="0.55" />
<rect x="417.20" y="762.60" width="10.90" height="13.90" fill="#8c3b2c" stroke="#1c1c1c" stroke-width="0.4" />
<line x1="441.55" y1="730.60" x2="441.55" y2="723.20" stroke="#222" stroke-width="0.55" />
<line x1="438.55" y1="723.20" x2="444.55" y2="723.20" stroke="#222" stroke-width="0.55" />
<rect x="436.10" y="730.60" width="10.90" height="32.00" fill="#8a2350" stroke="#1c1c1c" stroke-width="0.4" />
<line x1="368.80" y1="700.30" x2="368.80" y2="793.60" stroke="#000" stroke-width="0.85" />
<line x1="366.40" y1="700.60" x2="368.80" y2="700.60" stroke="#000" stroke-width="0.8" />
<text x="365.80" y="701.57" font-size="2.7" text-anchor="end" font-weight="bold" stroke="#000" stroke-width="0.06">2.0</text>
<line x1="366.40" y1="731.60" x2="368.80" y2="731.60" stroke="#000" stroke-width="0.8" />
<text x="365.80" y="732.57" font-size="2.7" text-anchor="end" font-weight="bold" stroke="#000" stroke-width="0.06">1.5</text>
<line x1="366.40" y1="762.60" x2="368.80" y2="762.60" stroke="#000" stroke-width="0.8" />
<text x="365.80" y="763.57" font-size="2.7" text-anchor="end" font-weight="bold" stroke="#000" stroke-width="0.06">1.0</text>
<line x1="366.40" y1="793.60" x2="368.80" y2="793.60" stroke="#000" stroke-width="0.8" />
<text x="365.80" y="794.57" font-size="2.7" text-anchor="end" font-weight="bold" stroke="#000" stroke-width="0.06">0.5</text>
<line x1="367.20" y1="703.70" x2="368.80" y2="703.70" stroke="#000" stroke-width="0.8" />
<line x1="367.20" y1="706.80" x2="368.80" y2="706.80" stroke="#000" stroke-width="0.8" />
<line x1="367.20" y1="709.90" x2="368.80" y2="709.90" stroke="#000" stroke-width="0.8" />
<line x1="367.20" y1="713.00" x2="368.80" y2="713.00" stroke="#000" stroke-width="0.8" />
<line x1="367.20" y1="716.10" x2="368.80" y2="716.10" stroke="#000" stroke-width="0.8" />
<line x1="367.20" y1="719.20" x2="368.80" y2="719.20" stroke="#000" stroke-width="0.8" />
<line x1="367.20" y1="722.30" x2="368.80" y2="722.30" stroke="#000" stroke-width="0.8" />
<line x1="367.20" y1="725.40" x2="368.80" y2="725.40" stroke="#000" stroke-width="0.8" />
<line x1="367.20" y1="728.50" x2="368.80" y2="728.50" stroke="#000" stroke-width="0.8" />
<line x1="367.20" y1="734.70" x2="368.80" y2="734.70" stroke="#000" stroke-width="0.8" />
<line x1="367.20" y1="737.80" x2="368.80" y2="737.80" stroke="#000" stroke-width="0.8" />
<line x1="367.20" y1="740.90" x2="368.80" y2="740.90" stroke="#000" stroke-width="0.8" />
<line x1="367.20" y1="744.00" x2="368.80" y2="744.00" stroke="#000" stroke-width="0.8" />
<line x1="367.20" y1="747.10" x2="368.80" y2="747.10" stroke="#000" stroke-width="0.8" />
<line x1="367.20" y1="750.20" x2="368.80" y2="750.20" stroke="#000" stroke-width="0.8" />
<line x1="367.20" y1="753.30" x2="368.80" y2="753.30" stroke="#000" stroke-width="0.8" />
<line x1="367.20" y1="756.40" x2="368.80" y2="756.40" stroke="#000" stroke-width="0.8" />
<line x1="367.20" y1="759.50" x2="368.80" y2="759.50" stroke="#000" stroke-width="0.8" />
<line x1="367.20" y1="765.70" x2="368.80" y2="765.70" stroke="#000" stroke-width="0.8" />
<line x1="367.20" y1="768.80" x2="368.80" y2="768.80" stroke="#000" stroke-width="0.8" />
<line x1="367.20" y1="771.90" x2="368.80" y2="771.90" stroke="#000" stroke-width="0.8" />
<line x1="367.20" y1="775.00" x2="368.80" y2="775.00" stroke="#000" stroke-width="0.8" />
<line x1="367.20" y1="778.10" x2="368.80" y2="778.10" stroke="#000" stroke-width="0.8" />
<line x1="367.20" y1="781.20" x2="368.80" y2="781.20" stroke="#000" stroke-width="0.8" />
<line x1="367.20" y1="784.30" x2="368.80" y2="784.30" stroke="#000" stroke-width="0.8" />
<line x1="367.20" y1="787.40" x2="368.80" y2="787.40" stroke="#000" stroke-width="0.8" />
<line x1="367.20" y1="790.50" x2="368.80" y2="790.50" stroke="#000" stroke-width="0.8" />
<line x1="368.50" y1="762.60" x2="450.50" y2="762.60" stroke="#000" stroke-width="0.8" />
<text x="387.20" y="769.37" font-size="2.7" text-anchor="middle" font-weight="bold" stroke="#000" stroke-width="0.08">1H</text>
<line x1="384.60" y1="762.60" x2="384.60" y2="763.80" stroke="#000" stroke-width="0.4" />
<text x="431.80" y="769.37" font-size="2.7" text-anchor="middle" font-weight="bold" stroke="#000" stroke-width="0.08">24H</text>
<line x1="428.20" y1="762.60" x2="428.20" y2="763.80" stroke="#000" stroke-width="0.4" />
<text font-size="4.0" text-anchor="middle" font-weight="bold" textLength="52" lengthAdjust="spacingAndGlyphs" stroke="#000" stroke-width="0.1" transform="translate(358.10 747.20) rotate(-90)">Relative mRNA expression</text>
<path d="M423.20 719.90V717.90H441.00V719.90" fill="none" stroke="#222" stroke-width="0.6" />
<text x="432.10" y="718.20" font-size="6.0" text-anchor="middle" font-weight="bold">**</text>
<rect x="458.60" y="700.80" width="4.60" height="3.40" fill="#8c3b2c" stroke="#222" stroke-width="0.4" />
<text x="465.20" y="704.29" font-size="3.85" fill="#111" stroke="#111" stroke-width="0.08">Capan-2 CTRL</text>
<rect x="458.60" y="707.00" width="4.60" height="3.40" fill="#8a2350" stroke="#222" stroke-width="0.4" />
<text x="465.20" y="710.49" font-size="3.85" fill="#111" stroke="#111" stroke-width="0.08">Capan-2 DDB2-high</text>
<text x="243.50" y="372.16" font-size="6.0" text-anchor="middle" font-weight="bold" textLength="28.6" lengthAdjust="spacingAndGlyphs" stroke="#000" stroke-width="0.2">T3M4 CTRL</text>
<line x1="219.50" y1="373.30" x2="268.90" y2="373.30" stroke="#444" stroke-width="0.45" />
<text x="299.60" y="372.16" font-size="6.0" text-anchor="middle" font-weight="bold" textLength="42.4" lengthAdjust="spacingAndGlyphs" stroke="#000" stroke-width="0.2">T3M4 DDB2-low</text>
<line x1="274.20" y1="373.30" x2="324.10" y2="373.30" stroke="#444" stroke-width="0.45" />
<text x="205.60" y="383.65" font-size="6.8" text-anchor="end" font-weight="bold" textLength="30.5" lengthAdjust="spacingAndGlyphs" stroke="#000" stroke-width="0.2">Post-IR (h)</text>
<text x="220.90" y="383.43" font-size="6.2" text-anchor="middle" font-weight="bold" stroke="#000" stroke-width="0.2">-</text>
<text x="235.00" y="383.43" font-size="6.2" text-anchor="middle" font-weight="bold" stroke="#000" stroke-width="0.2">1</text>
<text x="248.90" y="383.43" font-size="6.2" text-anchor="middle" font-weight="bold" stroke="#000" stroke-width="0.2">3</text>
<text x="263.30" y="383.43" font-size="6.2" text-anchor="middle" font-weight="bold" stroke="#000" stroke-width="0.2">24</text>
<text x="277.50" y="383.43" font-size="6.2" text-anchor="middle" font-weight="bold" stroke="#000" stroke-width="0.2">-</text>
<text x="291.20" y="383.43" font-size="6.2" text-anchor="middle" font-weight="bold" stroke="#000" stroke-width="0.2">1</text>
<text x="305.10" y="383.43" font-size="6.2" text-anchor="middle" font-weight="bold" stroke="#000" stroke-width="0.2">3</text>
<text x="320.00" y="383.43" font-size="6.2" text-anchor="middle" font-weight="bold" stroke="#000" stroke-width="0.2">24</text>
<text x="205.60" y="396.39" font-size="7.2" text-anchor="end" textLength="40" lengthAdjust="spacingAndGlyphs" stroke="#000" stroke-width="0.24">Chk1 (56 kDa)</text>
<rect x="216.6" y="391.43" width="8.6" height="2.14" rx="1.07" fill="#000" opacity="0.72" filter="url(#b1)"/>
<rect x="230.7" y="391.43" width="8.6" height="2.14" rx="1.07" fill="#000" opacity="0.72" filter="url(#b1)"/>
<rect x="244.6" y="391.43" width="8.6" height="2.14" rx="1.07" fill="#000" opacity="0.72" filter="url(#b1)"/>
<rect x="259.0" y="391.43" width="8.6" height="2.14" rx="1.07" fill="#000" opacity="0.72" filter="url(#b1)"/>
<rect x="273.1" y="391.27" width="8.8" height="2.46" rx="1.23" fill="#000" opacity="0.96" filter="url(#b1)"/>
<rect x="286.8" y="391.34" width="8.7" height="2.33" rx="1.16" fill="#000" opacity="0.86" filter="url(#b1)"/>
<rect x="300.9" y="391.53" width="8.4" height="1.95" rx="0.97" fill="#000" opacity="0.58" filter="url(#b1)"/>
<rect x="315.9" y="391.70" width="8.1" height="1.61" rx="0.80" fill="#000" opacity="0.32" filter="url(#b1)"/>
<text x="220.90" y="408.83" font-size="6.2" text-anchor="middle" stroke="#000" stroke-width="0.26">1.4</text>
<text x="235.00" y="408.83" font-size="6.2" text-anchor="middle" stroke="#000" stroke-width="0.26">1.3</text>
<text x="248.90" y="408.83" font-size="6.2" text-anchor="middle" stroke="#000" stroke-width="0.26">1.2</text>
<text x="263.30" y="408.83" font-size="6.2" text-anchor="middle" stroke="#000" stroke-width="0.26">0.9</text>
<text x="277.50" y="408.83" font-size="6.2" text-anchor="middle" stroke="#000" stroke-width="0.26">1.3</text>
<text x="291.20" y="408.83" font-size="6.2" text-anchor="middle" stroke="#000" stroke-width="0.26">1.2</text>
<text x="305.10" y="408.83" font-size="6.2" text-anchor="middle" stroke="#000" stroke-width="0.26">1.1</text>
<text x="320.00" y="408.83" font-size="6.2" text-anchor="middle" stroke="#000" stroke-width="0.26">0.9</text>
<text x="205.60" y="424.79" font-size="7.2" text-anchor="end" textLength="43" lengthAdjust="spacingAndGlyphs" stroke="#000" stroke-width="0.24">pChk1 (56 kDa)</text>
<rect x="215.00" y="416.50" width="112.50" height="12.00" fill="#f7f7f7" filter="url(#b2)"/>
<rect x="218.5" y="419.0" width="7" height="1" fill="#000" opacity="0.1" filter="url(#b1)"/>
<rect x="257.5" y="421.0" width="9" height="1" fill="#000" opacity="0.1" filter="url(#b1)"/>
<rect x="274.5" y="421.0" width="9" height="1" fill="#000" opacity="0.1" filter="url(#b1)"/>
<rect x="235.0" y="420.5" width="6" height="1" fill="#000" opacity="0.05" filter="url(#b1)"/>
<rect x="292.0" y="420.5" width="6" height="1" fill="#000" opacity="0.05" filter="url(#b1)"/>
<rect x="319.2" y="423.0" width="1.5" height="1" fill="#000" opacity="0.25" filter="url(#b1)"/>
<text x="220.90" y="437.13" font-size="6.2" text-anchor="middle" stroke="#000" stroke-width="0.26">0.9</text>
<text x="235.00" y="437.13" font-size="6.2" text-anchor="middle" stroke="#000" stroke-width="0.26">0.7</text>
<text x="248.90" y="437.13" font-size="6.2" text-anchor="middle" stroke="#000" stroke-width="0.26">0.4</text>
<text x="263.30" y="437.13" font-size="6.2" text-anchor="middle" stroke="#000" stroke-width="0.26">0.6</text>
<text x="277.50" y="437.13" font-size="6.2" text-anchor="middle" stroke="#000" stroke-width="0.26">0.4</text>
<text x="291.20" y="437.13" font-size="6.2" text-anchor="middle" stroke="#000" stroke-width="0.26">0.3</text>
<text x="305.10" y="437.13" font-size="6.2" text-anchor="middle" stroke="#000" stroke-width="0.26">0.1</text>
<text x="320.00" y="437.13" font-size="6.2" text-anchor="middle" stroke="#000" stroke-width="0.26">0</text>
<text x="204.20" y="457.79" font-size="7.2" text-anchor="end" textLength="40.2" lengthAdjust="spacingAndGlyphs" stroke="#000" stroke-width="0.24">Chk2 (62 kDa)</text>
<rect x="215.6" y="452.40" width="10.6" height="2.39" rx="1.20" fill="#000" opacity="0.91" filter="url(#b1)"/>
<rect x="230.0" y="452.66" width="10.0" height="1.89" rx="0.94" fill="#000" opacity="0.53" filter="url(#b1)"/>
<rect x="243.8" y="452.59" width="10.2" height="2.01" rx="1.01" fill="#000" opacity="0.62" filter="url(#b1)"/>
<rect x="258.1" y="452.44" width="10.5" height="2.33" rx="1.16" fill="#000" opacity="0.86" filter="url(#b1)"/>
<rect x="272.2" y="452.34" width="10.7" height="2.52" rx="1.26" fill="#000" opacity="1.00" filter="url(#b1)"/>
<rect x="285.9" y="452.37" width="10.6" height="2.46" rx="1.23" fill="#000" opacity="0.96" filter="url(#b1)"/>
<rect x="299.9" y="452.47" width="10.4" height="2.27" rx="1.13" fill="#000" opacity="0.81" filter="url(#b1)"/>
<rect x="314.8" y="452.47" width="10.4" height="2.27" rx="1.13" fill="#000" opacity="0.81" filter="url(#b1)"/>
<text x="220.90" y="469.43" font-size="6.2" text-anchor="middle" stroke="#000" stroke-width="0.26">0.9</text>
<text x="235.00" y="469.43" font-size="6.2" text-anchor="middle" stroke="#000" stroke-width="0.26">0.3</text>
<text x="248.90" y="469.43" font-size="6.2" text-anchor="middle" stroke="#000" stroke-width="0.26">0.5</text>
<text x="263.30" y="469.43" font-size="6.2" text-anchor="middle" stroke="#000" stroke-width="0.26">0.9</text>
<text x="277.50" y="469.43" font-size="6.2" text-anchor="middle" stroke="#000" stroke-width="0.26">1</text>
<text x="291.20" y="469.43" font-size="6.2" text-anchor="middle" stroke="#000" stroke-width="0.26">1.1</text>
<text x="305.10" y="469.43" font-size="6.2" text-anchor="middle" stroke="#000" stroke-width="0.26">0.7</text>
<text x="320.00" y="469.43" font-size="6.2" text-anchor="middle" stroke="#000" stroke-width="0.26">1</text>
<text x="204.20" y="485.19" font-size="7.2" text-anchor="end" textLength="44.4" lengthAdjust="spacingAndGlyphs" stroke="#000" stroke-width="0.24">pChk2 (62 kDa)</text>
<rect x="215.00" y="475.50" width="112.50" height="13.00" fill="#f4f4f4" filter="url(#b2)"/>
<rect x="216.3" y="480.58" width="9.2" height="1.63" rx="0.82" fill="#000" opacity="0.34" filter="url(#b1)"/>
<rect x="230.0" y="480.00" width="10.0" height="2.39" rx="1.20" fill="#000" opacity="0.91" filter="url(#b1)" transform="rotate(-4 235.0 481.2)"/>
<rect x="244.0" y="479.70" width="9.8" height="2.20" rx="1.10" fill="#000" opacity="0.77" filter="url(#b1)" transform="rotate(-3 248.9 480.8)"/>
<rect x="258.5" y="479.23" width="9.5" height="1.95" rx="0.97" fill="#000" opacity="0.58" filter="url(#b1)"/>
<rect x="272.9" y="480.45" width="9.1" height="1.51" rx="0.75" fill="#000" opacity="0.24" filter="url(#b1)"/>
<rect x="286.4" y="479.79" width="9.6" height="2.01" rx="1.01" fill="#000" opacity="0.62" filter="url(#b1)"/>
<rect x="300.3" y="479.83" width="9.5" height="1.95" rx="0.97" fill="#000" opacity="0.58" filter="url(#b1)"/>
<rect x="315.3" y="480.26" width="9.5" height="1.89" rx="0.94" fill="#000" opacity="0.53" filter="url(#b1)" transform="rotate(3 320.0 481.2)"/>
<text x="220.90" y="497.33" font-size="6.2" text-anchor="middle" stroke="#000" stroke-width="0.26">0.2</text>
<text x="235.00" y="497.33" font-size="6.2" text-anchor="middle" stroke="#000" stroke-width="0.26">2.5</text>
<text x="248.90" y="497.33" font-size="6.2" text-anchor="middle" stroke="#000" stroke-width="0.26">1.1</text>
<text x="263.30" y="497.33" font-size="6.2" text-anchor="middle" stroke="#000" stroke-width="0.26">0.7</text>
<text x="277.50" y="497.33" font-size="6.2" text-anchor="middle" stroke="#000" stroke-width="0.26">0.1</text>
<text x="291.20" y="497.33" font-size="6.2" text-anchor="middle" stroke="#000" stroke-width="0.26">0.3</text>
<text x="305.10" y="497.33" font-size="6.2" text-anchor="middle" stroke="#000" stroke-width="0.26">0.6</text>
<text x="320.00" y="497.33" font-size="6.2" text-anchor="middle" stroke="#000" stroke-width="0.26">0.6</text>
<text x="204.20" y="516.19" font-size="7.2" text-anchor="end" textLength="52.7" lengthAdjust="spacingAndGlyphs" stroke="#000" stroke-width="0.24">α-Tubulin (52 kDa)</text>
<rect x="215.4" y="511.90" width="11.0" height="2.60" rx="1.30" fill="#000" opacity="0.91" filter="url(#b1)"/>
<rect x="229.8" y="512.74" width="10.5" height="2.12" rx="1.06" fill="#000" opacity="0.58" filter="url(#b1)"/>
<rect x="243.5" y="512.77" width="10.8" height="2.46" rx="1.23" fill="#000" opacity="0.81" filter="url(#b1)"/>
<rect x="257.9" y="512.73" width="10.9" height="2.53" rx="1.27" fill="#000" opacity="0.86" filter="url(#b1)"/>
<rect x="272.0" y="512.47" width="11.0" height="2.67" rx="1.33" fill="#000" opacity="0.96" filter="url(#b1)"/>
<rect x="285.6" y="513.00" width="11.2" height="2.81" rx="1.40" fill="#000" opacity="1.00" filter="url(#b1)"/>
<rect x="299.7" y="512.97" width="10.8" height="2.46" rx="1.23" fill="#000" opacity="0.81" filter="url(#b1)"/>
<rect x="314.6" y="512.77" width="10.8" height="2.46" rx="1.23" fill="#000" opacity="0.81" filter="url(#b1)"/>
<text x="590.70" y="372.06" font-size="6.0" text-anchor="middle" font-weight="bold" textLength="30.4" lengthAdjust="spacingAndGlyphs" stroke="#000" stroke-width="0.2">T3M4 CTRL</text>
<line x1="564.90" y1="373.40" x2="618.00" y2="373.40" stroke="#444" stroke-width="0.45" />
<text x="651.00" y="372.06" font-size="6.0" text-anchor="middle" font-weight="bold" textLength="45.2" lengthAdjust="spacingAndGlyphs" stroke="#000" stroke-width="0.2">T3M4 DDB2-low</text>
<line x1="623.70" y1="373.40" x2="676.80" y2="373.40" stroke="#444" stroke-width="0.45" />
<text x="553.30" y="383.75" font-size="6.8" text-anchor="end" font-weight="bold" textLength="32.5" lengthAdjust="spacingAndGlyphs" stroke="#000" stroke-width="0.2">Post-IR (h)</text>
<text x="566.40" y="383.53" font-size="6.2" text-anchor="middle" font-weight="bold" stroke="#000" stroke-width="0.2">-</text>
<text x="581.00" y="383.53" font-size="6.2" text-anchor="middle" font-weight="bold" stroke="#000" stroke-width="0.2">1</text>
<text x="596.40" y="383.53" font-size="6.2" text-anchor="middle" font-weight="bold" stroke="#000" stroke-width="0.2">3</text>
<text x="611.90" y="383.53" font-size="6.2" text-anchor="middle" font-weight="bold" stroke="#000" stroke-width="0.2">24</text>
<text x="626.70" y="383.53" font-size="6.2" text-anchor="middle" font-weight="bold" stroke="#000" stroke-width="0.2">-</text>
<text x="641.90" y="383.53" font-size="6.2" text-anchor="middle" font-weight="bold" stroke="#000" stroke-width="0.2">1</text>
<text x="657.10" y="383.53" font-size="6.2" text-anchor="middle" font-weight="bold" stroke="#000" stroke-width="0.2">3</text>
<text x="672.60" y="383.53" font-size="6.2" text-anchor="middle" font-weight="bold" stroke="#000" stroke-width="0.2">24</text>
<text x="553.30" y="397.59" font-size="7.2" text-anchor="end" textLength="43" lengthAdjust="spacingAndGlyphs" stroke="#000" stroke-width="0.24">ATR (300 kDa)</text>
<rect x="560.20" y="388.00" width="117.80" height="13.50" fill="#f5f5f5" filter="url(#b2)"/>
<rect x="560.2" y="396.87" width="12.3" height="2.07" rx="1.03" fill="#000" opacity="0.81" filter="url(#b1)" transform="rotate(3 566.4 397.9)"/>
<rect x="575.0" y="397.25" width="12.1" height="1.90" rx="0.95" fill="#000" opacity="0.67" filter="url(#b1)" transform="rotate(-3 581.0 398.2)"/>
<rect x="590.3" y="395.89" width="12.2" height="2.01" rx="1.01" fill="#000" opacity="0.77" filter="url(#b1)" transform="rotate(-5 596.4 396.9)"/>
<rect x="605.7" y="395.34" width="12.4" height="2.13" rx="1.06" fill="#000" opacity="0.86" filter="url(#b1)"/>
<rect x="620.4" y="394.98" width="12.5" height="2.24" rx="1.12" fill="#000" opacity="0.96" filter="url(#b1)"/>
<rect x="635.8" y="395.27" width="12.3" height="2.07" rx="1.03" fill="#000" opacity="0.81" filter="url(#b1)"/>
<rect x="651.0" y="395.62" width="12.2" height="1.95" rx="0.98" fill="#000" opacity="0.72" filter="url(#b1)" transform="rotate(3 657.1 396.6)"/>
<rect x="666.8" y="394.67" width="11.5" height="1.47" rx="0.73" fill="#000" opacity="0.32" filter="url(#b1)" transform="rotate(-12 672.6 395.4)"/>
<text x="566.40" y="412.23" font-size="6.2" text-anchor="middle" stroke="#000" stroke-width="0.26">0.5</text>
<text x="581.00" y="412.23" font-size="6.2" text-anchor="middle" stroke="#000" stroke-width="0.26">0.3</text>
<text x="596.40" y="412.23" font-size="6.2" text-anchor="middle" stroke="#000" stroke-width="0.26">0.7</text>
<text x="611.90" y="412.23" font-size="6.2" text-anchor="middle" stroke="#000" stroke-width="0.26">0.9</text>
<text x="626.70" y="412.23" font-size="6.2" text-anchor="middle" stroke="#000" stroke-width="0.26">0.8</text>
<text x="641.90" y="412.23" font-size="6.2" text-anchor="middle" stroke="#000" stroke-width="0.26">0.7</text>
<text x="657.10" y="412.23" font-size="6.2" text-anchor="middle" stroke="#000" stroke-width="0.26">0.5</text>
<text x="672.60" y="412.23" font-size="6.2" text-anchor="middle" stroke="#000" stroke-width="0.26">0.3</text>
<text x="553.30" y="428.69" font-size="7.2" text-anchor="end" textLength="47" lengthAdjust="spacingAndGlyphs" stroke="#000" stroke-width="0.24">pATR (300 kDa)</text>
<rect x="560.20" y="419.00" width="117.80" height="13.70" fill="#f5f5f5" filter="url(#b2)"/>
<rect x="560.1" y="428.40" width="12.6" height="2.41" rx="1.20" fill="#000" opacity="1.00" filter="url(#b1)" transform="rotate(3 566.4 429.6)"/>
<rect x="575.0" y="428.81" width="12.1" height="1.99" rx="0.99" fill="#000" opacity="0.67" filter="url(#b1)" transform="rotate(-4 581.0 429.8)"/>
<rect x="590.3" y="426.65" width="12.2" height="2.11" rx="1.05" fill="#000" opacity="0.77" filter="url(#b1)" transform="rotate(-6 596.4 427.7)"/>
<rect x="605.8" y="425.42" width="12.3" height="2.17" rx="1.08" fill="#000" opacity="0.81" filter="url(#b1)" transform="rotate(-4 611.9 426.5)"/>
<rect x="620.4" y="424.70" width="12.6" height="2.41" rx="1.20" fill="#000" opacity="1.00" filter="url(#b1)"/>
<rect x="635.6" y="424.20" width="12.6" height="2.41" rx="1.20" fill="#000" opacity="1.00" filter="url(#b1)"/>
<rect x="651.0" y="424.45" width="12.2" height="2.11" rx="1.05" fill="#000" opacity="0.77" filter="url(#b1)" transform="rotate(3 657.1 425.5)"/>
<rect x="666.9" y="424.07" width="11.4" height="1.47" rx="0.73" fill="#000" opacity="0.26" filter="url(#b1)" transform="rotate(-12 672.6 424.8)"/>
<text x="566.40" y="442.63" font-size="6.2" text-anchor="middle" stroke="#000" stroke-width="0.26">0.6</text>
<text x="581.00" y="442.63" font-size="6.2" text-anchor="middle" stroke="#000" stroke-width="0.26">0.3</text>
<text x="596.40" y="442.63" font-size="6.2" text-anchor="middle" stroke="#000" stroke-width="0.26">0.5</text>
<text x="611.90" y="442.63" font-size="6.2" text-anchor="middle" stroke="#000" stroke-width="0.26">0.6</text>
<text x="626.70" y="442.63" font-size="6.2" text-anchor="middle" stroke="#000" stroke-width="0.26">0.7</text>
<text x="641.90" y="442.63" font-size="6.2" text-anchor="middle" stroke="#000" stroke-width="0.26">0.8</text>
<text x="657.10" y="442.63" font-size="6.2" text-anchor="middle" stroke="#000" stroke-width="0.26">0.5</text>
<text x="672.60" y="442.63" font-size="6.2" text-anchor="middle" stroke="#000" stroke-width="0.26">0.3</text>
<text x="553.30" y="463.89" font-size="7.2" text-anchor="end" textLength="45" lengthAdjust="spacingAndGlyphs" stroke="#000" stroke-width="0.24">ATM (350 kDa)</text>
<rect x="560.20" y="453.00" width="117.80" height="14.50" fill="#f3f3f3" filter="url(#b2)"/>
<rect x="560.5" y="462.59" width="11.8" height="1.82" rx="0.91" fill="#000" opacity="0.48" filter="url(#b1)"/>
<rect x="575.1" y="462.62" width="11.7" height="1.76" rx="0.88" fill="#000" opacity="0.43" filter="url(#b1)"/>
<rect x="590.4" y="460.89" width="12.0" height="2.01" rx="1.01" fill="#000" opacity="0.62" filter="url(#b1)" transform="rotate(-4 596.4 461.9)"/>
<rect x="605.6" y="459.64" width="12.6" height="2.52" rx="1.26" fill="#000" opacity="1.00" filter="url(#b1)"/>
<rect x="620.4" y="459.47" width="12.5" height="2.46" rx="1.23" fill="#000" opacity="0.96" filter="url(#b1)"/>
<rect x="635.7" y="459.54" width="12.4" height="2.33" rx="1.16" fill="#000" opacity="0.86" filter="url(#b1)"/>
<rect x="651.0" y="459.60" width="12.2" height="2.20" rx="1.10" fill="#000" opacity="0.77" filter="url(#b1)"/>
<rect x="666.6" y="457.46" width="12.1" height="2.08" rx="1.04" fill="#000" opacity="0.67" filter="url(#b1)" transform="rotate(-18 672.6 458.5)"/>
<text x="566.40" y="476.63" font-size="6.2" text-anchor="middle" stroke="#000" stroke-width="0.26">0.3</text>
<text x="581.00" y="476.63" font-size="6.2" text-anchor="middle" stroke="#000" stroke-width="0.26">0.2</text>
<text x="596.40" y="476.63" font-size="6.2" text-anchor="middle" stroke="#000" stroke-width="0.26">0.3</text>
<text x="611.90" y="476.63" font-size="6.2" text-anchor="middle" stroke="#000" stroke-width="0.26">0.9</text>
<text x="626.70" y="476.63" font-size="6.2" text-anchor="middle" stroke="#000" stroke-width="0.26">0.6</text>
<text x="641.90" y="476.63" font-size="6.2" text-anchor="middle" stroke="#000" stroke-width="0.26">0.6</text>
<text x="657.10" y="476.63" font-size="6.2" text-anchor="middle" stroke="#000" stroke-width="0.26">0.5</text>
<text x="672.60" y="476.63" font-size="6.2" text-anchor="middle" stroke="#000" stroke-width="0.26">0.6</text>
<text x="552.50" y="493.59" font-size="7.2" text-anchor="end" textLength="49" lengthAdjust="spacingAndGlyphs" stroke="#000" stroke-width="0.24">pATM (350 kDa)</text>
<rect x="560.20" y="481.00" width="117.80" height="17.00" fill="#f6f6f6" filter="url(#b2)"/>
<rect x="560.9" y="492.62" width="10.9" height="1.77" rx="0.88" fill="#000" opacity="0.24" filter="url(#b1)"/>
<rect x="575.5" y="492.98" width="11.0" height="1.84" rx="0.92" fill="#000" opacity="0.29" filter="url(#b1)"/>
<rect x="590.7" y="490.36" width="11.4" height="2.29" rx="1.14" fill="#000" opacity="0.58" filter="url(#b1)" transform="rotate(-4 596.4 491.5)"/>
<rect x="606.0" y="489.33" width="11.9" height="2.73" rx="1.37" fill="#000" opacity="0.86" filter="url(#b1)"/>
<rect x="621.1" y="490.07" width="11.2" height="2.07" rx="1.03" fill="#000" opacity="0.43" filter="url(#b1)"/>
<rect x="636.1" y="489.24" width="11.7" height="2.51" rx="1.26" fill="#000" opacity="0.72" filter="url(#b1)"/>
<rect x="651.4" y="489.19" width="11.4" height="2.21" rx="1.11" fill="#000" opacity="0.53" filter="url(#b1)"/>
<rect x="667.0" y="487.47" width="11.2" height="2.07" rx="1.03" fill="#000" opacity="0.43" filter="url(#b1)" transform="rotate(-18 672.6 488.5)"/>
<text x="566.40" y="507.23" font-size="6.2" text-anchor="middle" stroke="#000" stroke-width="0.26">0.3</text>
<text x="581.00" y="507.23" font-size="6.2" text-anchor="middle" stroke="#000" stroke-width="0.26">0.3</text>
<text x="596.40" y="507.23" font-size="6.2" text-anchor="middle" stroke="#000" stroke-width="0.26">0.7</text>
<text x="611.90" y="507.23" font-size="6.2" text-anchor="middle" stroke="#000" stroke-width="0.26">1.1</text>
<text x="626.70" y="507.23" font-size="6.2" text-anchor="middle" stroke="#000" stroke-width="0.26">0.4</text>
<text x="641.90" y="507.23" font-size="6.2" text-anchor="middle" stroke="#000" stroke-width="0.26">0.8</text>
<text x="657.10" y="507.23" font-size="6.2" text-anchor="middle" stroke="#000" stroke-width="0.26">0.5</text>
<text x="672.60" y="507.23" font-size="6.2" text-anchor="middle" stroke="#000" stroke-width="0.26">0.6</text>
<text x="553.30" y="526.89" font-size="7.2" text-anchor="end" textLength="57" lengthAdjust="spacingAndGlyphs" stroke="#000" stroke-width="0.24">α-Tubulin (52 kDa)</text>
<rect x="559.9" y="526.53" width="13.0" height="2.13" rx="1.07" fill="#000" opacity="0.96" filter="url(#b1)"/>
<rect x="574.5" y="526.73" width="13.0" height="2.13" rx="1.07" fill="#000" opacity="0.96" filter="url(#b1)"/>
<rect x="589.9" y="526.56" width="12.9" height="2.08" rx="1.04" fill="#000" opacity="0.91" filter="url(#b1)" transform="rotate(-3 596.4 527.6)"/>
<rect x="605.4" y="525.56" width="12.9" height="2.08" rx="1.04" fill="#000" opacity="0.91" filter="url(#b1)" transform="rotate(-8 611.9 526.6)"/>
<rect x="620.2" y="523.76" width="12.9" height="2.08" rx="1.04" fill="#000" opacity="0.91" filter="url(#b1)" transform="rotate(-2 626.7 524.8)"/>
<rect x="635.4" y="523.93" width="13.0" height="2.13" rx="1.07" fill="#000" opacity="0.96" filter="url(#b1)" transform="rotate(5 641.9 525.0)"/>
<rect x="650.6" y="524.53" width="13.0" height="2.13" rx="1.07" fill="#000" opacity="0.96" filter="url(#b1)" transform="rotate(-6 657.1 525.6)"/>
<rect x="666.2" y="521.01" width="12.8" height="1.97" rx="0.98" fill="#000" opacity="0.81" filter="url(#b1)" transform="rotate(-14 672.6 522.0)"/>
<text x="240.30" y="600.06" font-size="6.0" text-anchor="middle" font-weight="bold" textLength="38" lengthAdjust="spacingAndGlyphs" stroke="#000" stroke-width="0.2">Capan-2 CTRL</text>
<line x1="215.10" y1="601.30" x2="268.40" y2="601.30" stroke="#444" stroke-width="0.45" />
<text x="298.80" y="600.06" font-size="6.0" text-anchor="middle" font-weight="bold" textLength="54.2" lengthAdjust="spacingAndGlyphs" stroke="#000" stroke-width="0.2">Capan-2 DDB2-high</text>
<line x1="273.00" y1="601.30" x2="325.90" y2="601.30" stroke="#444" stroke-width="0.45" />
<text x="209.10" y="611.05" font-size="6.8" text-anchor="end" font-weight="bold" textLength="32.0" lengthAdjust="spacingAndGlyphs" stroke="#000" stroke-width="0.2">Post-IR (h)</text>
<text x="220.90" y="610.83" font-size="6.2" text-anchor="middle" font-weight="bold" stroke="#000" stroke-width="0.2">-</text>
<text x="235.60" y="610.83" font-size="6.2" text-anchor="middle" font-weight="bold" stroke="#000" stroke-width="0.2">1</text>
<text x="250.50" y="610.83" font-size="6.2" text-anchor="middle" font-weight="bold" stroke="#000" stroke-width="0.2">3</text>
<text x="265.30" y="610.83" font-size="6.2" text-anchor="middle" font-weight="bold" stroke="#000" stroke-width="0.2">24</text>
<text x="280.80" y="610.83" font-size="6.2" text-anchor="middle" font-weight="bold" stroke="#000" stroke-width="0.2">-</text>
<text x="294.90" y="610.83" font-size="6.2" text-anchor="middle" font-weight="bold" stroke="#000" stroke-width="0.2">1</text>
<text x="310.40" y="610.83" font-size="6.2" text-anchor="middle" font-weight="bold" stroke="#000" stroke-width="0.2">3</text>
<text x="325.30" y="610.83" font-size="6.2" text-anchor="middle" font-weight="bold" stroke="#000" stroke-width="0.2">24</text>
<text x="209.60" y="627.29" font-size="7.2" text-anchor="end" textLength="41.5" lengthAdjust="spacingAndGlyphs" stroke="#000" stroke-width="0.24">Chk1 (56 kDa)</text>
<rect x="215.8" y="622.92" width="10.3" height="1.76" rx="0.88" fill="#000" opacity="0.43" filter="url(#b1)"/>
<rect x="230.3" y="622.76" width="10.6" height="2.08" rx="1.04" fill="#000" opacity="0.67" filter="url(#b1)"/>
<rect x="245.2" y="622.79" width="10.6" height="2.01" rx="1.01" fill="#000" opacity="0.62" filter="url(#b1)"/>
<rect x="259.9" y="623.04" width="10.9" height="2.33" rx="1.16" fill="#000" opacity="0.86" filter="url(#b1)"/>
<rect x="275.4" y="622.67" width="10.8" height="2.27" rx="1.13" fill="#000" opacity="0.81" filter="url(#b1)"/>
<rect x="289.5" y="622.70" width="10.8" height="2.20" rx="1.10" fill="#000" opacity="0.77" filter="url(#b1)"/>
<rect x="304.9" y="621.94" width="11.1" height="2.52" rx="1.26" fill="#000" opacity="1.00" filter="url(#b1)"/>
<rect x="320.1" y="620.89" width="10.4" height="1.82" rx="0.91" fill="#000" opacity="0.48" filter="url(#b1)" transform="rotate(-10 325.3 621.8)"/>
<text x="220.90" y="639.83" font-size="6.2" text-anchor="middle" stroke="#000" stroke-width="0.26">0.6</text>
<text x="235.60" y="639.83" font-size="6.2" text-anchor="middle" stroke="#000" stroke-width="0.26">1.2</text>
<text x="250.50" y="639.83" font-size="6.2" text-anchor="middle" stroke="#000" stroke-width="0.26">1</text>
<text x="265.30" y="639.83" font-size="6.2" text-anchor="middle" stroke="#000" stroke-width="0.26">1</text>
<text x="280.80" y="639.83" font-size="6.2" text-anchor="middle" stroke="#000" stroke-width="0.26">0.7</text>
<text x="294.90" y="639.83" font-size="6.2" text-anchor="middle" stroke="#000" stroke-width="0.26">2.2</text>
<text x="310.40" y="639.83" font-size="6.2" text-anchor="middle" stroke="#000" stroke-width="0.26">1.6</text>
<text x="325.30" y="639.83" font-size="6.2" text-anchor="middle" stroke="#000" stroke-width="0.26">0.9</text>
<text x="209.10" y="655.39" font-size="7.2" text-anchor="end" textLength="46" lengthAdjust="spacingAndGlyphs" stroke="#000" stroke-width="0.24">pChk1 (56 kDa)</text>
<rect x="214.40" y="647.50" width="118.60" height="14.50" fill="#e7e7e7" filter="url(#b2)"/>
<rect x="216.2" y="653.79" width="9.5" height="1.42" rx="0.71" fill="#000" opacity="0.18" filter="url(#b1)"/>
<rect x="230.5" y="653.40" width="10.3" height="2.20" rx="1.10" fill="#000" opacity="0.77" filter="url(#b1)"/>
<rect x="245.4" y="653.40" width="10.3" height="2.20" rx="1.10" fill="#000" opacity="0.77" filter="url(#b1)"/>
<rect x="260.5" y="653.75" width="9.6" height="1.51" rx="0.75" fill="#000" opacity="0.24" filter="url(#b1)"/>
<rect x="276.0" y="653.78" width="9.5" height="1.43" rx="0.72" fill="#000" opacity="0.19" filter="url(#b1)"/>
<rect x="289.7" y="653.30" width="10.5" height="2.39" rx="1.20" fill="#000" opacity="0.91" filter="url(#b1)"/>
<rect x="305.3" y="653.46" width="10.1" height="2.08" rx="1.04" fill="#000" opacity="0.67" filter="url(#b1)"/>
<rect x="320.6" y="653.79" width="9.5" height="1.42" rx="0.71" fill="#000" opacity="0.18" filter="url(#b1)"/>
<text x="220.90" y="669.93" font-size="6.2" text-anchor="middle" stroke="#000" stroke-width="0.26">0.5</text>
<text x="235.60" y="669.93" font-size="6.2" text-anchor="middle" stroke="#000" stroke-width="0.26">2.3</text>
<text x="250.50" y="669.93" font-size="6.2" text-anchor="middle" stroke="#000" stroke-width="0.26">1.9</text>
<text x="265.30" y="669.93" font-size="6.2" text-anchor="middle" stroke="#000" stroke-width="0.26">0.3</text>
<text x="280.80" y="669.93" font-size="6.2" text-anchor="middle" stroke="#000" stroke-width="0.26">0.3</text>
<text x="294.90" y="669.93" font-size="6.2" text-anchor="middle" stroke="#000" stroke-width="0.26">4.1</text>
<text x="310.40" y="669.93" font-size="6.2" text-anchor="middle" stroke="#000" stroke-width="0.26">1.1</text>
<text x="325.30" y="669.93" font-size="6.2" text-anchor="middle" stroke="#000" stroke-width="0.26">0.5</text>
<text x="208.30" y="689.89" font-size="7.2" text-anchor="end" textLength="40.5" lengthAdjust="spacingAndGlyphs" stroke="#000" stroke-width="0.24">Chk2 (62 kDa)</text>
<rect x="215.4" y="685.74" width="11.1" height="2.52" rx="1.26" fill="#000" opacity="1.00" filter="url(#b1)"/>
<rect x="230.2" y="685.67" width="10.8" height="2.27" rx="1.13" fill="#000" opacity="0.81" filter="url(#b1)"/>
<rect x="245.4" y="685.12" width="10.3" height="1.76" rx="0.88" fill="#000" opacity="0.43" filter="url(#b1)"/>
<rect x="259.8" y="684.77" width="11.0" height="2.46" rx="1.23" fill="#000" opacity="0.96" filter="url(#b1)" transform="rotate(-3 265.3 686.0)"/>
<rect x="275.2" y="683.91" width="11.2" height="2.58" rx="1.29" fill="#000" opacity="1.00" filter="url(#b1)" transform="rotate(-4 280.8 685.2)"/>
<rect x="289.9" y="683.03" width="10.1" height="1.53" rx="0.77" fill="#000" opacity="0.26" filter="url(#b1)"/>
<rect x="305.3" y="684.55" width="10.2" height="1.70" rx="0.85" fill="#000" opacity="0.39" filter="url(#b1)" transform="rotate(4 310.4 685.4)"/>
<rect x="320.1" y="683.63" width="10.5" height="1.95" rx="0.97" fill="#000" opacity="0.58" filter="url(#b1)"/>
<text x="220.90" y="702.03" font-size="6.2" text-anchor="middle" stroke="#000" stroke-width="0.26">0.6</text>
<text x="235.60" y="702.03" font-size="6.2" text-anchor="middle" stroke="#000" stroke-width="0.26">0.5</text>
<text x="250.50" y="702.03" font-size="6.2" text-anchor="middle" stroke="#000" stroke-width="0.26">0.2</text>
<text x="265.30" y="702.03" font-size="6.2" text-anchor="middle" stroke="#000" stroke-width="0.26">0.5</text>
<text x="280.80" y="702.03" font-size="6.2" text-anchor="middle" stroke="#000" stroke-width="0.26">1</text>
<text x="294.90" y="702.03" font-size="6.2" text-anchor="middle" stroke="#000" stroke-width="0.26">0.3</text>
<text x="310.40" y="702.03" font-size="6.2" text-anchor="middle" stroke="#000" stroke-width="0.26">0.3</text>
<text x="325.30" y="702.03" font-size="6.2" text-anchor="middle" stroke="#000" stroke-width="0.26">0.4</text>
<text x="208.00" y="720.39" font-size="7.2" text-anchor="end" textLength="46.6" lengthAdjust="spacingAndGlyphs" stroke="#000" stroke-width="0.24">pChk2 (62 kDa)</text>
<rect x="214.40" y="710.60" width="118.60" height="13.80" fill="#f3f3f3" filter="url(#b2)"/>
<rect x="215.6" y="716.41" width="10.6" height="1.98" rx="0.99" fill="#000" opacity="0.29" filter="url(#b1)"/>
<rect x="229.7" y="715.73" width="11.7" height="3.33" rx="1.67" fill="#000" opacity="1.00" filter="url(#b1)"/>
<rect x="244.8" y="714.97" width="11.3" height="2.86" rx="1.43" fill="#000" opacity="0.81" filter="url(#b1)"/>
<rect x="259.7" y="715.09" width="11.1" height="2.62" rx="1.31" fill="#000" opacity="0.67" filter="url(#b1)"/>
<rect x="275.6" y="715.45" width="10.5" height="1.90" rx="0.95" fill="#000" opacity="0.24" filter="url(#b1)"/>
<rect x="289.1" y="713.57" width="11.7" height="3.26" rx="1.63" fill="#000" opacity="1.00" filter="url(#b1)"/>
<rect x="304.6" y="715.01" width="11.6" height="3.18" rx="1.59" fill="#000" opacity="1.00" filter="url(#b1)"/>
<rect x="320.1" y="714.87" width="10.4" height="1.85" rx="0.93" fill="#000" opacity="0.22" filter="url(#b1)"/>
<text x="220.90" y="733.13" font-size="6.2" text-anchor="middle" stroke="#000" stroke-width="0.26">0.2</text>
<text x="235.60" y="733.13" font-size="6.2" text-anchor="middle" stroke="#000" stroke-width="0.26">1.7</text>
<text x="250.50" y="733.13" font-size="6.2" text-anchor="middle" stroke="#000" stroke-width="0.26">0.6</text>
<text x="265.30" y="733.13" font-size="6.2" text-anchor="middle" stroke="#000" stroke-width="0.26">0.2</text>
<text x="280.80" y="733.13" font-size="6.2" text-anchor="middle" stroke="#000" stroke-width="0.26">0.1</text>
<text x="294.90" y="733.13" font-size="6.2" text-anchor="middle" stroke="#000" stroke-width="0.26">2.5</text>
<text x="310.40" y="733.13" font-size="6.2" text-anchor="middle" stroke="#000" stroke-width="0.26">1</text>
<text x="325.30" y="733.13" font-size="6.2" text-anchor="middle" stroke="#000" stroke-width="0.26">0.1</text>
<text x="207.70" y="753.19" font-size="7.2" text-anchor="end" textLength="56" lengthAdjust="spacingAndGlyphs" stroke="#000" stroke-width="0.24">α-Tubulin (52 kDa)</text>
<rect x="215.1" y="751.38" width="11.7" height="2.05" rx="1.02" fill="#000" opacity="0.72" filter="url(#b1)"/>
<rect x="229.7" y="750.72" width="11.8" height="2.17" rx="1.08" fill="#000" opacity="0.81" filter="url(#b1)"/>
<rect x="244.6" y="750.95" width="11.7" height="2.11" rx="1.05" fill="#000" opacity="0.77" filter="url(#b1)"/>
<rect x="259.3" y="751.06" width="12.0" height="2.29" rx="1.14" fill="#000" opacity="0.91" filter="url(#b1)"/>
<rect x="274.7" y="749.97" width="12.2" height="2.47" rx="1.23" fill="#000" opacity="1.00" filter="url(#b1)" transform="rotate(-3 280.8 751.2)"/>
<rect x="289.2" y="749.67" width="11.4" height="1.86" rx="0.93" fill="#000" opacity="0.58" filter="url(#b1)"/>
<rect x="304.4" y="748.86" width="12.0" height="2.29" rx="1.14" fill="#000" opacity="0.91" filter="url(#b1)" transform="rotate(-4 310.4 750.0)"/>
<rect x="319.5" y="747.01" width="11.6" height="1.99" rx="0.99" fill="#000" opacity="0.67" filter="url(#b1)" transform="rotate(-11 325.3 748.0)"/>
<text x="588.50" y="600.16" font-size="6.0" text-anchor="middle" font-weight="bold" textLength="37.4" lengthAdjust="spacingAndGlyphs" stroke="#000" stroke-width="0.2">Capan-2 CTRL</text>
<line x1="563.50" y1="602.30" x2="615.70" y2="602.30" stroke="#444" stroke-width="0.45" />
<text x="647.20" y="600.16" font-size="6.0" text-anchor="middle" font-weight="bold" textLength="53.5" lengthAdjust="spacingAndGlyphs" stroke="#000" stroke-width="0.2">Capan-2 DDB2-high</text>
<line x1="621.40" y1="602.30" x2="673.60" y2="602.30" stroke="#444" stroke-width="0.45" />
<text x="551.30" y="611.45" font-size="6.8" text-anchor="end" font-weight="bold" textLength="32.0" lengthAdjust="spacingAndGlyphs" stroke="#000" stroke-width="0.2">Post-IR (h)</text>
<text x="569.20" y="611.23" font-size="6.2" text-anchor="middle" font-weight="bold" stroke="#000" stroke-width="0.2">-</text>
<text x="583.80" y="611.23" font-size="6.2" text-anchor="middle" font-weight="bold" stroke="#000" stroke-width="0.2">1</text>
<text x="599.00" y="611.23" font-size="6.2" text-anchor="middle" font-weight="bold" stroke="#000" stroke-width="0.2">3</text>
<text x="613.80" y="611.23" font-size="6.2" text-anchor="middle" font-weight="bold" stroke="#000" stroke-width="0.2">24</text>
<text x="629.00" y="611.23" font-size="6.2" text-anchor="middle" font-weight="bold" stroke="#000" stroke-width="0.2">-</text>
<text x="643.80" y="611.23" font-size="6.2" text-anchor="middle" font-weight="bold" stroke="#000" stroke-width="0.2">1</text>
<text x="658.40" y="611.23" font-size="6.2" text-anchor="middle" font-weight="bold" stroke="#000" stroke-width="0.2">3</text>
<text x="673.60" y="611.23" font-size="6.2" text-anchor="middle" font-weight="bold" stroke="#000" stroke-width="0.2">24</text>
<text x="556.00" y="627.29" font-size="7.2" text-anchor="end" textLength="42" lengthAdjust="spacingAndGlyphs" stroke="#000" stroke-width="0.24">ATR (300 kDa)</text>
<rect x="562.60" y="617.00" width="119.40" height="13.80" fill="#f6f6f6" filter="url(#b2)"/>
<rect x="563.9" y="622.98" width="10.6" height="1.63" rx="0.82" fill="#000" opacity="0.34" filter="url(#b1)"/>
<rect x="578.4" y="623.12" width="10.8" height="1.76" rx="0.88" fill="#000" opacity="0.43" filter="url(#b1)"/>
<rect x="593.2" y="622.51" width="11.7" height="2.58" rx="1.29" fill="#000" opacity="1.00" filter="url(#b1)"/>
<rect x="608.5" y="622.98" width="10.6" height="1.63" rx="0.82" fill="#000" opacity="0.34" filter="url(#b1)"/>
<rect x="623.7" y="622.58" width="10.6" height="1.63" rx="0.82" fill="#000" opacity="0.34" filter="url(#b1)"/>
<rect x="638.3" y="622.26" width="10.9" height="1.89" rx="0.94" fill="#000" opacity="0.53" filter="url(#b1)"/>
<rect x="652.6" y="621.37" width="11.5" height="2.46" rx="1.23" fill="#000" opacity="0.96" filter="url(#b1)"/>
<rect x="668.3" y="622.35" width="10.7" height="1.70" rx="0.85" fill="#000" opacity="0.39" filter="url(#b1)"/>
<text x="569.20" y="640.03" font-size="6.2" text-anchor="middle" stroke="#000" stroke-width="0.26">0.5</text>
<text x="583.80" y="640.03" font-size="6.2" text-anchor="middle" stroke="#000" stroke-width="0.26">0.5</text>
<text x="599.00" y="640.03" font-size="6.2" text-anchor="middle" stroke="#000" stroke-width="0.26">1.9</text>
<text x="613.80" y="640.03" font-size="6.2" text-anchor="middle" stroke="#000" stroke-width="0.26">0.5</text>
<text x="629.00" y="640.03" font-size="6.2" text-anchor="middle" stroke="#000" stroke-width="0.26">0.6</text>
<text x="643.80" y="640.03" font-size="6.2" text-anchor="middle" stroke="#000" stroke-width="0.26">1</text>
<text x="658.40" y="640.03" font-size="6.2" text-anchor="middle" stroke="#000" stroke-width="0.26">1.5</text>
<text x="673.60" y="640.03" font-size="6.2" text-anchor="middle" stroke="#000" stroke-width="0.26">0.3</text>
<text x="556.00" y="656.09" font-size="7.2" text-anchor="end" textLength="46" lengthAdjust="spacingAndGlyphs" stroke="#000" stroke-width="0.24">pATR (300 kDa)</text>
<rect x="562.60" y="646.00" width="119.40" height="15.00" fill="#f6f6f6" filter="url(#b2)"/>
<rect x="563.9" y="654.18" width="10.6" height="1.63" rx="0.82" fill="#000" opacity="0.34" filter="url(#b1)"/>
<rect x="578.3" y="654.06" width="10.9" height="1.89" rx="0.94" fill="#000" opacity="0.53" filter="url(#b1)"/>
<rect x="593.1" y="653.28" width="11.7" height="2.64" rx="1.32" fill="#000" opacity="1.00" filter="url(#b1)"/>
<rect x="608.5" y="653.75" width="10.7" height="1.70" rx="0.85" fill="#000" opacity="0.39" filter="url(#b1)"/>
<rect x="623.7" y="653.18" width="10.6" height="1.63" rx="0.82" fill="#000" opacity="0.34" filter="url(#b1)"/>
<rect x="638.3" y="652.73" width="11.0" height="1.95" rx="0.97" fill="#000" opacity="0.58" filter="url(#b1)"/>
<rect x="652.6" y="652.01" width="11.7" height="2.58" rx="1.29" fill="#000" opacity="1.00" filter="url(#b1)"/>
<rect x="668.3" y="653.03" width="10.5" height="1.53" rx="0.77" fill="#000" opacity="0.26" filter="url(#b1)"/>
<text x="569.20" y="669.23" font-size="6.2" text-anchor="middle" stroke="#000" stroke-width="0.26">0.4</text>
<text x="583.80" y="669.23" font-size="6.2" text-anchor="middle" stroke="#000" stroke-width="0.26">0.5</text>
<text x="599.00" y="669.23" font-size="6.2" text-anchor="middle" stroke="#000" stroke-width="0.26">2.2</text>
<text x="613.80" y="669.23" font-size="6.2" text-anchor="middle" stroke="#000" stroke-width="0.26">0.5</text>
<text x="629.00" y="669.23" font-size="6.2" text-anchor="middle" stroke="#000" stroke-width="0.26">0.5</text>
<text x="643.80" y="669.23" font-size="6.2" text-anchor="middle" stroke="#000" stroke-width="0.26">0.9</text>
<text x="658.40" y="669.23" font-size="6.2" text-anchor="middle" stroke="#000" stroke-width="0.26">1.7</text>
<text x="673.60" y="669.23" font-size="6.2" text-anchor="middle" stroke="#000" stroke-width="0.26">0.2</text>
<text x="556.00" y="690.79" font-size="7.2" text-anchor="end" textLength="44" lengthAdjust="spacingAndGlyphs" stroke="#000" stroke-width="0.24">ATM (350 kDa)</text>
<rect x="562.60" y="680.50" width="119.40" height="13.50" fill="#f1f1f1" filter="url(#b2)"/>
<rect x="563.7" y="686.23" width="11.0" height="1.95" rx="0.97" fill="#000" opacity="0.58" filter="url(#b1)"/>
<rect x="578.3" y="686.43" width="11.0" height="1.95" rx="0.97" fill="#000" opacity="0.58" filter="url(#b1)"/>
<rect x="593.2" y="686.57" width="11.5" height="2.46" rx="1.23" fill="#000" opacity="0.96" filter="url(#b1)"/>
<rect x="608.1" y="687.04" width="11.4" height="2.33" rx="1.16" fill="#000" opacity="0.86" filter="url(#b1)"/>
<rect x="623.4" y="686.50" width="11.2" height="2.20" rx="1.10" fill="#000" opacity="0.77" filter="url(#b1)"/>
<rect x="638.5" y="687.18" width="10.6" height="1.63" rx="0.82" fill="#000" opacity="0.34" filter="url(#b1)"/>
<rect x="652.7" y="686.60" width="11.5" height="2.39" rx="1.20" fill="#000" opacity="0.91" filter="url(#b1)"/>
<rect x="667.8" y="686.94" width="11.6" height="2.52" rx="1.26" fill="#000" opacity="1.00" filter="url(#b1)"/>
<text x="569.20" y="703.13" font-size="6.2" text-anchor="middle" stroke="#000" stroke-width="0.26">0.6</text>
<text x="583.80" y="703.13" font-size="6.2" text-anchor="middle" stroke="#000" stroke-width="0.26">0.5</text>
<text x="599.00" y="703.13" font-size="6.2" text-anchor="middle" stroke="#000" stroke-width="0.26">1.7</text>
<text x="613.80" y="703.13" font-size="6.2" text-anchor="middle" stroke="#000" stroke-width="0.26">1.1</text>
<text x="629.00" y="703.13" font-size="6.2" text-anchor="middle" stroke="#000" stroke-width="0.26">1.3</text>
<text x="643.80" y="703.13" font-size="6.2" text-anchor="middle" stroke="#000" stroke-width="0.26">1</text>
<text x="658.40" y="703.13" font-size="6.2" text-anchor="middle" stroke="#000" stroke-width="0.26">1.5</text>
<text x="673.60" y="703.13" font-size="6.2" text-anchor="middle" stroke="#000" stroke-width="0.26">0.9</text>
<text x="556.00" y="720.99" font-size="7.2" text-anchor="end" textLength="49.4" lengthAdjust="spacingAndGlyphs" stroke="#000" stroke-width="0.24">pATM (350 kDa)</text>
<rect x="562.60" y="710.60" width="119.40" height="15.20" fill="#f3f3f3" filter="url(#b2)"/>
<rect x="663.50" y="711.00" width="18.00" height="14.50" fill="#dedede" filter="url(#b2)"/>
<rect x="564.0" y="718.65" width="10.4" height="1.90" rx="0.95" fill="#000" opacity="0.21" filter="url(#b1)"/>
<rect x="578.4" y="717.85" width="10.8" height="2.29" rx="1.15" fill="#000" opacity="0.43" filter="url(#b1)"/>
<rect x="593.3" y="718.12" width="11.3" height="2.96" rx="1.48" fill="#000" opacity="0.81" filter="url(#b1)"/>
<rect x="608.6" y="719.22" width="10.5" height="1.97" rx="0.98" fill="#000" opacity="0.24" filter="url(#b1)"/>
<rect x="623.8" y="718.62" width="10.5" height="1.97" rx="0.98" fill="#000" opacity="0.24" filter="url(#b1)"/>
<rect x="638.4" y="717.81" width="10.8" height="2.38" rx="1.19" fill="#000" opacity="0.48" filter="url(#b1)"/>
<rect x="652.7" y="717.68" width="11.4" height="3.04" rx="1.52" fill="#000" opacity="0.86" filter="url(#b1)"/>
<rect x="668.2" y="719.01" width="10.8" height="2.38" rx="1.19" fill="#000" opacity="0.48" filter="url(#b1)"/>
<text x="569.20" y="733.13" font-size="6.2" text-anchor="middle" stroke="#000" stroke-width="0.26">0.3</text>
<text x="583.80" y="733.13" font-size="6.2" text-anchor="middle" stroke="#000" stroke-width="0.26">0.7</text>
<text x="599.00" y="733.13" font-size="6.2" text-anchor="middle" stroke="#000" stroke-width="0.26">2</text>
<text x="613.80" y="733.13" font-size="6.2" text-anchor="middle" stroke="#000" stroke-width="0.26">0.4</text>
<text x="629.00" y="733.13" font-size="6.2" text-anchor="middle" stroke="#000" stroke-width="0.26">0.4</text>
<text x="643.80" y="733.13" font-size="6.2" text-anchor="middle" stroke="#000" stroke-width="0.26">1.1</text>
<text x="658.40" y="733.13" font-size="6.2" text-anchor="middle" stroke="#000" stroke-width="0.26">2</text>
<text x="673.60" y="733.13" font-size="6.2" text-anchor="middle" stroke="#000" stroke-width="0.26">0.7</text>
<text x="556.50" y="753.19" font-size="7.2" text-anchor="end" textLength="55.5" lengthAdjust="spacingAndGlyphs" stroke="#000" stroke-width="0.24">α-Tubulin (52 kDa)</text>
<rect x="564.9" y="747.99" width="8.6" height="2.01" rx="1.01" fill="#000" opacity="0.77" filter="url(#b1)" transform="rotate(6 569.2 749.0)"/>
<rect x="579.4" y="750.34" width="8.7" height="2.13" rx="1.06" fill="#000" opacity="0.86" filter="url(#b1)"/>
<rect x="594.7" y="750.17" width="8.7" height="2.07" rx="1.03" fill="#000" opacity="0.81" filter="url(#b1)"/>
<rect x="609.4" y="750.54" width="8.7" height="2.13" rx="1.06" fill="#000" opacity="0.86" filter="url(#b1)"/>
<rect x="624.7" y="750.39" width="8.6" height="2.01" rx="1.01" fill="#000" opacity="0.77" filter="url(#b1)"/>
<rect x="639.6" y="751.14" width="8.3" height="1.72" rx="0.86" fill="#000" opacity="0.53" filter="url(#b1)"/>
<rect x="654.0" y="750.31" width="8.8" height="2.18" rx="1.09" fill="#000" opacity="0.91" filter="url(#b1)"/>
<rect x="669.1" y="749.82" width="8.9" height="2.36" rx="1.18" fill="#000" opacity="1.00" filter="url(#b1)"/>
<text x="1.4" y="10.3" font-size="12.4" font-weight="bold" stroke="#000" stroke-width="0.4" textLength="8.8" lengthAdjust="spacingAndGlyphs">A</text>
<text x="2.5" y="174.9" font-size="12.4" font-weight="bold" stroke="#000" stroke-width="0.4" textLength="7.7" lengthAdjust="spacingAndGlyphs">B</text>
<text x="3.5" y="341.2" font-size="12.4" font-weight="bold" stroke="#000" stroke-width="0.4" textLength="7.6" lengthAdjust="spacingAndGlyphs">C</text>
<text x="3.8" y="576.9" font-size="12.4" font-weight="bold" stroke="#000" stroke-width="0.4" textLength="8.2" lengthAdjust="spacingAndGlyphs">D</text>
</svg>
</body>
</html>
